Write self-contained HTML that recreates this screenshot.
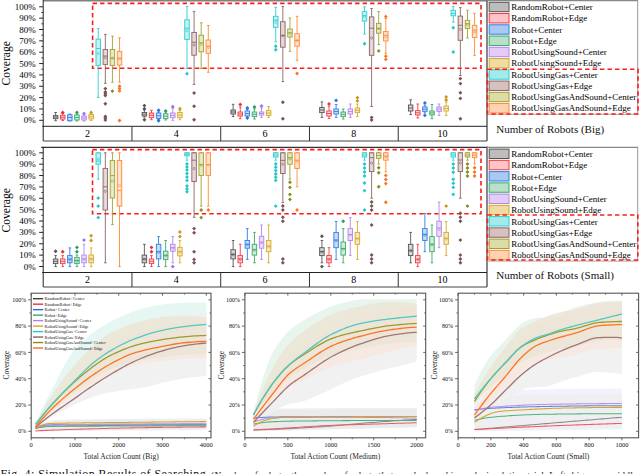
<!DOCTYPE html>
<html><head><meta charset="utf-8"><style>
html,body{margin:0;padding:0;background:#fff;width:640px;height:474px;overflow:hidden}
svg{display:block}
text{font-family:"Liberation Serif",serif}
</style></head><body>
<svg width="640" height="474" viewBox="0 0 640 474">
<rect width="640" height="474" fill="#fff"/>
<g font-family="Liberation Serif, serif">
<line x1="43.2" y1="0.75" x2="488" y2="0.75" stroke="#808080" stroke-width="1.7"/>
<rect x="92.6" y="3.4" width="388.4" height="64.9" fill="none" stroke="#ff1a1a" stroke-width="1.6" stroke-dasharray="4.4 3.1"/>
<g stroke="#555555" stroke-width="0.9" fill="none">
<path d="M55.63 112.5V115.6M55.63 118.7V120.7M54.33 112.5H56.93M54.33 120.7H56.93"/>
<rect x="53.38" y="115.6" width="4.5" height="3.1" fill="#bdbdbd" fill-opacity="0.7"/>
<path d="M53.38 117H57.88"/>
</g>
<g stroke="#f23c46" stroke-width="0.9" fill="none">
<path d="M62.73 113.5V115.2M62.73 119.1V120.5M61.43 113.5H64.03M61.43 120.5H64.03"/>
<rect x="60.48" y="115.2" width="4.5" height="3.9" fill="#ffc4c6" fill-opacity="0.7"/>
<path d="M60.48 117.2H64.98"/>
</g>
<path d="M62.73 110.55L64.68 112.5L62.73 114.45L60.78 112.5Z" fill="#e8303a"/>
<g stroke="#2f7fe6" stroke-width="0.9" fill="none">
<path d="M69.83 114V114.8M69.83 120.7V121M68.53 114H71.13M68.53 121H71.13"/>
<rect x="67.58" y="114.8" width="4.5" height="5.9" fill="#a9c9f2" fill-opacity="0.7"/>
<path d="M69.83 115.8V119.7" stroke="#fff" stroke-opacity="0.55" stroke-width="0.7" stroke-dasharray="1.2 0.8"/>
<path d="M67.58 117.5H72.08"/>
</g>
<g stroke="#3aaa6c" stroke-width="0.9" fill="none">
<path d="M76.93 114V115M76.93 120V121M75.63 114H78.23M75.63 121H78.23"/>
<rect x="74.68" y="115" width="4.5" height="5" fill="#b9e1c9" fill-opacity="0.7"/>
<path d="M76.93 116V119" stroke="#fff" stroke-opacity="0.55" stroke-width="0.7" stroke-dasharray="1.2 0.8"/>
<path d="M74.68 117.5H79.18"/>
</g>
<path d="M76.93 110.55L78.88 112.5L76.93 114.45L74.98 112.5Z" fill="#2e9a5e"/>
<g stroke="#b485ea" stroke-width="0.9" fill="none">
<path d="M84.03 115V116M84.03 120V121M82.73 115H85.33M82.73 121H85.33"/>
<rect x="81.78" y="116" width="4.5" height="4" fill="#e3cdf8" fill-opacity="0.7"/>
<path d="M81.78 118H86.28"/>
</g>
<path d="M84.03 111.65L85.98 113.6L84.03 115.55L82.08 113.6Z" fill="#a070e0"/>
<g stroke="#d7a928" stroke-width="0.9" fill="none">
<path d="M91.13 114V114.5M91.13 119V120.5M89.83 114H92.43M89.83 120.5H92.43"/>
<rect x="88.88" y="114.5" width="4.5" height="4.5" fill="#f0dba2" fill-opacity="0.7"/>
<path d="M91.13 115.5V118" stroke="#fff" stroke-opacity="0.55" stroke-width="0.7" stroke-dasharray="1.2 0.8"/>
<path d="M88.88 116.8H93.38"/>
</g>
<path d="M91.13 110.55L93.08 112.5L91.13 114.45L89.18 112.5Z" fill="#c89818"/>
<g stroke="#2ccfd3" stroke-width="0.9" fill="none">
<path d="M98.23 28.5V39.1M98.23 65.4V97.5M96.93 28.5H99.53M96.93 97.5H99.53"/>
<rect x="95.98" y="39.1" width="4.5" height="26.3" fill="#a4eaea" fill-opacity="0.7"/>
<path d="M98.23 40.1V64.4" stroke="#fff" stroke-opacity="0.55" stroke-width="0.7" stroke-dasharray="1.2 0.8"/>
<path d="M95.98 48.5H100.48"/>
<circle cx="98.23" cy="53.56" r="1.1" stroke-width="0.6"/>
</g>
<g stroke="#8c6464" stroke-width="0.9" fill="none">
<path d="M105.33 34.4V49.5M105.33 64.4V83.3M104.03 34.4H106.63M104.03 83.3H106.63"/>
<rect x="103.08" y="49.5" width="4.5" height="14.9" fill="#d6c0c0" fill-opacity="0.7"/>
<path d="M105.33 50.5V63.4" stroke="#fff" stroke-opacity="0.55" stroke-width="0.7" stroke-dasharray="1.2 0.8"/>
<path d="M103.08 56H107.58"/>
<circle cx="105.33" cy="57.7" r="1.1" stroke-width="0.6"/>
</g>
<path d="M105.33 86.65L107.28 88.6L105.33 90.55L103.38 88.6Z" fill="#7a5050"/>
<path d="M105.33 90.05L107.28 92L105.33 93.95L103.38 92Z" fill="#7a5050"/>
<path d="M105.33 91.75L107.28 93.7L105.33 95.65L103.38 93.7Z" fill="#7a5050"/>
<path d="M105.33 93.55L107.28 95.5L105.33 97.45L103.38 95.5Z" fill="#7a5050"/>
<path d="M105.33 101.75L107.28 103.7L105.33 105.65L103.38 103.7Z" fill="#7a5050"/>
<path d="M105.33 114.45L107.28 116.4L105.33 118.35L103.38 116.4Z" fill="#7a5050"/>
<path d="M105.33 116.05L107.28 118L105.33 119.95L103.38 118Z" fill="#7a5050"/>
<path d="M105.33 118.05L107.28 120L105.33 121.95L103.38 120Z" fill="#7a5050"/>
<g stroke="#a0a034" stroke-width="0.9" fill="none">
<path d="M112.43 36.2V49.5M112.43 65.4V82.2M111.13 36.2H113.73M111.13 82.2H113.73"/>
<rect x="110.18" y="49.5" width="4.5" height="15.9" fill="#dcdca6" fill-opacity="0.7"/>
<path d="M112.43 50.5V64.4" stroke="#fff" stroke-opacity="0.55" stroke-width="0.7" stroke-dasharray="1.2 0.8"/>
<path d="M110.18 58.2H114.68"/>
<circle cx="112.43" cy="58.25" r="1.1" stroke-width="0.6"/>
</g>
<path d="M112.43 89.15L114.38 91.1L112.43 93.05L110.48 91.1Z" fill="#8a8a20"/>
<g stroke="#ff8a32" stroke-width="0.9" fill="none">
<path d="M119.53 37.8V51.4M119.53 65.1V82.2M118.23 37.8H120.83M118.23 82.2H120.83"/>
<rect x="117.28" y="51.4" width="4.5" height="13.7" fill="#ffd2b4" fill-opacity="0.7"/>
<path d="M119.53 52.4V64.1" stroke="#fff" stroke-opacity="0.55" stroke-width="0.7" stroke-dasharray="1.2 0.8"/>
<path d="M117.28 58.4H121.78"/>
<circle cx="119.53" cy="58.94" r="1.1" stroke-width="0.6"/>
</g>
<path d="M119.53 84.35L121.48 86.3L119.53 88.25L117.58 86.3Z" fill="#f57820"/>
<path d="M119.53 86.55L121.48 88.5L119.53 90.45L117.58 88.5Z" fill="#f57820"/>
<path d="M119.53 88.95L121.48 90.9L119.53 92.85L117.58 90.9Z" fill="#f57820"/>
<path d="M119.53 118.55L121.48 120.5L119.53 122.45L117.58 120.5Z" fill="#f57820"/>
<g stroke="#555555" stroke-width="0.9" fill="none">
<path d="M144.39 110V112.5M144.39 116V117M143.09 110H145.69M143.09 117H145.69"/>
<rect x="142.14" y="112.5" width="4.5" height="3.5" fill="#bdbdbd" fill-opacity="0.7"/>
<path d="M142.14 114.2H146.64"/>
</g>
<path d="M144.39 103.65L146.34 105.6L144.39 107.55L142.44 105.6Z" fill="#555555"/>
<path d="M144.39 106.8L146.34 108.75L144.39 110.7L142.44 108.75Z" fill="#555555"/>
<path d="M144.39 117.75L146.34 119.7L144.39 121.65L142.44 119.7Z" fill="#555555"/>
<g stroke="#f23c46" stroke-width="0.9" fill="none">
<path d="M151.49 110.3V113M151.49 117.7V119.7M150.19 110.3H152.79M150.19 119.7H152.79"/>
<rect x="149.24" y="113" width="4.5" height="4.7" fill="#ffc4c6" fill-opacity="0.7"/>
<path d="M151.49 114V116.7" stroke="#fff" stroke-opacity="0.55" stroke-width="0.7" stroke-dasharray="1.2 0.8"/>
<path d="M149.24 115.3H153.74"/>
</g>
<g stroke="#2f7fe6" stroke-width="0.9" fill="none">
<path d="M158.59 112V113M158.59 118.4V119.5M157.29 112H159.89M157.29 119.5H159.89"/>
<rect x="156.34" y="113" width="4.5" height="5.4" fill="#a9c9f2" fill-opacity="0.7"/>
<path d="M158.59 114V117.4" stroke="#fff" stroke-opacity="0.55" stroke-width="0.7" stroke-dasharray="1.2 0.8"/>
<path d="M156.34 115.7H160.84"/>
</g>
<path d="M158.59 108.35L160.54 110.3L158.59 112.25L156.64 110.3Z" fill="#2a72d8"/>
<path d="M158.59 118.85L160.54 120.8L158.59 122.75L156.64 120.8Z" fill="#2a72d8"/>
<g stroke="#3aaa6c" stroke-width="0.9" fill="none">
<path d="M165.69 112V113.75M165.69 118.75V120M164.39 112H166.99M164.39 120H166.99"/>
<rect x="163.44" y="113.75" width="4.5" height="5" fill="#b9e1c9" fill-opacity="0.7"/>
<path d="M165.69 114.75V117.75" stroke="#fff" stroke-opacity="0.55" stroke-width="0.7" stroke-dasharray="1.2 0.8"/>
<path d="M163.44 116.2H167.94"/>
</g>
<path d="M165.69 109.05L167.64 111L165.69 112.95L163.74 111Z" fill="#2e9a5e"/>
<g stroke="#b485ea" stroke-width="0.9" fill="none">
<path d="M172.79 108.3V113M172.79 117.7V120.3M171.49 108.3H174.09M171.49 120.3H174.09"/>
<rect x="170.54" y="113" width="4.5" height="4.7" fill="#e3cdf8" fill-opacity="0.7"/>
<path d="M172.79 114V116.7" stroke="#fff" stroke-opacity="0.55" stroke-width="0.7" stroke-dasharray="1.2 0.8"/>
<path d="M170.54 115.3H175.04"/>
</g>
<path d="M172.79 104.75L174.74 106.7L172.79 108.65L170.84 106.7Z" fill="#a070e0"/>
<g stroke="#d7a928" stroke-width="0.9" fill="none">
<path d="M179.89 110.5V112.5M179.89 117.7V119.7M178.59 110.5H181.19M178.59 119.7H181.19"/>
<rect x="177.64" y="112.5" width="4.5" height="5.2" fill="#f0dba2" fill-opacity="0.7"/>
<path d="M179.89 113.5V116.7" stroke="#fff" stroke-opacity="0.55" stroke-width="0.7" stroke-dasharray="1.2 0.8"/>
<path d="M177.64 115.1H182.14"/>
</g>
<path d="M179.89 106.8L181.84 108.75L179.89 110.7L177.94 108.75Z" fill="#c89818"/>
<g stroke="#2ccfd3" stroke-width="0.9" fill="none">
<path d="M186.99 6.6V19.8M186.99 39.5V68.5M185.69 6.6H188.29M185.69 68.5H188.29"/>
<rect x="184.74" y="19.8" width="4.5" height="19.7" fill="#a4eaea" fill-opacity="0.7"/>
<path d="M186.99 20.8V38.5" stroke="#fff" stroke-opacity="0.55" stroke-width="0.7" stroke-dasharray="1.2 0.8"/>
<path d="M184.74 28.2H189.24"/>
<circle cx="186.99" cy="30.63" r="1.1" stroke-width="0.6"/>
</g>
<path d="M186.99 71.85L188.94 73.8L186.99 75.75L185.04 73.8Z" fill="#22c8cc"/>
<g stroke="#8c6464" stroke-width="0.9" fill="none">
<path d="M194.09 11.4V32.4M194.09 55.2V84.4M192.79 11.4H195.39M192.79 84.4H195.39"/>
<rect x="191.84" y="32.4" width="4.5" height="22.8" fill="#d6c0c0" fill-opacity="0.7"/>
<path d="M194.09 33.4V54.2" stroke="#fff" stroke-opacity="0.55" stroke-width="0.7" stroke-dasharray="1.2 0.8"/>
<path d="M191.84 42.3H196.34"/>
<circle cx="194.09" cy="44.94" r="1.1" stroke-width="0.6"/>
</g>
<path d="M194.09 91.05L196.04 93L194.09 94.95L192.14 93Z" fill="#7a5050"/>
<path d="M194.09 104.35L196.04 106.3L194.09 108.25L192.14 106.3Z" fill="#7a5050"/>
<path d="M194.09 117.75L196.04 119.7L194.09 121.65L192.14 119.7Z" fill="#7a5050"/>
<g stroke="#a0a034" stroke-width="0.9" fill="none">
<path d="M201.19 22.8V35.2M201.19 51.8V68.5M199.89 22.8H202.49M199.89 68.5H202.49"/>
<rect x="198.94" y="35.2" width="4.5" height="16.6" fill="#dcdca6" fill-opacity="0.7"/>
<path d="M201.19 36.2V50.8" stroke="#fff" stroke-opacity="0.55" stroke-width="0.7" stroke-dasharray="1.2 0.8"/>
<path d="M198.94 42.8H203.44"/>
<circle cx="201.19" cy="44.33" r="1.1" stroke-width="0.6"/>
</g>
<g stroke="#ff8a32" stroke-width="0.9" fill="none">
<path d="M208.29 25.5V40M208.29 53.3V72.3M206.99 25.5H209.59M206.99 72.3H209.59"/>
<rect x="206.04" y="40" width="4.5" height="13.3" fill="#ffd2b4" fill-opacity="0.7"/>
<path d="M208.29 41V52.3" stroke="#fff" stroke-opacity="0.55" stroke-width="0.7" stroke-dasharray="1.2 0.8"/>
<path d="M206.04 46.1H210.54"/>
<circle cx="208.29" cy="47.31" r="1.1" stroke-width="0.6"/>
</g>
<g stroke="#555555" stroke-width="0.9" fill="none">
<path d="M233.15 104.3V110M233.15 114V116.6M231.85 104.3H234.45M231.85 116.6H234.45"/>
<rect x="230.9" y="110" width="4.5" height="4" fill="#bdbdbd" fill-opacity="0.7"/>
<path d="M230.9 112H235.4"/>
</g>
<g stroke="#f23c46" stroke-width="0.9" fill="none">
<path d="M240.25 107V112M240.25 116V118.7M238.95 107H241.55M238.95 118.7H241.55"/>
<rect x="238" y="112" width="4.5" height="4" fill="#ffc4c6" fill-opacity="0.7"/>
<path d="M238 114H242.5"/>
</g>
<path d="M240.25 102.55L242.2 104.5L240.25 106.45L238.3 104.5Z" fill="#e8303a"/>
<g stroke="#2f7fe6" stroke-width="0.9" fill="none">
<path d="M247.35 109.5V111M247.35 116V117M246.05 109.5H248.65M246.05 117H248.65"/>
<rect x="245.1" y="111" width="4.5" height="5" fill="#a9c9f2" fill-opacity="0.7"/>
<path d="M247.35 112V115" stroke="#fff" stroke-opacity="0.55" stroke-width="0.7" stroke-dasharray="1.2 0.8"/>
<path d="M245.1 113.5H249.6"/>
</g>
<path d="M247.35 106.05L249.3 108L247.35 109.95L245.4 108Z" fill="#2a72d8"/>
<path d="M247.35 116.05L249.3 118L247.35 119.95L245.4 118Z" fill="#2a72d8"/>
<g stroke="#3aaa6c" stroke-width="0.9" fill="none">
<path d="M254.45 109V112M254.45 116.6V119M253.15 109H255.75M253.15 119H255.75"/>
<rect x="252.2" y="112" width="4.5" height="4.6" fill="#b9e1c9" fill-opacity="0.7"/>
<path d="M254.45 113V115.6" stroke="#fff" stroke-opacity="0.55" stroke-width="0.7" stroke-dasharray="1.2 0.8"/>
<path d="M252.2 114.3H256.7"/>
</g>
<path d="M254.45 105.05L256.4 107L254.45 108.95L252.5 107Z" fill="#2e9a5e"/>
<g stroke="#b485ea" stroke-width="0.9" fill="none">
<path d="M261.55 108V112M261.55 115V117.4M260.25 108H262.85M260.25 117.4H262.85"/>
<rect x="259.3" y="112" width="4.5" height="3" fill="#e3cdf8" fill-opacity="0.7"/>
<path d="M259.3 113.5H263.8"/>
</g>
<path d="M261.55 104.05L263.5 106L261.55 107.95L259.6 106Z" fill="#a070e0"/>
<g stroke="#d7a928" stroke-width="0.9" fill="none">
<path d="M268.65 106.5V110.6M268.65 115.4V117.4M267.35 106.5H269.95M267.35 117.4H269.95"/>
<rect x="266.4" y="110.6" width="4.5" height="4.8" fill="#f0dba2" fill-opacity="0.7"/>
<path d="M268.65 111.6V114.4" stroke="#fff" stroke-opacity="0.55" stroke-width="0.7" stroke-dasharray="1.2 0.8"/>
<path d="M266.4 113H270.9"/>
</g>
<g stroke="#2ccfd3" stroke-width="0.9" fill="none">
<path d="M275.75 7.4V16.3M275.75 27.4V41.8M274.45 7.4H277.05M274.45 41.8H277.05"/>
<rect x="273.5" y="16.3" width="4.5" height="11.1" fill="#a4eaea" fill-opacity="0.7"/>
<path d="M275.75 17.3V26.4" stroke="#fff" stroke-opacity="0.55" stroke-width="0.7" stroke-dasharray="1.2 0.8"/>
<path d="M273.5 20.1H278"/>
<circle cx="275.75" cy="22.41" r="1.1" stroke-width="0.6"/>
</g>
<path d="M275.75 44.25L277.7 46.2L275.75 48.15L273.8 46.2Z" fill="#22c8cc"/>
<path d="M275.75 47.85L277.7 49.8L275.75 51.75L273.8 49.8Z" fill="#22c8cc"/>
<g stroke="#8c6464" stroke-width="0.9" fill="none">
<path d="M282.85 6.6V21.7M282.85 47.2V81.6M281.55 6.6H284.15M281.55 81.6H284.15"/>
<rect x="280.6" y="21.7" width="4.5" height="25.5" fill="#d6c0c0" fill-opacity="0.7"/>
<path d="M282.85 22.7V46.2" stroke="#fff" stroke-opacity="0.55" stroke-width="0.7" stroke-dasharray="1.2 0.8"/>
<path d="M280.6 35.6H285.1"/>
<circle cx="282.85" cy="35.73" r="1.1" stroke-width="0.6"/>
</g>
<path d="M282.85 100.35L284.8 102.3L282.85 104.25L280.9 102.3Z" fill="#7a5050"/>
<path d="M282.85 116.75L284.8 118.7L282.85 120.65L280.9 118.7Z" fill="#7a5050"/>
<g stroke="#a0a034" stroke-width="0.9" fill="none">
<path d="M289.95 18V29M289.95 37V51.3M288.65 18H291.25M288.65 51.3H291.25"/>
<rect x="287.7" y="29" width="4.5" height="8" fill="#dcdca6" fill-opacity="0.7"/>
<path d="M289.95 30V36" stroke="#fff" stroke-opacity="0.55" stroke-width="0.7" stroke-dasharray="1.2 0.8"/>
<path d="M287.7 32.8H292.2"/>
<circle cx="289.95" cy="33.4" r="1.1" stroke-width="0.6"/>
</g>
<g stroke="#ff8a32" stroke-width="0.9" fill="none">
<path d="M297.05 16.3V33.7M297.05 46.2V60.4M295.75 16.3H298.35M295.75 60.4H298.35"/>
<rect x="294.8" y="33.7" width="4.5" height="12.5" fill="#ffd2b4" fill-opacity="0.7"/>
<path d="M297.05 34.7V45.2" stroke="#fff" stroke-opacity="0.55" stroke-width="0.7" stroke-dasharray="1.2 0.8"/>
<path d="M294.8 40.4H299.3"/>
<circle cx="297.05" cy="40.58" r="1.1" stroke-width="0.6"/>
</g>
<path d="M297.05 71.55L299 73.5L297.05 75.45L295.1 73.5Z" fill="#f57820"/>
<g stroke="#555555" stroke-width="0.9" fill="none">
<path d="M321.91 101.9V107.5M321.91 112.6V117.4M320.61 101.9H323.21M320.61 117.4H323.21"/>
<rect x="319.66" y="107.5" width="4.5" height="5.1" fill="#bdbdbd" fill-opacity="0.7"/>
<path d="M321.91 108.5V111.6" stroke="#fff" stroke-opacity="0.55" stroke-width="0.7" stroke-dasharray="1.2 0.8"/>
<path d="M319.66 110H324.16"/>
</g>
<g stroke="#f23c46" stroke-width="0.9" fill="none">
<path d="M329.01 106V111M329.01 116V118.5M327.71 106H330.31M327.71 118.5H330.31"/>
<rect x="326.76" y="111" width="4.5" height="5" fill="#ffc4c6" fill-opacity="0.7"/>
<path d="M329.01 112V115" stroke="#fff" stroke-opacity="0.55" stroke-width="0.7" stroke-dasharray="1.2 0.8"/>
<path d="M326.76 113.5H331.26"/>
</g>
<path d="M329.01 101.95L330.96 103.9L329.01 105.85L327.06 103.9Z" fill="#e8303a"/>
<g stroke="#2f7fe6" stroke-width="0.9" fill="none">
<path d="M336.11 104.5V109M336.11 114V117.4M334.81 104.5H337.41M334.81 117.4H337.41"/>
<rect x="333.86" y="109" width="4.5" height="5" fill="#a9c9f2" fill-opacity="0.7"/>
<path d="M336.11 110V113" stroke="#fff" stroke-opacity="0.55" stroke-width="0.7" stroke-dasharray="1.2 0.8"/>
<path d="M333.86 111.5H338.36"/>
</g>
<path d="M336.11 98.45L338.06 100.4L336.11 102.35L334.16 100.4Z" fill="#2a72d8"/>
<g stroke="#3aaa6c" stroke-width="0.9" fill="none">
<path d="M343.21 109V112M343.21 116.6V119M341.91 109H344.51M341.91 119H344.51"/>
<rect x="340.96" y="112" width="4.5" height="4.6" fill="#b9e1c9" fill-opacity="0.7"/>
<path d="M343.21 113V115.6" stroke="#fff" stroke-opacity="0.55" stroke-width="0.7" stroke-dasharray="1.2 0.8"/>
<path d="M340.96 114.3H345.46"/>
</g>
<g stroke="#b485ea" stroke-width="0.9" fill="none">
<path d="M350.31 104V109M350.31 114V117.4M349.01 104H351.61M349.01 117.4H351.61"/>
<rect x="348.06" y="109" width="4.5" height="5" fill="#e3cdf8" fill-opacity="0.7"/>
<path d="M350.31 110V113" stroke="#fff" stroke-opacity="0.55" stroke-width="0.7" stroke-dasharray="1.2 0.8"/>
<path d="M348.06 111.5H352.56"/>
</g>
<g stroke="#d7a928" stroke-width="0.9" fill="none">
<path d="M357.41 104V108M357.41 112.6V116.6M356.11 104H358.71M356.11 116.6H358.71"/>
<rect x="355.16" y="108" width="4.5" height="4.6" fill="#f0dba2" fill-opacity="0.7"/>
<path d="M357.41 109V111.6" stroke="#fff" stroke-opacity="0.55" stroke-width="0.7" stroke-dasharray="1.2 0.8"/>
<path d="M355.16 110.3H359.66"/>
</g>
<path d="M357.41 95.85L359.36 97.8L357.41 99.75L355.46 97.8Z" fill="#c89818"/>
<path d="M357.41 98.95L359.36 100.9L357.41 102.85L355.46 100.9Z" fill="#c89818"/>
<g stroke="#2ccfd3" stroke-width="0.9" fill="none">
<path d="M364.51 6.8V11.6M364.51 21.1V34.2M363.21 6.8H365.81M363.21 34.2H365.81"/>
<rect x="362.26" y="11.6" width="4.5" height="9.5" fill="#a4eaea" fill-opacity="0.7"/>
<path d="M364.51 12.6V20.1" stroke="#fff" stroke-opacity="0.55" stroke-width="0.7" stroke-dasharray="1.2 0.8"/>
<path d="M362.26 15.7H366.76"/>
<circle cx="364.51" cy="16.83" r="1.1" stroke-width="0.6"/>
</g>
<path d="M364.51 41.75L366.46 43.7L364.51 45.65L362.56 43.7Z" fill="#22c8cc"/>
<g stroke="#8c6464" stroke-width="0.9" fill="none">
<path d="M371.61 8.5V16.9M371.61 55.3V106.5M370.31 8.5H372.91M370.31 106.5H372.91"/>
<rect x="369.36" y="16.9" width="4.5" height="38.4" fill="#d6c0c0" fill-opacity="0.7"/>
<path d="M371.61 17.9V54.3" stroke="#fff" stroke-opacity="0.55" stroke-width="0.7" stroke-dasharray="1.2 0.8"/>
<path d="M369.36 28.2H373.86"/>
<circle cx="371.61" cy="38.02" r="1.1" stroke-width="0.6"/>
</g>
<path d="M371.61 115.45L373.56 117.4L371.61 119.35L369.66 117.4Z" fill="#7a5050"/>
<path d="M371.61 118.05L373.56 120L371.61 121.95L369.66 120Z" fill="#7a5050"/>
<g stroke="#a0a034" stroke-width="0.9" fill="none">
<path d="M378.71 11.6V23.3M378.71 33.2V44.5M377.41 11.6H380.01M377.41 44.5H380.01"/>
<rect x="376.46" y="23.3" width="4.5" height="9.9" fill="#dcdca6" fill-opacity="0.7"/>
<path d="M378.71 24.3V32.2" stroke="#fff" stroke-opacity="0.55" stroke-width="0.7" stroke-dasharray="1.2 0.8"/>
<path d="M376.46 28.5H380.96"/>
<circle cx="378.71" cy="28.75" r="1.1" stroke-width="0.6"/>
</g>
<path d="M378.71 48.95L380.66 50.9L378.71 52.85L376.76 50.9Z" fill="#8a8a20"/>
<g stroke="#ff8a32" stroke-width="0.9" fill="none">
<path d="M385.81 18.5V31.5M385.81 41V53.3M384.51 18.5H387.11M384.51 53.3H387.11"/>
<rect x="383.56" y="31.5" width="4.5" height="9.5" fill="#ffd2b4" fill-opacity="0.7"/>
<path d="M385.81 32.5V40" stroke="#fff" stroke-opacity="0.55" stroke-width="0.7" stroke-dasharray="1.2 0.8"/>
<path d="M383.56 35.3H388.06"/>
<circle cx="385.81" cy="36.73" r="1.1" stroke-width="0.6"/>
</g>
<path d="M385.81 14.65L387.76 16.6L385.81 18.55L383.86 16.6Z" fill="#f57820"/>
<path d="M385.81 54.35L387.76 56.3L385.81 58.25L383.86 56.3Z" fill="#f57820"/>
<path d="M385.81 57.45L387.76 59.4L385.81 61.35L383.86 59.4Z" fill="#f57820"/>
<g stroke="#555555" stroke-width="0.9" fill="none">
<path d="M410.67 99.8V105M410.67 111V114.6M409.37 99.8H411.97M409.37 114.6H411.97"/>
<rect x="408.42" y="105" width="4.5" height="6" fill="#bdbdbd" fill-opacity="0.7"/>
<path d="M410.67 106V110" stroke="#fff" stroke-opacity="0.55" stroke-width="0.7" stroke-dasharray="1.2 0.8"/>
<path d="M408.42 108H412.92"/>
</g>
<g stroke="#f23c46" stroke-width="0.9" fill="none">
<path d="M417.77 104V110.6M417.77 115V118M416.47 104H419.07M416.47 118H419.07"/>
<rect x="415.52" y="110.6" width="4.5" height="4.4" fill="#ffc4c6" fill-opacity="0.7"/>
<path d="M417.77 111.6V114" stroke="#fff" stroke-opacity="0.55" stroke-width="0.7" stroke-dasharray="1.2 0.8"/>
<path d="M415.52 112.8H420.02"/>
</g>
<g stroke="#2f7fe6" stroke-width="0.9" fill="none">
<path d="M424.87 105V107M424.87 111.4V113M423.57 105H426.17M423.57 113H426.17"/>
<rect x="422.62" y="107" width="4.5" height="4.4" fill="#a9c9f2" fill-opacity="0.7"/>
<path d="M424.87 108V110.4" stroke="#fff" stroke-opacity="0.55" stroke-width="0.7" stroke-dasharray="1.2 0.8"/>
<path d="M422.62 109.2H427.12"/>
</g>
<path d="M424.87 100.95L426.82 102.9L424.87 104.85L422.92 102.9Z" fill="#2a72d8"/>
<path d="M424.87 113.45L426.82 115.4L424.87 117.35L422.92 115.4Z" fill="#2a72d8"/>
<g stroke="#3aaa6c" stroke-width="0.9" fill="none">
<path d="M431.97 104.5V111M431.97 115V118.7M430.67 104.5H433.27M430.67 118.7H433.27"/>
<rect x="429.72" y="111" width="4.5" height="4" fill="#b9e1c9" fill-opacity="0.7"/>
<path d="M429.72 113H434.22"/>
</g>
<g stroke="#b485ea" stroke-width="0.9" fill="none">
<path d="M439.07 104V107M439.07 111.4V115.4M437.77 104H440.37M437.77 115.4H440.37"/>
<rect x="436.82" y="107" width="4.5" height="4.4" fill="#e3cdf8" fill-opacity="0.7"/>
<path d="M439.07 108V110.4" stroke="#fff" stroke-opacity="0.55" stroke-width="0.7" stroke-dasharray="1.2 0.8"/>
<path d="M436.82 109.2H441.32"/>
</g>
<g stroke="#d7a928" stroke-width="0.9" fill="none">
<path d="M446.17 102V106M446.17 111V115.4M444.87 102H447.47M444.87 115.4H447.47"/>
<rect x="443.92" y="106" width="4.5" height="5" fill="#f0dba2" fill-opacity="0.7"/>
<path d="M446.17 107V110" stroke="#fff" stroke-opacity="0.55" stroke-width="0.7" stroke-dasharray="1.2 0.8"/>
<path d="M443.92 108.5H448.42"/>
</g>
<path d="M446.17 95.05L448.12 97L446.17 98.95L444.22 97Z" fill="#c89818"/>
<path d="M446.17 98.05L448.12 100L446.17 101.95L444.22 100Z" fill="#c89818"/>
<g stroke="#2ccfd3" stroke-width="0.9" fill="none">
<path d="M453.27 6.6V10.3M453.27 15.8V22.2M451.97 6.6H454.57M451.97 22.2H454.57"/>
<rect x="451.02" y="10.3" width="4.5" height="5.5" fill="#a4eaea" fill-opacity="0.7"/>
<path d="M453.27 11.3V14.8" stroke="#fff" stroke-opacity="0.55" stroke-width="0.7" stroke-dasharray="1.2 0.8"/>
<path d="M451.02 13.4H455.52"/>
</g>
<path d="M453.27 25.75L455.22 27.7L453.27 29.65L451.32 27.7Z" fill="#22c8cc"/>
<path d="M453.27 50.05L455.22 52L453.27 53.95L451.32 52Z" fill="#22c8cc"/>
<g stroke="#8c6464" stroke-width="0.9" fill="none">
<path d="M460.37 7.6V16.1M460.37 40.3V75.5M459.07 7.6H461.67M459.07 75.5H461.67"/>
<rect x="458.12" y="16.1" width="4.5" height="24.2" fill="#d6c0c0" fill-opacity="0.7"/>
<path d="M460.37 17.1V39.3" stroke="#fff" stroke-opacity="0.55" stroke-width="0.7" stroke-dasharray="1.2 0.8"/>
<path d="M458.12 25.3H462.62"/>
<circle cx="460.37" cy="29.41" r="1.1" stroke-width="0.6"/>
</g>
<path d="M460.37 76.65L462.32 78.6L460.37 80.55L458.42 78.6Z" fill="#7a5050"/>
<path d="M460.37 81.65L462.32 83.6L460.37 85.55L458.42 83.6Z" fill="#7a5050"/>
<path d="M460.37 90.85L462.32 92.8L460.37 94.75L458.42 92.8Z" fill="#7a5050"/>
<path d="M460.37 96.45L462.32 98.4L460.37 100.35L458.42 98.4Z" fill="#7a5050"/>
<path d="M460.37 116.75L462.32 118.7L460.37 120.65L458.42 118.7Z" fill="#7a5050"/>
<g stroke="#a0a034" stroke-width="0.9" fill="none">
<path d="M467.47 10.3V20.3M467.47 28.5V38M466.17 10.3H468.77M466.17 38H468.77"/>
<rect x="465.22" y="20.3" width="4.5" height="8.2" fill="#dcdca6" fill-opacity="0.7"/>
<path d="M467.47 21.3V27.5" stroke="#fff" stroke-opacity="0.55" stroke-width="0.7" stroke-dasharray="1.2 0.8"/>
<path d="M465.22 23.7H469.72"/>
<circle cx="467.47" cy="24.81" r="1.1" stroke-width="0.6"/>
</g>
<g stroke="#ff8a32" stroke-width="0.9" fill="none">
<path d="M474.57 13.4V25.3M474.57 37.5V55.4M473.27 13.4H475.87M473.27 55.4H475.87"/>
<rect x="472.32" y="25.3" width="4.5" height="12.2" fill="#ffd2b4" fill-opacity="0.7"/>
<path d="M474.57 26.3V36.5" stroke="#fff" stroke-opacity="0.55" stroke-width="0.7" stroke-dasharray="1.2 0.8"/>
<path d="M472.32 30H476.82"/>
<circle cx="474.57" cy="32.01" r="1.1" stroke-width="0.6"/>
</g>
<line x1="43.2" y1="0" x2="43.2" y2="141" stroke="#222" stroke-width="1"/>
<line x1="487" y1="0" x2="487" y2="141" stroke="#555" stroke-width="1.4"/>
<line x1="42.2" y1="126.3" x2="487" y2="126.3" stroke="#222" stroke-width="1"/>
<line x1="43.2" y1="141" x2="487" y2="141" stroke="#444" stroke-width="1.2"/>
<line x1="131.96" y1="126.3" x2="131.96" y2="141" stroke="#333" stroke-width="1"/>
<line x1="220.72" y1="126.3" x2="220.72" y2="141" stroke="#333" stroke-width="1"/>
<line x1="309.48" y1="126.3" x2="309.48" y2="141" stroke="#333" stroke-width="1"/>
<line x1="398.24" y1="126.3" x2="398.24" y2="141" stroke="#333" stroke-width="1"/>
<text x="87.58" y="136.85" font-size="10" text-anchor="middle" fill="#000">2</text>
<text x="176.34" y="136.85" font-size="10" text-anchor="middle" fill="#000">4</text>
<text x="265.1" y="136.85" font-size="10" text-anchor="middle" fill="#000">6</text>
<text x="353.86" y="136.85" font-size="10" text-anchor="middle" fill="#000">8</text>
<text x="442.62" y="136.85" font-size="10" text-anchor="middle" fill="#000">10</text>
<line x1="39.2" y1="120.3" x2="43.2" y2="120.3" stroke="#222" stroke-width="1"/>
<text x="35.7" y="123.4" font-size="9" text-anchor="end" fill="#000">0%</text>
<line x1="41.2" y1="114.62" x2="43.2" y2="114.62" stroke="#222" stroke-width="0.8"/>
<line x1="39.2" y1="108.95" x2="43.2" y2="108.95" stroke="#222" stroke-width="1"/>
<text x="35.7" y="112.05" font-size="9" text-anchor="end" fill="#000">10%</text>
<line x1="41.2" y1="103.28" x2="43.2" y2="103.28" stroke="#222" stroke-width="0.8"/>
<line x1="39.2" y1="97.6" x2="43.2" y2="97.6" stroke="#222" stroke-width="1"/>
<text x="35.7" y="100.7" font-size="9" text-anchor="end" fill="#000">20%</text>
<line x1="41.2" y1="91.92" x2="43.2" y2="91.92" stroke="#222" stroke-width="0.8"/>
<line x1="39.2" y1="86.25" x2="43.2" y2="86.25" stroke="#222" stroke-width="1"/>
<text x="35.7" y="89.35" font-size="9" text-anchor="end" fill="#000">30%</text>
<line x1="41.2" y1="80.58" x2="43.2" y2="80.58" stroke="#222" stroke-width="0.8"/>
<line x1="39.2" y1="74.9" x2="43.2" y2="74.9" stroke="#222" stroke-width="1"/>
<text x="35.7" y="78" font-size="9" text-anchor="end" fill="#000">40%</text>
<line x1="41.2" y1="69.23" x2="43.2" y2="69.23" stroke="#222" stroke-width="0.8"/>
<line x1="39.2" y1="63.55" x2="43.2" y2="63.55" stroke="#222" stroke-width="1"/>
<text x="35.7" y="66.65" font-size="9" text-anchor="end" fill="#000">50%</text>
<line x1="41.2" y1="57.88" x2="43.2" y2="57.88" stroke="#222" stroke-width="0.8"/>
<line x1="39.2" y1="52.2" x2="43.2" y2="52.2" stroke="#222" stroke-width="1"/>
<text x="35.7" y="55.3" font-size="9" text-anchor="end" fill="#000">60%</text>
<line x1="41.2" y1="46.53" x2="43.2" y2="46.53" stroke="#222" stroke-width="0.8"/>
<line x1="39.2" y1="40.85" x2="43.2" y2="40.85" stroke="#222" stroke-width="1"/>
<text x="35.7" y="43.95" font-size="9" text-anchor="end" fill="#000">70%</text>
<line x1="41.2" y1="35.17" x2="43.2" y2="35.17" stroke="#222" stroke-width="0.8"/>
<line x1="39.2" y1="29.5" x2="43.2" y2="29.5" stroke="#222" stroke-width="1"/>
<text x="35.7" y="32.6" font-size="9" text-anchor="end" fill="#000">80%</text>
<line x1="41.2" y1="23.82" x2="43.2" y2="23.82" stroke="#222" stroke-width="0.8"/>
<line x1="39.2" y1="18.15" x2="43.2" y2="18.15" stroke="#222" stroke-width="1"/>
<text x="35.7" y="21.25" font-size="9" text-anchor="end" fill="#000">90%</text>
<line x1="41.2" y1="12.48" x2="43.2" y2="12.48" stroke="#222" stroke-width="0.8"/>
<line x1="39.2" y1="6.8" x2="43.2" y2="6.8" stroke="#222" stroke-width="1"/>
<text x="35.7" y="9.9" font-size="9" text-anchor="end" fill="#000">100%</text>
<text transform="translate(10.3 63.25) rotate(-90)" font-size="11.6" text-anchor="middle" fill="#000">Coverage</text>
<line x1="487" y1="0.6" x2="638" y2="0.6" stroke="#888" stroke-width="1.2"/>
<line x1="637.7" y1="0" x2="637.7" y2="113.8" stroke="#999" stroke-width="1"/>
<line x1="487" y1="114.3" x2="638" y2="114.3" stroke="#aaa" stroke-width="1"/>
<rect x="489.2" y="2.3" width="19.8" height="9.4" fill="#bdbdbd" stroke="#555555" stroke-width="1"/>
<text x="511.2" y="10.2" font-size="9" fill="#000">RandomRobot+Center</text>
<rect x="489.2" y="13.55" width="19.8" height="9.4" fill="#ffc4c6" stroke="#f23c46" stroke-width="1"/>
<text x="511.2" y="21.45" font-size="9" fill="#000">RandomRobot+Edge</text>
<rect x="489.2" y="24.8" width="19.8" height="9.4" fill="#a9c9f2" stroke="#2f7fe6" stroke-width="1"/>
<text x="511.2" y="32.7" font-size="9" fill="#000">Robot+Center</text>
<rect x="489.2" y="36.05" width="19.8" height="9.4" fill="#b9e1c9" stroke="#3aaa6c" stroke-width="1"/>
<text x="511.2" y="43.95" font-size="9" fill="#000">Robot+Edge</text>
<rect x="489.2" y="47.3" width="19.8" height="9.4" fill="#e3cdf8" stroke="#b485ea" stroke-width="1"/>
<text x="511.2" y="55.2" font-size="9" fill="#000">RobotUsingSound+Center</text>
<rect x="489.2" y="58.55" width="19.8" height="9.4" fill="#f0dba2" stroke="#d7a928" stroke-width="1"/>
<text x="511.2" y="66.45" font-size="9" fill="#000">RobotUsingSound+Edge</text>
<rect x="489.2" y="69.8" width="19.8" height="9.4" fill="#a4eaea" stroke="#2ccfd3" stroke-width="1"/>
<text x="511.2" y="77.7" font-size="9" fill="#000">RobotUsingGas+Center</text>
<rect x="489.2" y="81.05" width="19.8" height="9.4" fill="#d6c0c0" stroke="#8c6464" stroke-width="1"/>
<text x="511.2" y="88.95" font-size="9" fill="#000">RobotUsingGas+Edge</text>
<rect x="489.2" y="92.3" width="19.8" height="9.4" fill="#dcdca6" stroke="#a0a034" stroke-width="1"/>
<text x="511.2" y="100.2" font-size="9" fill="#000">RobotUsingGasAndSound+Center</text>
<rect x="489.2" y="103.55" width="19.8" height="9.4" fill="#ffd2b4" stroke="#ff8a32" stroke-width="1"/>
<text x="511.2" y="111.45" font-size="9" fill="#000">RobotUsingGasAndSound+Edge</text>
<rect x="487.5" y="69.3" width="150.5" height="44.7" fill="none" stroke="#ff1a1a" stroke-width="1.6" stroke-dasharray="4.4 3.1"/>
<text x="496.3" y="133" font-size="11" fill="#111">Number of Robots (Big)</text>
<line x1="41.2" y1="147.4" x2="488" y2="147.4" stroke="#333" stroke-width="1.1"/>
<rect x="92.5" y="149.6" width="388.5" height="64.2" fill="none" stroke="#ff1a1a" stroke-width="1.6" stroke-dasharray="4.4 3.1"/>
<g stroke="#555555" stroke-width="0.9" fill="none">
<path d="M55.63 255.6V259M55.63 263.6V266.6M54.33 255.6H56.93M54.33 266.6H56.93"/>
<rect x="53.38" y="259" width="4.5" height="4.6" fill="#bdbdbd" fill-opacity="0.7"/>
<path d="M55.63 260V262.6" stroke="#fff" stroke-opacity="0.55" stroke-width="0.7" stroke-dasharray="1.2 0.8"/>
<path d="M53.38 261.3H57.88"/>
</g>
<path d="M55.63 249.25L57.58 251.2L55.63 253.15L53.68 251.2Z" fill="#555555"/>
<g stroke="#f23c46" stroke-width="0.9" fill="none">
<path d="M62.73 255.6V259M62.73 263.6V266.6M61.43 255.6H64.03M61.43 266.6H64.03"/>
<rect x="60.48" y="259" width="4.5" height="4.6" fill="#ffc4c6" fill-opacity="0.7"/>
<path d="M62.73 260V262.6" stroke="#fff" stroke-opacity="0.55" stroke-width="0.7" stroke-dasharray="1.2 0.8"/>
<path d="M60.48 261.3H64.98"/>
</g>
<path d="M62.73 249.75L64.68 251.7L62.73 253.65L60.78 251.7Z" fill="#e8303a"/>
<g stroke="#2f7fe6" stroke-width="0.9" fill="none">
<path d="M69.83 247.9V255.6M69.83 262.8V266.6M68.53 247.9H71.13M68.53 266.6H71.13"/>
<rect x="67.58" y="255.6" width="4.5" height="7.2" fill="#a9c9f2" fill-opacity="0.7"/>
<path d="M69.83 256.6V261.8" stroke="#fff" stroke-opacity="0.55" stroke-width="0.7" stroke-dasharray="1.2 0.8"/>
<path d="M67.58 259.2H72.08"/>
<circle cx="69.83" cy="259.56" r="1.1" stroke-width="0.6"/>
</g>
<g stroke="#3aaa6c" stroke-width="0.9" fill="none">
<path d="M76.93 255V257.4M76.93 263.6V266.6M75.63 255H78.23M75.63 266.6H78.23"/>
<rect x="74.68" y="257.4" width="4.5" height="6.2" fill="#b9e1c9" fill-opacity="0.7"/>
<path d="M76.93 258.4V262.6" stroke="#fff" stroke-opacity="0.55" stroke-width="0.7" stroke-dasharray="1.2 0.8"/>
<path d="M74.68 260.5H79.18"/>
<circle cx="76.93" cy="260.81" r="1.1" stroke-width="0.6"/>
</g>
<path d="M76.93 245.45L78.88 247.4L76.93 249.35L74.98 247.4Z" fill="#2e9a5e"/>
<path d="M76.93 249.75L78.88 251.7L76.93 253.65L74.98 251.7Z" fill="#2e9a5e"/>
<g stroke="#b485ea" stroke-width="0.9" fill="none">
<path d="M84.03 244.3V255.1M84.03 262.8V266.6M82.73 244.3H85.33M82.73 266.6H85.33"/>
<rect x="81.78" y="255.1" width="4.5" height="7.7" fill="#e3cdf8" fill-opacity="0.7"/>
<path d="M84.03 256.1V261.8" stroke="#fff" stroke-opacity="0.55" stroke-width="0.7" stroke-dasharray="1.2 0.8"/>
<path d="M81.78 259H86.28"/>
<circle cx="84.03" cy="259.33" r="1.1" stroke-width="0.6"/>
</g>
<path d="M84.03 238.15L85.98 240.1L84.03 242.05L82.08 240.1Z" fill="#a070e0"/>
<g stroke="#d7a928" stroke-width="0.9" fill="none">
<path d="M91.13 247.9V255M91.13 262.8V266.6M89.83 247.9H92.43M89.83 266.6H92.43"/>
<rect x="88.88" y="255" width="4.5" height="7.8" fill="#f0dba2" fill-opacity="0.7"/>
<path d="M91.13 256V261.8" stroke="#fff" stroke-opacity="0.55" stroke-width="0.7" stroke-dasharray="1.2 0.8"/>
<path d="M88.88 258.9H93.38"/>
<circle cx="91.13" cy="259.29" r="1.1" stroke-width="0.6"/>
</g>
<path d="M91.13 233.85L93.08 235.8L91.13 237.75L89.18 235.8Z" fill="#c89818"/>
<path d="M91.13 238.55L93.08 240.5L91.13 242.45L89.18 240.5Z" fill="#c89818"/>
<g stroke="#2ccfd3" stroke-width="0.9" fill="none">
<path d="M98.23 152.8V152.8M98.23 164.2V179.2M96.93 152.8H99.53M96.93 179.2H99.53"/>
<rect x="95.98" y="152.8" width="4.5" height="11.4" fill="#a4eaea" fill-opacity="0.7"/>
<path d="M98.23 153.8V163.2" stroke="#fff" stroke-opacity="0.55" stroke-width="0.7" stroke-dasharray="1.2 0.8"/>
<path d="M95.98 161.2H100.48"/>
<circle cx="98.23" cy="159.07" r="1.1" stroke-width="0.6"/>
</g>
<path d="M98.23 196.15L100.18 198.1L98.23 200.05L96.28 198.1Z" fill="#22c8cc"/>
<path d="M98.23 204.15L100.18 206.1L98.23 208.05L96.28 206.1Z" fill="#22c8cc"/>
<path d="M98.23 215.65L100.18 217.6L98.23 219.55L96.28 217.6Z" fill="#22c8cc"/>
<g stroke="#8c6464" stroke-width="0.9" fill="none">
<path d="M105.33 152.8V168.4M105.33 210V262.8M104.03 152.8H106.63M104.03 262.8H106.63"/>
<rect x="103.08" y="168.4" width="4.5" height="41.6" fill="#d6c0c0" fill-opacity="0.7"/>
<path d="M105.33 169.4V209" stroke="#fff" stroke-opacity="0.55" stroke-width="0.7" stroke-dasharray="1.2 0.8"/>
<path d="M103.08 186.8H107.58"/>
<circle cx="105.33" cy="191.28" r="1.1" stroke-width="0.6"/>
</g>
<g stroke="#a0a034" stroke-width="0.9" fill="none">
<path d="M112.43 152.8V160.4M112.43 198V224.6M111.13 152.8H113.73M111.13 224.6H113.73"/>
<rect x="110.18" y="160.4" width="4.5" height="37.6" fill="#dcdca6" fill-opacity="0.7"/>
<path d="M112.43 161.4V197" stroke="#fff" stroke-opacity="0.55" stroke-width="0.7" stroke-dasharray="1.2 0.8"/>
<path d="M110.18 175.6H114.68"/>
<circle cx="112.43" cy="181.08" r="1.1" stroke-width="0.6"/>
</g>
<g stroke="#ff8a32" stroke-width="0.9" fill="none">
<path d="M119.53 152.8V160.4M119.53 206.1V266.6M118.23 152.8H120.83M118.23 266.6H120.83"/>
<rect x="117.28" y="160.4" width="4.5" height="45.7" fill="#ffd2b4" fill-opacity="0.7"/>
<path d="M119.53 161.4V205.1" stroke="#fff" stroke-opacity="0.55" stroke-width="0.7" stroke-dasharray="1.2 0.8"/>
<path d="M117.28 190.6H121.78"/>
<circle cx="119.53" cy="185.53" r="1.1" stroke-width="0.6"/>
</g>
<g stroke="#555555" stroke-width="0.9" fill="none">
<path d="M144.39 244.3V255.1M144.39 262.8V266.6M143.09 244.3H145.69M143.09 266.6H145.69"/>
<rect x="142.14" y="255.1" width="4.5" height="7.7" fill="#bdbdbd" fill-opacity="0.7"/>
<path d="M144.39 256.1V261.8" stroke="#fff" stroke-opacity="0.55" stroke-width="0.7" stroke-dasharray="1.2 0.8"/>
<path d="M142.14 259H146.64"/>
<circle cx="144.39" cy="259.33" r="1.1" stroke-width="0.6"/>
</g>
<g stroke="#f23c46" stroke-width="0.9" fill="none">
<path d="M151.49 255.6V259M151.49 263.6V266.6M150.19 255.6H152.79M150.19 266.6H152.79"/>
<rect x="149.24" y="259" width="4.5" height="4.6" fill="#ffc4c6" fill-opacity="0.7"/>
<path d="M151.49 260V262.6" stroke="#fff" stroke-opacity="0.55" stroke-width="0.7" stroke-dasharray="1.2 0.8"/>
<path d="M149.24 261.3H153.74"/>
</g>
<path d="M151.49 245.45L153.44 247.4L151.49 249.35L149.54 247.4Z" fill="#e8303a"/>
<path d="M151.49 249.75L153.44 251.7L151.49 253.65L149.54 251.7Z" fill="#e8303a"/>
<g stroke="#2f7fe6" stroke-width="0.9" fill="none">
<path d="M158.59 236.6V244.3M158.59 258.9V266.6M157.29 236.6H159.89M157.29 266.6H159.89"/>
<rect x="156.34" y="244.3" width="4.5" height="14.6" fill="#a9c9f2" fill-opacity="0.7"/>
<path d="M158.59 245.3V257.9" stroke="#fff" stroke-opacity="0.55" stroke-width="0.7" stroke-dasharray="1.2 0.8"/>
<path d="M156.34 251.7H160.84"/>
<circle cx="158.59" cy="252.33" r="1.1" stroke-width="0.6"/>
</g>
<g stroke="#3aaa6c" stroke-width="0.9" fill="none">
<path d="M165.69 240.5V251.2M165.69 259.4V266.6M164.39 240.5H166.99M164.39 266.6H166.99"/>
<rect x="163.44" y="251.2" width="4.5" height="8.2" fill="#b9e1c9" fill-opacity="0.7"/>
<path d="M165.69 252.2V258.4" stroke="#fff" stroke-opacity="0.55" stroke-width="0.7" stroke-dasharray="1.2 0.8"/>
<path d="M163.44 255.3H167.94"/>
<circle cx="165.69" cy="255.71" r="1.1" stroke-width="0.6"/>
</g>
<g stroke="#b485ea" stroke-width="0.9" fill="none">
<path d="M172.79 236.6V244.3M172.79 251.2V262.8M171.49 236.6H174.09M171.49 262.8H174.09"/>
<rect x="170.54" y="244.3" width="4.5" height="6.9" fill="#e3cdf8" fill-opacity="0.7"/>
<path d="M172.79 245.3V250.2" stroke="#fff" stroke-opacity="0.55" stroke-width="0.7" stroke-dasharray="1.2 0.8"/>
<path d="M170.54 247.7H175.04"/>
<circle cx="172.79" cy="248.09" r="1.1" stroke-width="0.6"/>
</g>
<path d="M172.79 264.65L174.74 266.6L172.79 268.55L170.84 266.6Z" fill="#a070e0"/>
<g stroke="#d7a928" stroke-width="0.9" fill="none">
<path d="M179.89 240.5V247.4M179.89 255.9V262.8M178.59 240.5H181.19M178.59 262.8H181.19"/>
<rect x="177.64" y="247.4" width="4.5" height="8.5" fill="#f0dba2" fill-opacity="0.7"/>
<path d="M179.89 248.4V254.9" stroke="#fff" stroke-opacity="0.55" stroke-width="0.7" stroke-dasharray="1.2 0.8"/>
<path d="M177.64 251.6H182.14"/>
<circle cx="179.89" cy="252.08" r="1.1" stroke-width="0.6"/>
</g>
<path d="M179.89 230.05L181.84 232L179.89 233.95L177.94 232Z" fill="#c89818"/>
<path d="M179.89 234.65L181.84 236.6L179.89 238.55L177.94 236.6Z" fill="#c89818"/>
<g stroke="#2ccfd3" stroke-width="0.9" fill="none">
<path d="M186.99 152.8V152.8M186.99 155.8V160.2M185.69 152.8H188.29M185.69 160.2H188.29"/>
<rect x="184.74" y="152.8" width="4.5" height="3" fill="#a4eaea" fill-opacity="0.7"/>
<path d="M184.74 154.3H189.24"/>
</g>
<path d="M186.99 162.05L188.94 164L186.99 165.95L185.04 164Z" fill="#22c8cc"/>
<path d="M186.99 165.05L188.94 167L186.99 168.95L185.04 167Z" fill="#22c8cc"/>
<path d="M186.99 168.05L188.94 170L186.99 171.95L185.04 170Z" fill="#22c8cc"/>
<path d="M186.99 171.55L188.94 173.5L186.99 175.45L185.04 173.5Z" fill="#22c8cc"/>
<path d="M186.99 175.05L188.94 177L186.99 178.95L185.04 177Z" fill="#22c8cc"/>
<path d="M186.99 178.45L188.94 180.4L186.99 182.35L185.04 180.4Z" fill="#22c8cc"/>
<path d="M186.99 184.05L188.94 186L186.99 187.95L185.04 186Z" fill="#22c8cc"/>
<path d="M186.99 187.05L188.94 189L186.99 190.95L185.04 189Z" fill="#22c8cc"/>
<path d="M186.99 189.85L188.94 191.8L186.99 193.75L185.04 191.8Z" fill="#22c8cc"/>
<g stroke="#8c6464" stroke-width="0.9" fill="none">
<path d="M194.09 152.8V152.8M194.09 181.5V217.3M192.79 152.8H195.39M192.79 217.3H195.39"/>
<rect x="191.84" y="152.8" width="4.5" height="28.7" fill="#d6c0c0" fill-opacity="0.7"/>
<path d="M194.09 153.8V180.5" stroke="#fff" stroke-opacity="0.55" stroke-width="0.7" stroke-dasharray="1.2 0.8"/>
<path d="M191.84 160.2H196.34"/>
<circle cx="194.09" cy="168.59" r="1.1" stroke-width="0.6"/>
</g>
<path d="M194.09 226.65L196.04 228.6L194.09 230.55L192.14 228.6Z" fill="#7a5050"/>
<path d="M194.09 230.85L196.04 232.8L194.09 234.75L192.14 232.8Z" fill="#7a5050"/>
<path d="M194.09 249.75L196.04 251.7L194.09 253.65L192.14 251.7Z" fill="#7a5050"/>
<path d="M194.09 257.45L196.04 259.4L194.09 261.35L192.14 259.4Z" fill="#7a5050"/>
<path d="M194.09 260.85L196.04 262.8L194.09 264.75L192.14 262.8Z" fill="#7a5050"/>
<g stroke="#a0a034" stroke-width="0.9" fill="none">
<path d="M201.19 152.8V152.8M201.19 175.4V206.1M199.89 152.8H202.49M199.89 206.1H202.49"/>
<rect x="198.94" y="152.8" width="4.5" height="22.6" fill="#dcdca6" fill-opacity="0.7"/>
<path d="M201.19 153.8V174.4" stroke="#fff" stroke-opacity="0.55" stroke-width="0.7" stroke-dasharray="1.2 0.8"/>
<path d="M198.94 164.6H203.44"/>
<circle cx="201.19" cy="165.23" r="1.1" stroke-width="0.6"/>
</g>
<path d="M201.19 208.05L203.14 210L201.19 211.95L199.24 210Z" fill="#8a8a20"/>
<path d="M201.19 215.65L203.14 217.6L201.19 219.55L199.24 217.6Z" fill="#8a8a20"/>
<g stroke="#ff8a32" stroke-width="0.9" fill="none">
<path d="M208.29 152.8V152.8M208.29 175.4V206.1M206.99 152.8H209.59M206.99 206.1H209.59"/>
<rect x="206.04" y="152.8" width="4.5" height="22.6" fill="#ffd2b4" fill-opacity="0.7"/>
<path d="M208.29 153.8V174.4" stroke="#fff" stroke-opacity="0.55" stroke-width="0.7" stroke-dasharray="1.2 0.8"/>
<path d="M206.04 164.6H210.54"/>
<circle cx="208.29" cy="165.23" r="1.1" stroke-width="0.6"/>
</g>
<path d="M208.29 208.05L210.24 210L208.29 211.95L206.34 210Z" fill="#f57820"/>
<g stroke="#555555" stroke-width="0.9" fill="none">
<path d="M233.15 240.5V249.7M233.15 258.9V266.6M231.85 240.5H234.45M231.85 266.6H234.45"/>
<rect x="230.9" y="249.7" width="4.5" height="9.2" fill="#bdbdbd" fill-opacity="0.7"/>
<path d="M233.15 250.7V257.9" stroke="#fff" stroke-opacity="0.55" stroke-width="0.7" stroke-dasharray="1.2 0.8"/>
<path d="M230.9 254.3H235.4"/>
<circle cx="233.15" cy="254.76" r="1.1" stroke-width="0.6"/>
</g>
<g stroke="#f23c46" stroke-width="0.9" fill="none">
<path d="M240.25 244.3V255.4M240.25 262.8V266.6M238.95 244.3H241.55M238.95 266.6H241.55"/>
<rect x="238" y="255.4" width="4.5" height="7.4" fill="#ffc4c6" fill-opacity="0.7"/>
<path d="M240.25 256.4V261.8" stroke="#fff" stroke-opacity="0.55" stroke-width="0.7" stroke-dasharray="1.2 0.8"/>
<path d="M238 259.1H242.5"/>
<circle cx="240.25" cy="259.47" r="1.1" stroke-width="0.6"/>
</g>
<g stroke="#2f7fe6" stroke-width="0.9" fill="none">
<path d="M247.35 228.6V240.5M247.35 248.2V259.4M246.05 228.6H248.65M246.05 259.4H248.65"/>
<rect x="245.1" y="240.5" width="4.5" height="7.7" fill="#a9c9f2" fill-opacity="0.7"/>
<path d="M247.35 241.5V247.2" stroke="#fff" stroke-opacity="0.55" stroke-width="0.7" stroke-dasharray="1.2 0.8"/>
<path d="M245.1 244.3H249.6"/>
<circle cx="247.35" cy="244.73" r="1.1" stroke-width="0.6"/>
</g>
<g stroke="#3aaa6c" stroke-width="0.9" fill="none">
<path d="M254.45 232.4V244.3M254.45 255.1V262.8M253.15 232.4H255.75M253.15 262.8H255.75"/>
<rect x="252.2" y="244.3" width="4.5" height="10.8" fill="#b9e1c9" fill-opacity="0.7"/>
<path d="M254.45 245.3V254.1" stroke="#fff" stroke-opacity="0.55" stroke-width="0.7" stroke-dasharray="1.2 0.8"/>
<path d="M252.2 249.7H256.7"/>
<circle cx="254.45" cy="250.24" r="1.1" stroke-width="0.6"/>
</g>
<g stroke="#b485ea" stroke-width="0.9" fill="none">
<path d="M261.55 225V236.3M261.55 248.2V259.4M260.25 225H262.85M260.25 259.4H262.85"/>
<rect x="259.3" y="236.3" width="4.5" height="11.9" fill="#e3cdf8" fill-opacity="0.7"/>
<path d="M261.55 237.3V247.2" stroke="#fff" stroke-opacity="0.55" stroke-width="0.7" stroke-dasharray="1.2 0.8"/>
<path d="M259.3 242.2H263.8"/>
<circle cx="261.55" cy="242.84" r="1.1" stroke-width="0.6"/>
</g>
<g stroke="#d7a928" stroke-width="0.9" fill="none">
<path d="M268.65 225V240.5M268.65 251.7V262.8M267.35 225H269.95M267.35 262.8H269.95"/>
<rect x="266.4" y="240.5" width="4.5" height="11.2" fill="#f0dba2" fill-opacity="0.7"/>
<path d="M268.65 241.5V250.7" stroke="#fff" stroke-opacity="0.55" stroke-width="0.7" stroke-dasharray="1.2 0.8"/>
<path d="M266.4 246.1H270.9"/>
<circle cx="268.65" cy="246.66" r="1.1" stroke-width="0.6"/>
</g>
<g stroke="#2ccfd3" stroke-width="0.9" fill="none">
<path d="M275.75 152.8V152.8M275.75 157V160.2M274.45 152.8H277.05M274.45 160.2H277.05"/>
<rect x="273.5" y="152.8" width="4.5" height="4.2" fill="#a4eaea" fill-opacity="0.7"/>
<path d="M275.75 153.8V156" stroke="#fff" stroke-opacity="0.55" stroke-width="0.7" stroke-dasharray="1.2 0.8"/>
<path d="M273.5 155H278"/>
</g>
<path d="M275.75 162.05L277.7 164L275.75 165.95L273.8 164Z" fill="#22c8cc"/>
<path d="M275.75 165.35L277.7 167.3L275.75 169.25L273.8 167.3Z" fill="#22c8cc"/>
<path d="M275.75 168.65L277.7 170.6L275.75 172.55L273.8 170.6Z" fill="#22c8cc"/>
<path d="M275.75 172.05L277.7 174L275.75 175.95L273.8 174Z" fill="#22c8cc"/>
<path d="M275.75 175.25L277.7 177.2L275.75 179.15L273.8 177.2Z" fill="#22c8cc"/>
<path d="M275.75 178.45L277.7 180.4L275.75 182.35L273.8 180.4Z" fill="#22c8cc"/>
<path d="M275.75 204.15L277.7 206.1L275.75 208.05L273.8 206.1Z" fill="#22c8cc"/>
<g stroke="#8c6464" stroke-width="0.9" fill="none">
<path d="M282.85 152.8V152.8M282.85 173.5V202.6M281.55 152.8H284.15M281.55 202.6H284.15"/>
<rect x="280.6" y="152.8" width="4.5" height="20.7" fill="#d6c0c0" fill-opacity="0.7"/>
<path d="M282.85 153.8V172.5" stroke="#fff" stroke-opacity="0.55" stroke-width="0.7" stroke-dasharray="1.2 0.8"/>
<path d="M280.6 160.4H285.1"/>
<circle cx="282.85" cy="164.19" r="1.1" stroke-width="0.6"/>
</g>
<path d="M282.85 204.05L284.8 206L282.85 207.95L280.9 206Z" fill="#7a5050"/>
<path d="M282.85 208.05L284.8 210L282.85 211.95L280.9 210Z" fill="#7a5050"/>
<path d="M282.85 215.35L284.8 217.3L282.85 219.25L280.9 217.3Z" fill="#7a5050"/>
<path d="M282.85 219.25L284.8 221.2L282.85 223.15L280.9 221.2Z" fill="#7a5050"/>
<path d="M282.85 257.05L284.8 259L282.85 260.95L280.9 259Z" fill="#7a5050"/>
<path d="M282.85 260.85L284.8 262.8L282.85 264.75L280.9 262.8Z" fill="#7a5050"/>
<g stroke="#a0a034" stroke-width="0.9" fill="none">
<path d="M289.95 152.8V152.8M289.95 164.2V179.2M288.65 152.8H291.25M288.65 179.2H291.25"/>
<rect x="287.7" y="152.8" width="4.5" height="11.4" fill="#dcdca6" fill-opacity="0.7"/>
<path d="M289.95 153.8V163.2" stroke="#fff" stroke-opacity="0.55" stroke-width="0.7" stroke-dasharray="1.2 0.8"/>
<path d="M287.7 157.7H292.2"/>
<circle cx="289.95" cy="159.07" r="1.1" stroke-width="0.6"/>
</g>
<path d="M289.95 180.35L291.9 182.3L289.95 184.25L288 182.3Z" fill="#8a8a20"/>
<path d="M289.95 185.45L291.9 187.4L289.95 189.35L288 187.4Z" fill="#8a8a20"/>
<path d="M289.95 192.45L291.9 194.4L289.95 196.35L288 194.4Z" fill="#8a8a20"/>
<path d="M289.95 197.45L291.9 199.4L289.95 201.35L288 199.4Z" fill="#8a8a20"/>
<g stroke="#ff8a32" stroke-width="0.9" fill="none">
<path d="M297.05 152.8V152.8M297.05 168.4V186.8M295.75 152.8H298.35M295.75 186.8H298.35"/>
<rect x="294.8" y="152.8" width="4.5" height="15.6" fill="#ffd2b4" fill-opacity="0.7"/>
<path d="M297.05 153.8V167.4" stroke="#fff" stroke-opacity="0.55" stroke-width="0.7" stroke-dasharray="1.2 0.8"/>
<path d="M294.8 160.2H299.3"/>
<circle cx="297.05" cy="161.38" r="1.1" stroke-width="0.6"/>
</g>
<path d="M297.05 208.05L299 210L297.05 211.95L295.1 210Z" fill="#f57820"/>
<g stroke="#555555" stroke-width="0.9" fill="none">
<path d="M321.91 240.5V247.7M321.91 255.6V262.8M320.61 240.5H323.21M320.61 262.8H323.21"/>
<rect x="319.66" y="247.7" width="4.5" height="7.9" fill="#bdbdbd" fill-opacity="0.7"/>
<path d="M321.91 248.7V254.6" stroke="#fff" stroke-opacity="0.55" stroke-width="0.7" stroke-dasharray="1.2 0.8"/>
<path d="M319.66 251.6H324.16"/>
<circle cx="321.91" cy="252.04" r="1.1" stroke-width="0.6"/>
</g>
<path d="M321.91 234.35L323.86 236.3L321.91 238.25L319.96 236.3Z" fill="#555555"/>
<path d="M321.91 264.65L323.86 266.6L321.91 268.55L319.96 266.6Z" fill="#555555"/>
<g stroke="#f23c46" stroke-width="0.9" fill="none">
<path d="M329.01 247.7V255.4M329.01 262.8V266.6M327.71 247.7H330.31M327.71 266.6H330.31"/>
<rect x="326.76" y="255.4" width="4.5" height="7.4" fill="#ffc4c6" fill-opacity="0.7"/>
<path d="M329.01 256.4V261.8" stroke="#fff" stroke-opacity="0.55" stroke-width="0.7" stroke-dasharray="1.2 0.8"/>
<path d="M326.76 259.1H331.26"/>
<circle cx="329.01" cy="259.47" r="1.1" stroke-width="0.6"/>
</g>
<g stroke="#2f7fe6" stroke-width="0.9" fill="none">
<path d="M336.11 221.5V232.4M336.11 247.7V259.4M334.81 221.5H337.41M334.81 259.4H337.41"/>
<rect x="333.86" y="232.4" width="4.5" height="15.3" fill="#a9c9f2" fill-opacity="0.7"/>
<path d="M336.11 233.4V246.7" stroke="#fff" stroke-opacity="0.55" stroke-width="0.7" stroke-dasharray="1.2 0.8"/>
<path d="M333.86 240.1H338.36"/>
<circle cx="336.11" cy="240.81" r="1.1" stroke-width="0.6"/>
</g>
<g stroke="#3aaa6c" stroke-width="0.9" fill="none">
<path d="M343.21 228.6V242M343.21 255.1V262.8M341.91 228.6H344.51M341.91 262.8H344.51"/>
<rect x="340.96" y="242" width="4.5" height="13.1" fill="#b9e1c9" fill-opacity="0.7"/>
<path d="M343.21 243V254.1" stroke="#fff" stroke-opacity="0.55" stroke-width="0.7" stroke-dasharray="1.2 0.8"/>
<path d="M340.96 248.5H345.46"/>
<circle cx="343.21" cy="249.21" r="1.1" stroke-width="0.6"/>
</g>
<path d="M343.21 219.25L345.16 221.2L343.21 223.15L341.26 221.2Z" fill="#2e9a5e"/>
<g stroke="#b485ea" stroke-width="0.9" fill="none">
<path d="M350.31 217.6V228.6M350.31 240.5V255.4M349.01 217.6H351.61M349.01 255.4H351.61"/>
<rect x="348.06" y="228.6" width="4.5" height="11.9" fill="#e3cdf8" fill-opacity="0.7"/>
<path d="M350.31 229.6V239.5" stroke="#fff" stroke-opacity="0.55" stroke-width="0.7" stroke-dasharray="1.2 0.8"/>
<path d="M348.06 234.5H352.56"/>
<circle cx="350.31" cy="235.15" r="1.1" stroke-width="0.6"/>
</g>
<g stroke="#d7a928" stroke-width="0.9" fill="none">
<path d="M357.41 221.5V232.4M357.41 244.3V259.4M356.11 221.5H358.71M356.11 259.4H358.71"/>
<rect x="355.16" y="232.4" width="4.5" height="11.9" fill="#f0dba2" fill-opacity="0.7"/>
<path d="M357.41 233.4V243.3" stroke="#fff" stroke-opacity="0.55" stroke-width="0.7" stroke-dasharray="1.2 0.8"/>
<path d="M355.16 238.3H359.66"/>
<circle cx="357.41" cy="238.95" r="1.1" stroke-width="0.6"/>
</g>
<g stroke="#2ccfd3" stroke-width="0.9" fill="none">
<path d="M364.51 152.8V152.8M364.51 157V160.2M363.21 152.8H365.81M363.21 160.2H365.81"/>
<rect x="362.26" y="152.8" width="4.5" height="4.2" fill="#a4eaea" fill-opacity="0.7"/>
<path d="M364.51 153.8V156" stroke="#fff" stroke-opacity="0.55" stroke-width="0.7" stroke-dasharray="1.2 0.8"/>
<path d="M362.26 155H366.76"/>
</g>
<path d="M364.51 162.05L366.46 164L364.51 165.95L362.56 164Z" fill="#22c8cc"/>
<path d="M364.51 166.05L366.46 168L364.51 169.95L362.56 168Z" fill="#22c8cc"/>
<path d="M364.51 170.05L366.46 172L364.51 173.95L362.56 172Z" fill="#22c8cc"/>
<path d="M364.51 174.05L366.46 176L364.51 177.95L362.56 176Z" fill="#22c8cc"/>
<path d="M364.51 181.05L366.46 183L364.51 184.95L362.56 183Z" fill="#22c8cc"/>
<path d="M364.51 188.65L366.46 190.6L364.51 192.55L362.56 190.6Z" fill="#22c8cc"/>
<path d="M364.51 208.05L366.46 210L364.51 211.95L362.56 210Z" fill="#22c8cc"/>
<g stroke="#8c6464" stroke-width="0.9" fill="none">
<path d="M371.61 152.8V152.8M371.61 171.6V198.2M370.31 152.8H372.91M370.31 198.2H372.91"/>
<rect x="369.36" y="152.8" width="4.5" height="18.8" fill="#d6c0c0" fill-opacity="0.7"/>
<path d="M371.61 153.8V170.6" stroke="#fff" stroke-opacity="0.55" stroke-width="0.7" stroke-dasharray="1.2 0.8"/>
<path d="M369.36 157.7H373.86"/>
<circle cx="371.61" cy="163.14" r="1.1" stroke-width="0.6"/>
</g>
<path d="M371.61 200.05L373.56 202L371.61 203.95L369.66 202Z" fill="#7a5050"/>
<path d="M371.61 204.05L373.56 206L371.61 207.95L369.66 206Z" fill="#7a5050"/>
<path d="M371.61 208.05L373.56 210L371.61 211.95L369.66 210Z" fill="#7a5050"/>
<path d="M371.61 223.05L373.56 225L371.61 226.95L369.66 225Z" fill="#7a5050"/>
<path d="M371.61 253.05L373.56 255L371.61 256.95L369.66 255Z" fill="#7a5050"/>
<path d="M371.61 257.05L373.56 259L371.61 260.95L369.66 259Z" fill="#7a5050"/>
<path d="M371.61 260.85L373.56 262.8L371.61 264.75L369.66 262.8Z" fill="#7a5050"/>
<g stroke="#a0a034" stroke-width="0.9" fill="none">
<path d="M378.71 152.8V152.8M378.71 158.3V164.2M377.41 152.8H380.01M377.41 164.2H380.01"/>
<rect x="376.46" y="152.8" width="4.5" height="5.5" fill="#dcdca6" fill-opacity="0.7"/>
<path d="M378.71 153.8V157.3" stroke="#fff" stroke-opacity="0.55" stroke-width="0.7" stroke-dasharray="1.2 0.8"/>
<path d="M376.46 155.5H380.96"/>
</g>
<path d="M378.71 165.85L380.66 167.8L378.71 169.75L376.76 167.8Z" fill="#8a8a20"/>
<path d="M378.71 170.85L380.66 172.8L378.71 174.75L376.76 172.8Z" fill="#8a8a20"/>
<path d="M378.71 184.85L380.66 186.8L378.71 188.75L376.76 186.8Z" fill="#8a8a20"/>
<g stroke="#ff8a32" stroke-width="0.9" fill="none">
<path d="M385.81 152.8V152.8M385.81 160.2V171.8M384.51 152.8H387.11M384.51 171.8H387.11"/>
<rect x="383.56" y="152.8" width="4.5" height="7.4" fill="#ffd2b4" fill-opacity="0.7"/>
<path d="M385.81 153.8V159.2" stroke="#fff" stroke-opacity="0.55" stroke-width="0.7" stroke-dasharray="1.2 0.8"/>
<path d="M383.56 156H388.06"/>
<circle cx="385.81" cy="156.87" r="1.1" stroke-width="0.6"/>
</g>
<path d="M385.81 173.45L387.76 175.4L385.81 177.35L383.86 175.4Z" fill="#f57820"/>
<path d="M385.81 177.55L387.76 179.5L385.81 181.45L383.86 179.5Z" fill="#f57820"/>
<path d="M385.81 181.65L387.76 183.6L385.81 185.55L383.86 183.6Z" fill="#f57820"/>
<path d="M385.81 200.25L387.76 202.2L385.81 204.15L383.86 202.2Z" fill="#f57820"/>
<g stroke="#555555" stroke-width="0.9" fill="none">
<path d="M410.67 232.4V244.3M410.67 255.6V262.8M409.37 232.4H411.97M409.37 262.8H411.97"/>
<rect x="408.42" y="244.3" width="4.5" height="11.3" fill="#bdbdbd" fill-opacity="0.7"/>
<path d="M410.67 245.3V254.6" stroke="#fff" stroke-opacity="0.55" stroke-width="0.7" stroke-dasharray="1.2 0.8"/>
<path d="M408.42 250.8H412.92"/>
<circle cx="410.67" cy="250.51" r="1.1" stroke-width="0.6"/>
</g>
<g stroke="#f23c46" stroke-width="0.9" fill="none">
<path d="M417.77 244.3V255.6M417.77 262.8V266.6M416.47 244.3H419.07M416.47 266.6H419.07"/>
<rect x="415.52" y="255.6" width="4.5" height="7.2" fill="#ffc4c6" fill-opacity="0.7"/>
<path d="M417.77 256.6V261.8" stroke="#fff" stroke-opacity="0.55" stroke-width="0.7" stroke-dasharray="1.2 0.8"/>
<path d="M415.52 259.2H420.02"/>
<circle cx="417.77" cy="259.56" r="1.1" stroke-width="0.6"/>
</g>
<g stroke="#2f7fe6" stroke-width="0.9" fill="none">
<path d="M424.87 213.5V228.6M424.87 240.5V251.7M423.57 213.5H426.17M423.57 251.7H426.17"/>
<rect x="422.62" y="228.6" width="4.5" height="11.9" fill="#a9c9f2" fill-opacity="0.7"/>
<path d="M424.87 229.6V239.5" stroke="#fff" stroke-opacity="0.55" stroke-width="0.7" stroke-dasharray="1.2 0.8"/>
<path d="M422.62 234.3H427.12"/>
<circle cx="424.87" cy="235.15" r="1.1" stroke-width="0.6"/>
</g>
<g stroke="#3aaa6c" stroke-width="0.9" fill="none">
<path d="M431.97 225V236.6M431.97 251.7V262.8M430.67 225H433.27M430.67 262.8H433.27"/>
<rect x="429.72" y="236.6" width="4.5" height="15.1" fill="#b9e1c9" fill-opacity="0.7"/>
<path d="M431.97 237.6V250.7" stroke="#fff" stroke-opacity="0.55" stroke-width="0.7" stroke-dasharray="1.2 0.8"/>
<path d="M429.72 244.1H434.22"/>
<circle cx="431.97" cy="244.9" r="1.1" stroke-width="0.6"/>
</g>
<g stroke="#b485ea" stroke-width="0.9" fill="none">
<path d="M439.07 202.2V221.2M439.07 236.3V247.7M437.77 202.2H440.37M437.77 247.7H440.37"/>
<rect x="436.82" y="221.2" width="4.5" height="15.1" fill="#e3cdf8" fill-opacity="0.7"/>
<path d="M439.07 222.2V235.3" stroke="#fff" stroke-opacity="0.55" stroke-width="0.7" stroke-dasharray="1.2 0.8"/>
<path d="M436.82 228H441.32"/>
<circle cx="439.07" cy="229.5" r="1.1" stroke-width="0.6"/>
</g>
<g stroke="#d7a928" stroke-width="0.9" fill="none">
<path d="M446.17 221.5V232.4M446.17 244.3V255.6M444.87 221.5H447.47M444.87 255.6H447.47"/>
<rect x="443.92" y="232.4" width="4.5" height="11.9" fill="#f0dba2" fill-opacity="0.7"/>
<path d="M446.17 233.4V243.3" stroke="#fff" stroke-opacity="0.55" stroke-width="0.7" stroke-dasharray="1.2 0.8"/>
<path d="M443.92 238.3H448.42"/>
<circle cx="446.17" cy="238.95" r="1.1" stroke-width="0.6"/>
</g>
<path d="M446.17 204.15L448.12 206.1L446.17 208.05L444.22 206.1Z" fill="#c89818"/>
<g stroke="#2ccfd3" stroke-width="0.9" fill="none">
<path d="M453.27 152.8V152.8M453.27 157V160.2M451.97 152.8H454.57M451.97 160.2H454.57"/>
<rect x="451.02" y="152.8" width="4.5" height="4.2" fill="#a4eaea" fill-opacity="0.7"/>
<path d="M453.27 153.8V156" stroke="#fff" stroke-opacity="0.55" stroke-width="0.7" stroke-dasharray="1.2 0.8"/>
<path d="M451.02 155H455.52"/>
</g>
<path d="M453.27 162.05L455.22 164L453.27 165.95L451.32 164Z" fill="#22c8cc"/>
<path d="M453.27 166.05L455.22 168L453.27 169.95L451.32 168Z" fill="#22c8cc"/>
<path d="M453.27 170.25L455.22 172.2L453.27 174.15L451.32 172.2Z" fill="#22c8cc"/>
<path d="M453.27 177.25L455.22 179.2L453.27 181.15L451.32 179.2Z" fill="#22c8cc"/>
<path d="M453.27 181.35L455.22 183.3L453.27 185.25L451.32 183.3Z" fill="#22c8cc"/>
<path d="M453.27 185.45L455.22 187.4L453.27 189.35L451.32 187.4Z" fill="#22c8cc"/>
<path d="M453.27 192.45L455.22 194.4L453.27 196.35L451.32 194.4Z" fill="#22c8cc"/>
<g stroke="#8c6464" stroke-width="0.9" fill="none">
<path d="M460.37 152.8V152.8M460.37 171.6V198.2M459.07 152.8H461.67M459.07 198.2H461.67"/>
<rect x="458.12" y="152.8" width="4.5" height="18.8" fill="#d6c0c0" fill-opacity="0.7"/>
<path d="M460.37 153.8V170.6" stroke="#fff" stroke-opacity="0.55" stroke-width="0.7" stroke-dasharray="1.2 0.8"/>
<path d="M458.12 160H462.62"/>
<circle cx="460.37" cy="163.14" r="1.1" stroke-width="0.6"/>
</g>
<path d="M460.37 211.25L462.32 213.2L460.37 215.15L458.42 213.2Z" fill="#7a5050"/>
<path d="M460.37 215.25L462.32 217.2L460.37 219.15L458.42 217.2Z" fill="#7a5050"/>
<path d="M460.37 219.25L462.32 221.2L460.37 223.15L458.42 221.2Z" fill="#7a5050"/>
<path d="M460.37 238.15L462.32 240.1L460.37 242.05L458.42 240.1Z" fill="#7a5050"/>
<path d="M460.37 253.15L462.32 255.1L460.37 257.05L458.42 255.1Z" fill="#7a5050"/>
<path d="M460.37 257.05L462.32 259L460.37 260.95L458.42 259Z" fill="#7a5050"/>
<path d="M460.37 260.85L462.32 262.8L460.37 264.75L458.42 262.8Z" fill="#7a5050"/>
<g stroke="#a0a034" stroke-width="0.9" fill="none">
<path d="M467.47 152.8V152.8M467.47 157V160.2M466.17 152.8H468.77M466.17 160.2H468.77"/>
<rect x="465.22" y="152.8" width="4.5" height="4.2" fill="#dcdca6" fill-opacity="0.7"/>
<path d="M467.47 153.8V156" stroke="#fff" stroke-opacity="0.55" stroke-width="0.7" stroke-dasharray="1.2 0.8"/>
<path d="M465.22 155H469.72"/>
</g>
<path d="M467.47 162.05L469.42 164L467.47 165.95L465.52 164Z" fill="#8a8a20"/>
<path d="M467.47 166.05L469.42 168L467.47 169.95L465.52 168Z" fill="#8a8a20"/>
<path d="M467.47 170.05L469.42 172L467.47 173.95L465.52 172Z" fill="#8a8a20"/>
<path d="M467.47 174.05L469.42 176L467.47 177.95L465.52 176Z" fill="#8a8a20"/>
<path d="M467.47 204.15L469.42 206.1L467.47 208.05L465.52 206.1Z" fill="#8a8a20"/>
<g stroke="#ff8a32" stroke-width="0.9" fill="none">
<path d="M474.57 152.8V152.8M474.57 157.7V164M473.27 152.8H475.87M473.27 164H475.87"/>
<rect x="472.32" y="152.8" width="4.5" height="4.9" fill="#ffd2b4" fill-opacity="0.7"/>
<path d="M474.57 153.8V156.7" stroke="#fff" stroke-opacity="0.55" stroke-width="0.7" stroke-dasharray="1.2 0.8"/>
<path d="M472.32 155.2H476.82"/>
</g>
<path d="M474.57 165.85L476.52 167.8L474.57 169.75L472.62 167.8Z" fill="#f57820"/>
<path d="M474.57 170.05L476.52 172L474.57 173.95L472.62 172Z" fill="#f57820"/>
<path d="M474.57 174.05L476.52 176L474.57 177.95L472.62 176Z" fill="#f57820"/>
<line x1="43.2" y1="146.8" x2="43.2" y2="287" stroke="#222" stroke-width="1"/>
<line x1="487" y1="146.8" x2="487" y2="287" stroke="#555" stroke-width="1.4"/>
<line x1="42.2" y1="272.5" x2="487" y2="272.5" stroke="#222" stroke-width="1"/>
<line x1="43.2" y1="287" x2="487" y2="287" stroke="#444" stroke-width="1.2"/>
<line x1="131.96" y1="272.5" x2="131.96" y2="287" stroke="#333" stroke-width="1"/>
<line x1="220.72" y1="272.5" x2="220.72" y2="287" stroke="#333" stroke-width="1"/>
<line x1="309.48" y1="272.5" x2="309.48" y2="287" stroke="#333" stroke-width="1"/>
<line x1="398.24" y1="272.5" x2="398.24" y2="287" stroke="#333" stroke-width="1"/>
<text x="87.58" y="282.95" font-size="10" text-anchor="middle" fill="#000">2</text>
<text x="176.34" y="282.95" font-size="10" text-anchor="middle" fill="#000">4</text>
<text x="265.1" y="282.95" font-size="10" text-anchor="middle" fill="#000">6</text>
<text x="353.86" y="282.95" font-size="10" text-anchor="middle" fill="#000">8</text>
<text x="442.62" y="282.95" font-size="10" text-anchor="middle" fill="#000">10</text>
<line x1="39.2" y1="266.5" x2="43.2" y2="266.5" stroke="#222" stroke-width="1"/>
<text x="35.7" y="269.6" font-size="9" text-anchor="end" fill="#000">0%</text>
<line x1="41.2" y1="260.81" x2="43.2" y2="260.81" stroke="#222" stroke-width="0.8"/>
<line x1="39.2" y1="255.13" x2="43.2" y2="255.13" stroke="#222" stroke-width="1"/>
<text x="35.7" y="258.23" font-size="9" text-anchor="end" fill="#000">10%</text>
<line x1="41.2" y1="249.44" x2="43.2" y2="249.44" stroke="#222" stroke-width="0.8"/>
<line x1="39.2" y1="243.76" x2="43.2" y2="243.76" stroke="#222" stroke-width="1"/>
<text x="35.7" y="246.86" font-size="9" text-anchor="end" fill="#000">20%</text>
<line x1="41.2" y1="238.07" x2="43.2" y2="238.07" stroke="#222" stroke-width="0.8"/>
<line x1="39.2" y1="232.39" x2="43.2" y2="232.39" stroke="#222" stroke-width="1"/>
<text x="35.7" y="235.49" font-size="9" text-anchor="end" fill="#000">30%</text>
<line x1="41.2" y1="226.7" x2="43.2" y2="226.7" stroke="#222" stroke-width="0.8"/>
<line x1="39.2" y1="221.02" x2="43.2" y2="221.02" stroke="#222" stroke-width="1"/>
<text x="35.7" y="224.12" font-size="9" text-anchor="end" fill="#000">40%</text>
<line x1="41.2" y1="215.34" x2="43.2" y2="215.34" stroke="#222" stroke-width="0.8"/>
<line x1="39.2" y1="209.65" x2="43.2" y2="209.65" stroke="#222" stroke-width="1"/>
<text x="35.7" y="212.75" font-size="9" text-anchor="end" fill="#000">50%</text>
<line x1="41.2" y1="203.97" x2="43.2" y2="203.97" stroke="#222" stroke-width="0.8"/>
<line x1="39.2" y1="198.28" x2="43.2" y2="198.28" stroke="#222" stroke-width="1"/>
<text x="35.7" y="201.38" font-size="9" text-anchor="end" fill="#000">60%</text>
<line x1="41.2" y1="192.59" x2="43.2" y2="192.59" stroke="#222" stroke-width="0.8"/>
<line x1="39.2" y1="186.91" x2="43.2" y2="186.91" stroke="#222" stroke-width="1"/>
<text x="35.7" y="190.01" font-size="9" text-anchor="end" fill="#000">70%</text>
<line x1="41.2" y1="181.23" x2="43.2" y2="181.23" stroke="#222" stroke-width="0.8"/>
<line x1="39.2" y1="175.54" x2="43.2" y2="175.54" stroke="#222" stroke-width="1"/>
<text x="35.7" y="178.64" font-size="9" text-anchor="end" fill="#000">80%</text>
<line x1="41.2" y1="169.86" x2="43.2" y2="169.86" stroke="#222" stroke-width="0.8"/>
<line x1="39.2" y1="164.17" x2="43.2" y2="164.17" stroke="#222" stroke-width="1"/>
<text x="35.7" y="167.27" font-size="9" text-anchor="end" fill="#000">90%</text>
<line x1="41.2" y1="158.49" x2="43.2" y2="158.49" stroke="#222" stroke-width="0.8"/>
<line x1="39.2" y1="152.8" x2="43.2" y2="152.8" stroke="#222" stroke-width="1"/>
<text x="35.7" y="155.9" font-size="9" text-anchor="end" fill="#000">100%</text>
<text transform="translate(10.3 210.25) rotate(-90)" font-size="11.6" text-anchor="middle" fill="#000">Coverage</text>
<line x1="487" y1="147.4" x2="638" y2="147.4" stroke="#888" stroke-width="1.2"/>
<line x1="637.7" y1="146.8" x2="637.7" y2="260.6" stroke="#999" stroke-width="1"/>
<line x1="487" y1="261.1" x2="638" y2="261.1" stroke="#aaa" stroke-width="1"/>
<rect x="489.2" y="149.1" width="19.8" height="9.4" fill="#bdbdbd" stroke="#555555" stroke-width="1"/>
<text x="511.2" y="157" font-size="9" fill="#000">RandomRobot+Center</text>
<rect x="489.2" y="160.35" width="19.8" height="9.4" fill="#ffc4c6" stroke="#f23c46" stroke-width="1"/>
<text x="511.2" y="168.25" font-size="9" fill="#000">RandomRobot+Edge</text>
<rect x="489.2" y="171.6" width="19.8" height="9.4" fill="#a9c9f2" stroke="#2f7fe6" stroke-width="1"/>
<text x="511.2" y="179.5" font-size="9" fill="#000">Robot+Center</text>
<rect x="489.2" y="182.85" width="19.8" height="9.4" fill="#b9e1c9" stroke="#3aaa6c" stroke-width="1"/>
<text x="511.2" y="190.75" font-size="9" fill="#000">Robot+Edge</text>
<rect x="489.2" y="194.1" width="19.8" height="9.4" fill="#e3cdf8" stroke="#b485ea" stroke-width="1"/>
<text x="511.2" y="202" font-size="9" fill="#000">RobotUsingSound+Center</text>
<rect x="489.2" y="205.35" width="19.8" height="9.4" fill="#f0dba2" stroke="#d7a928" stroke-width="1"/>
<text x="511.2" y="213.25" font-size="9" fill="#000">RobotUsingSound+Edge</text>
<rect x="489.2" y="216.6" width="19.8" height="9.4" fill="#a4eaea" stroke="#2ccfd3" stroke-width="1"/>
<text x="511.2" y="224.5" font-size="9" fill="#000">RobotUsingGas+Center</text>
<rect x="489.2" y="227.85" width="19.8" height="9.4" fill="#d6c0c0" stroke="#8c6464" stroke-width="1"/>
<text x="511.2" y="235.75" font-size="9" fill="#000">RobotUsingGas+Edge</text>
<rect x="489.2" y="239.1" width="19.8" height="9.4" fill="#dcdca6" stroke="#a0a034" stroke-width="1"/>
<text x="511.2" y="247" font-size="9" fill="#000">RobotUsingGasAndSound+Center</text>
<rect x="489.2" y="250.35" width="19.8" height="9.4" fill="#ffd2b4" stroke="#ff8a32" stroke-width="1"/>
<text x="511.2" y="258.25" font-size="9" fill="#000">RobotUsingGasAndSound+Edge</text>
<rect x="487.5" y="215" width="150.3" height="45" fill="none" stroke="#ff1a1a" stroke-width="1.6" stroke-dasharray="4.4 3.1"/>
<text x="496.3" y="279.1" font-size="11" fill="#111">Number of Robots (Small)</text>
</g>
<path d="M35.58 424.73 L38.42 423.95 L41.27 423.11 L44.11 422.27 L46.96 421.47 L49.8 420.76 L52.65 420.2 L55.5 419.84 L58.34 419.71 L61.19 419.65 L64.03 419.59 L66.88 419.53 L69.72 419.47 L72.57 419.42 L75.41 419.37 L78.26 419.32 L81.1 419.27 L83.95 419.22 L86.79 419.18 L89.64 419.13 L92.49 419.09 L95.33 419.05 L98.18 419.01 L101.02 418.97 L103.87 418.94 L106.71 418.9 L109.56 418.87 L112.4 418.84 L115.25 418.81 L118.09 418.78 L120.94 418.75 L123.78 418.73 L126.63 418.7 L129.47 418.68 L132.32 418.66 L135.17 418.64 L138.01 418.62 L140.86 418.6 L143.7 418.58 L146.55 418.56 L149.39 418.55 L152.24 418.53 L155.08 418.52 L157.93 418.51 L160.77 418.49 L163.62 418.48 L166.46 418.47 L169.31 418.46 L172.16 418.46 L175 418.45 L177.85 418.44 L180.69 418.44 L183.54 418.43 L186.38 418.43 L189.23 418.42 L192.07 418.42 L194.92 418.42 L197.76 418.42 L200.61 418.41 L203.45 418.41 L206.3 418.41 L206.3 429.99 L203.45 430.01 L200.61 430.03 L197.76 430.05 L194.92 430.07 L192.07 430.09 L189.23 430.12 L186.38 430.14 L183.54 430.16 L180.69 430.18 L177.85 430.2 L175 430.23 L172.16 430.25 L169.31 430.27 L166.46 430.29 L163.62 430.31 L160.77 430.34 L157.93 430.36 L155.08 430.38 L152.24 430.4 L149.39 430.42 L146.55 430.45 L143.7 430.47 L140.86 430.49 L138.01 430.51 L135.17 430.53 L132.32 430.55 L129.47 430.58 L126.63 430.6 L123.78 430.62 L120.94 430.64 L118.09 430.66 L115.25 430.69 L112.4 430.71 L109.56 430.73 L106.71 430.75 L103.87 430.77 L101.02 430.8 L98.18 430.82 L95.33 430.84 L92.49 430.86 L89.64 430.88 L86.79 430.91 L83.95 430.93 L81.1 430.95 L78.26 430.97 L75.41 430.99 L72.57 431.02 L69.72 431.04 L66.88 431.06 L64.03 431.08 L61.19 431.1 L58.34 431.12 L55.5 431.15 L52.65 431.17 L49.8 431.19 L46.96 431.21 L44.11 431.23 L41.27 431.26 L38.42 431.28 L35.58 431.3Z" fill="#f2f0fa" fill-opacity="1" stroke="none"/>
<path d="M35.58 425.38 L38.42 424.67 L41.27 423.9 L44.11 423.12 L46.96 422.39 L49.8 421.74 L52.65 421.22 L55.5 420.88 L58.34 420.76 L61.19 420.7 L64.03 420.64 L66.88 420.58 L69.72 420.53 L72.57 420.47 L75.41 420.42 L78.26 420.37 L81.1 420.32 L83.95 420.28 L86.79 420.23 L89.64 420.19 L92.49 420.15 L95.33 420.11 L98.18 420.07 L101.02 420.03 L103.87 419.99 L106.71 419.96 L109.56 419.93 L112.4 419.89 L115.25 419.86 L118.09 419.84 L120.94 419.81 L123.78 419.78 L126.63 419.76 L129.47 419.73 L132.32 419.71 L135.17 419.69 L138.01 419.67 L140.86 419.65 L143.7 419.63 L146.55 419.62 L149.39 419.6 L152.24 419.58 L155.08 419.57 L157.93 419.56 L160.77 419.55 L163.62 419.54 L166.46 419.53 L169.31 419.52 L172.16 419.51 L175 419.5 L177.85 419.49 L180.69 419.49 L183.54 419.48 L186.38 419.48 L189.23 419.47 L192.07 419.47 L194.92 419.47 L197.76 419.47 L200.61 419.47 L203.45 419.47 L206.3 419.47 L206.3 429.33 L203.45 429.35 L200.61 429.37 L197.76 429.39 L194.92 429.42 L192.07 429.44 L189.23 429.46 L186.38 429.48 L183.54 429.5 L180.69 429.52 L177.85 429.55 L175 429.57 L172.16 429.59 L169.31 429.61 L166.46 429.63 L163.62 429.66 L160.77 429.68 L157.93 429.7 L155.08 429.72 L152.24 429.74 L149.39 429.77 L146.55 429.79 L143.7 429.81 L140.86 429.83 L138.01 429.85 L135.17 429.88 L132.32 429.9 L129.47 429.92 L126.63 429.94 L123.78 429.96 L120.94 429.99 L118.09 430.01 L115.25 430.03 L112.4 430.05 L109.56 430.07 L106.71 430.09 L103.87 430.12 L101.02 430.14 L98.18 430.16 L95.33 430.18 L92.49 430.2 L89.64 430.23 L86.79 430.25 L83.95 430.27 L81.1 430.29 L78.26 430.31 L75.41 430.34 L72.57 430.36 L69.72 430.38 L66.88 430.4 L64.03 430.42 L61.19 430.45 L58.34 430.47 L55.5 430.49 L52.65 430.51 L49.8 430.53 L46.96 430.55 L44.11 430.58 L41.27 430.6 L38.42 430.62 L35.58 430.64Z" fill="#ebebeb" fill-opacity="1" stroke="none"/>
<path d="M35.58 423.15 L38.42 416.91 L41.27 410.81 L44.11 404.85 L46.96 399.06 L49.8 393.45 L52.65 388.04 L55.5 382.67 L58.34 377.14 L61.19 371.6 L64.03 366.18 L66.88 361.03 L69.72 356.27 L72.57 352.06 L75.41 348.52 L78.26 345.58 L81.1 342.79 L83.95 340.11 L86.79 337.56 L89.64 335.19 L92.49 333 L95.33 331 L98.18 329.09 L101.02 327.28 L103.87 325.55 L106.71 323.92 L109.56 322.36 L112.4 320.87 L115.25 319.41 L118.09 318 L120.94 316.65 L123.78 315.35 L126.63 314.13 L129.47 312.98 L132.32 311.92 L135.17 310.95 L138.01 310.05 L140.86 309.19 L143.7 308.39 L146.55 307.63 L149.39 306.93 L152.24 306.28 L155.08 305.7 L157.93 305.19 L160.77 304.74 L163.62 304.35 L166.46 304 L169.31 303.68 L172.16 303.4 L175 303.16 L177.85 302.96 L180.69 302.79 L183.54 302.66 L186.38 302.57 L189.23 302.51 L192.07 302.46 L194.92 302.45 L197.76 302.46 L200.61 302.5 L203.45 302.58 L206.3 302.69 L206.3 345.43 L203.45 345.62 L200.61 345.84 L197.76 346.07 L194.92 346.32 L192.07 346.58 L189.23 346.86 L186.38 347.15 L183.54 347.45 L180.69 347.77 L177.85 348.11 L175 348.49 L172.16 348.88 L169.31 349.3 L166.46 349.74 L163.62 350.21 L160.77 350.7 L157.93 351.23 L155.08 351.82 L152.24 352.46 L149.39 353.16 L146.55 353.9 L143.7 354.68 L140.86 355.5 L138.01 356.35 L135.17 357.24 L132.32 358.17 L129.47 359.18 L126.63 360.26 L123.78 361.4 L120.94 362.6 L118.09 363.86 L115.25 365.18 L112.4 366.54 L109.56 367.96 L106.71 369.46 L103.87 371.09 L101.02 372.82 L98.18 374.66 L95.33 376.58 L92.49 378.6 L89.64 380.77 L86.79 383.1 L83.95 385.54 L81.1 388.07 L78.26 390.64 L75.41 393.23 L72.57 395.74 L69.72 398.1 L66.88 400.35 L64.03 402.52 L61.19 404.65 L58.34 406.75 L55.5 408.87 L52.65 411.02 L49.8 413.24 L46.96 415.56 L44.11 417.97 L41.27 420.47 L38.42 423.08 L35.58 425.78Z" fill="#e3f5f1" fill-opacity="0.9" stroke="none"/>
<path d="M35.58 426.04 L38.42 423.05 L41.27 420.1 L44.11 417.18 L46.96 414.3 L49.8 411.46 L52.65 408.68 L55.5 405.96 L58.34 403.28 L61.19 400.63 L64.03 397.99 L66.88 395.34 L69.72 392.67 L72.57 389.97 L75.41 387.22 L78.26 384.41 L81.1 381.52 L83.95 378.57 L86.79 375.6 L89.64 372.62 L92.49 369.67 L95.33 366.76 L98.18 363.88 L101.02 361.05 L103.87 358.3 L106.71 355.66 L109.56 353.15 L112.4 350.77 L115.25 348.51 L118.09 346.38 L120.94 344.38 L123.78 342.43 L126.63 340.53 L129.47 338.71 L132.32 336.97 L135.17 335.32 L138.01 333.74 L140.86 332.2 L143.7 330.72 L146.55 329.29 L149.39 327.91 L152.24 326.6 L155.08 325.36 L157.93 324.18 L160.77 323.09 L163.62 322.04 L166.46 321.04 L169.31 320.08 L172.16 319.16 L175 318.3 L177.85 317.5 L180.69 316.77 L183.54 316.11 L186.38 315.53 L189.23 315 L192.07 314.5 L194.92 314.06 L197.76 313.66 L200.61 313.32 L203.45 313.03 L206.3 312.82 L206.3 375.94 L203.45 376.14 L200.61 376.38 L197.76 376.66 L194.92 376.97 L192.07 377.3 L189.23 377.65 L186.38 378.02 L183.54 378.42 L180.69 378.87 L177.85 379.38 L175 379.93 L172.16 380.52 L169.31 381.14 L166.46 381.8 L163.62 382.48 L160.77 383.17 L157.93 383.91 L155.08 384.7 L152.24 385.53 L149.39 386.28 L146.55 386.93 L143.7 387.5 L140.86 387.99 L138.01 388.41 L135.17 388.77 L132.32 389.11 L129.47 389.47 L126.63 389.84 L123.78 390.23 L120.94 390.63 L118.09 391.05 L115.25 391.49 L112.4 391.95 L109.56 392.43 L106.71 392.97 L103.87 393.6 L101.02 394.33 L98.18 395.16 L95.33 396.08 L92.49 397.11 L89.64 398.21 L86.79 399.35 L83.95 400.53 L81.1 401.78 L78.26 403.1 L75.41 404.52 L72.57 405.99 L69.72 407.45 L66.88 408.89 L64.03 410.34 L61.19 411.81 L58.34 413.33 L55.5 414.91 L52.65 416.58 L49.8 418.35 L46.96 420.22 L44.11 422.19 L41.27 424.26 L38.42 426.42 L35.58 428.67Z" fill="#efeff1" fill-opacity="0.9" stroke="none"/>
<path d="M35.58 425.65 L38.42 421.49 L41.27 417.43 L44.11 413.49 L46.96 409.67 L49.8 406 L52.65 402.48 L55.5 399.07 L58.34 395.77 L61.19 392.57 L64.03 389.44 L66.88 386.39 L69.72 383.4 L72.57 380.45 L75.41 377.55 L78.26 374.69 L81.1 371.85 L83.95 369.04 L86.79 366.28 L89.64 363.58 L92.49 360.95 L95.33 358.39 L98.18 355.89 L101.02 353.46 L103.87 351.15 L106.71 348.97 L109.56 346.95 L112.4 345.06 L115.25 343.27 L118.09 341.58 L120.94 340 L123.78 338.49 L126.63 337.06 L129.47 335.73 L132.32 334.52 L135.17 333.43 L138.01 332.45 L140.86 331.54 L143.7 330.69 L146.55 329.9 L149.39 329.15 L152.24 328.43 L155.08 327.75 L157.93 327.09 L160.77 326.44 L163.62 325.79 L166.46 325.14 L169.31 324.5 L172.16 323.89 L175 323.32 L177.85 322.79 L180.69 322.32 L183.54 321.92 L186.38 321.61 L189.23 321.33 L192.07 321.07 L194.92 320.84 L197.76 320.64 L200.61 320.48 L203.45 320.37 L206.3 320.31 L206.3 357.79 L203.45 357.77 L200.61 357.79 L197.76 357.85 L194.92 357.93 L192.07 358.03 L189.23 358.14 L186.38 358.25 L183.54 358.39 L180.69 358.6 L177.85 358.87 L175 359.19 L172.16 359.54 L169.31 359.92 L166.46 360.31 L163.62 360.7 L160.77 361.08 L157.93 361.45 L155.08 361.83 L152.24 362.22 L149.39 362.62 L146.55 363.06 L143.7 363.53 L140.86 364.04 L138.01 364.61 L135.17 365.24 L132.32 365.97 L129.47 366.82 L126.63 367.78 L123.78 368.83 L120.94 369.95 L118.09 371.14 L115.25 372.38 L112.4 373.64 L109.56 374.93 L106.71 376.28 L103.87 377.72 L101.02 379.23 L98.18 380.79 L95.33 382.39 L92.49 384.02 L89.64 385.68 L86.79 387.4 L83.95 389.18 L81.1 391 L78.26 392.87 L75.41 394.79 L72.57 396.75 L69.72 398.75 L66.88 400.77 L64.03 402.83 L61.19 404.95 L58.34 407.14 L55.5 409.4 L52.65 411.75 L49.8 414.2 L46.96 416.79 L44.11 419.5 L41.27 422.33 L38.42 425.26 L35.58 428.28Z" fill="#f6e8de" fill-opacity="0.85" stroke="none"/>
<path d="M35.58 423.15 L38.42 418.01 L41.27 412.99 L44.11 408.09 L46.96 403.33 L49.8 398.72 L52.65 394.28 L55.5 389.96 L58.34 385.79 L61.19 381.76 L64.03 377.89 L66.88 374.19 L69.72 370.68 L72.57 367.34 L75.41 364.08 L78.26 360.89 L81.1 357.77 L83.95 354.75 L86.79 351.84 L89.64 349.05 L92.49 346.4 L95.33 343.87 L98.18 341.44 L101.02 339.16 L103.87 337.05 L106.71 335.16 L109.56 333.54 L112.4 332.11 L115.25 330.73 L118.09 329.4 L120.94 328.14 L123.78 326.94 L126.63 325.81 L129.47 324.75 L132.32 323.79 L135.17 322.91 L138.01 322.1 L140.86 321.35 L143.7 320.65 L146.55 320 L149.39 319.4 L152.24 318.85 L155.08 318.35 L157.93 317.89 L160.77 317.49 L163.62 317.12 L166.46 316.78 L169.31 316.48 L172.16 316.23 L175 316.02 L177.85 315.87 L180.69 315.79 L183.54 315.76 L186.38 315.81 L189.23 315.92 L192.07 316.06 L194.92 316.26 L197.76 316.52 L200.61 316.84 L203.45 317.23 L206.3 317.68 L206.3 353.85 L203.45 353.93 L200.61 354.04 L197.76 354.16 L194.92 354.3 L192.07 354.46 L189.23 354.61 L186.38 354.78 L183.54 354.95 L180.69 355.16 L177.85 355.4 L175 355.66 L172.16 355.94 L169.31 356.24 L166.46 356.56 L163.62 356.88 L160.77 357.21 L157.93 357.55 L155.08 357.92 L152.24 358.31 L149.39 358.73 L146.55 359.17 L143.7 359.65 L140.86 360.17 L138.01 360.72 L135.17 361.32 L132.32 361.97 L129.47 362.71 L126.63 363.53 L123.78 364.41 L120.94 365.37 L118.09 366.38 L115.25 367.46 L112.4 368.59 L109.56 369.77 L106.71 371.08 L103.87 372.55 L101.02 374.14 L98.18 375.82 L95.33 377.57 L92.49 379.35 L89.64 381.2 L86.79 383.14 L83.95 385.15 L81.1 387.23 L78.26 389.38 L75.41 391.59 L72.57 393.83 L69.72 396.06 L66.88 398.32 L64.03 400.6 L61.19 402.9 L58.34 405.22 L55.5 407.58 L52.65 409.96 L49.8 412.38 L46.96 414.88 L44.11 417.47 L41.27 420.15 L38.42 422.92 L35.58 425.78Z" fill="#ebe5d6" fill-opacity="0.85" stroke="none"/>
<path d="M35.58 428.14 L38.42 427.63 L41.27 427.13 L44.11 426.71 L46.96 426.41 L49.8 426.26 L52.65 426.17 L55.5 426.09 L58.34 426.02 L61.19 425.97 L64.03 425.92 L66.88 425.88 L69.72 425.84 L72.57 425.81 L75.41 425.77 L78.26 425.74 L81.1 425.7 L83.95 425.67 L86.79 425.65 L89.64 425.62 L92.49 425.6 L95.33 425.57 L98.18 425.55 L101.02 425.53 L103.87 425.5 L106.71 425.48 L109.56 425.46 L112.4 425.44 L115.25 425.41 L118.09 425.39 L120.94 425.36 L123.78 425.34 L126.63 425.31 L129.47 425.28 L132.32 425.25 L135.17 425.23 L138.01 425.2 L140.86 425.17 L143.7 425.15 L146.55 425.12 L149.39 425.09 L152.24 425.07 L155.08 425.05 L157.93 425.02 L160.77 425 L163.62 424.98 L166.46 424.96 L169.31 424.94 L172.16 424.92 L175 424.9 L177.85 424.88 L180.69 424.86 L183.54 424.85 L186.38 424.83 L189.23 424.81 L192.07 424.8 L194.92 424.78 L197.76 424.77 L200.61 424.75 L203.45 424.74 L206.3 424.73" fill="none" stroke="#8a8a8a" stroke-width="1.05" stroke-linejoin="round"/>
<path d="M35.58 430.91 L38.42 430.77 L41.27 430.63 L44.11 430.5 L46.96 430.37 L49.8 430.25 L52.65 430.13 L55.5 430.02 L58.34 429.91 L61.19 429.8 L64.03 429.7 L66.88 429.6 L69.72 429.5 L72.57 429.4 L75.41 429.31 L78.26 429.23 L81.1 429.14 L83.95 429.05 L86.79 428.97 L89.64 428.89 L92.49 428.8 L95.33 428.72 L98.18 428.65 L101.02 428.57 L103.87 428.5 L106.71 428.42 L109.56 428.35 L112.4 428.29 L115.25 428.22 L118.09 428.16 L120.94 428.1 L123.78 428.04 L126.63 427.98 L129.47 427.92 L132.32 427.87 L135.17 427.81 L138.01 427.76 L140.86 427.71 L143.7 427.66 L146.55 427.61 L149.39 427.56 L152.24 427.51 L155.08 427.47 L157.93 427.42 L160.77 427.38 L163.62 427.34 L166.46 427.3 L169.31 427.26 L172.16 427.22 L175 427.18 L177.85 427.14 L180.69 427.11 L183.54 427.07 L186.38 427.04 L189.23 427.01 L192.07 426.97 L194.92 426.94 L197.76 426.91 L200.61 426.88 L203.45 426.86 L206.3 426.83" fill="none" stroke="#f05a64" stroke-width="1.05" stroke-linejoin="round"/>
<path d="M35.58 428.14 L38.42 427.53 L41.27 427.02 L44.11 426.71 L46.96 426.57 L49.8 426.46 L52.65 426.38 L55.5 426.33 L58.34 426.3 L61.19 426.27 L64.03 426.25 L66.88 426.23 L69.72 426.21 L72.57 426.2 L75.41 426.18 L78.26 426.17 L81.1 426.16 L83.95 426.15 L86.79 426.14 L89.64 426.13 L92.49 426.12 L95.33 426.12 L98.18 426.11 L101.02 426.1 L103.87 426.09 L106.71 426.08 L109.56 426.07 L112.4 426.06 L115.25 426.05 L118.09 426.04 L120.94 426.03 L123.78 426.02 L126.63 426.01 L129.47 425.99 L132.32 425.98 L135.17 425.97 L138.01 425.95 L140.86 425.94 L143.7 425.93 L146.55 425.92 L149.39 425.9 L152.24 425.89 L155.08 425.88 L157.93 425.87 L160.77 425.85 L163.62 425.84 L166.46 425.83 L169.31 425.81 L172.16 425.8 L175 425.79 L177.85 425.78 L180.69 425.76 L183.54 425.75 L186.38 425.74 L189.23 425.72 L192.07 425.71 L194.92 425.7 L197.76 425.68 L200.61 425.67 L203.45 425.66 L206.3 425.65" fill="none" stroke="#4cb47e" stroke-width="1.05" stroke-linejoin="round"/>
<path d="M35.58 428.14 L38.42 426.98 L41.27 426.01 L44.11 425.41 L46.96 425.13 L49.8 424.9 L52.65 424.73 L55.5 424.63 L58.34 424.58 L61.19 424.56 L64.03 424.53 L66.88 424.51 L69.72 424.49 L72.57 424.48 L75.41 424.46 L78.26 424.44 L81.1 424.43 L83.95 424.42 L86.79 424.41 L89.64 424.4 L92.49 424.39 L95.33 424.38 L98.18 424.38 L101.02 424.37 L103.87 424.36 L106.71 424.36 L109.56 424.35 L112.4 424.34 L115.25 424.34 L118.09 424.33 L120.94 424.33 L123.78 424.32 L126.63 424.31 L129.47 424.31 L132.32 424.3 L135.17 424.29 L138.01 424.29 L140.86 424.28 L143.7 424.28 L146.55 424.27 L149.39 424.26 L152.24 424.26 L155.08 424.25 L157.93 424.25 L160.77 424.24 L163.62 424.24 L166.46 424.23 L169.31 424.23 L172.16 424.22 L175 424.22 L177.85 424.22 L180.69 424.21 L183.54 424.21 L186.38 424.21 L189.23 424.21 L192.07 424.2 L194.92 424.2 L197.76 424.2 L200.61 424.2 L203.45 424.2 L206.3 424.2" fill="none" stroke="#5a88e0" stroke-width="1.05" stroke-linejoin="round"/>
<path d="M35.58 428.14 L38.42 427.12 L41.27 426.24 L44.11 425.67 L46.96 425.36 L49.8 425.1 L52.65 424.9 L55.5 424.77 L58.34 424.71 L61.19 424.68 L64.03 424.64 L66.88 424.61 L69.72 424.58 L72.57 424.56 L75.41 424.54 L78.26 424.52 L81.1 424.5 L83.95 424.49 L86.79 424.48 L89.64 424.46 L92.49 424.45 L95.33 424.44 L98.18 424.43 L101.02 424.42 L103.87 424.41 L106.71 424.4 L109.56 424.38 L112.4 424.37 L115.25 424.35 L118.09 424.33 L120.94 424.32 L123.78 424.3 L126.63 424.28 L129.47 424.26 L132.32 424.24 L135.17 424.22 L138.01 424.2 L140.86 424.17 L143.7 424.15 L146.55 424.13 L149.39 424.11 L152.24 424.09 L155.08 424.07 L157.93 424.05 L160.77 424.03 L163.62 424.01 L166.46 423.99 L169.31 423.96 L172.16 423.94 L175 423.92 L177.85 423.9 L180.69 423.88 L183.54 423.85 L186.38 423.83 L189.23 423.81 L192.07 423.79 L194.92 423.76 L197.76 423.74 L200.61 423.72 L203.45 423.7 L206.3 423.67" fill="none" stroke="#bb8ee8" stroke-width="1.05" stroke-linejoin="round"/>
<path d="M35.58 428.14 L38.42 426.51 L41.27 425.26 L44.11 424.48 L46.96 423.88 L49.8 423.55 L52.65 423.44 L55.5 423.35 L58.34 423.27 L61.19 423.21 L64.03 423.17 L66.88 423.13 L69.72 423.09 L72.57 423.05 L75.41 423.01 L78.26 422.97 L81.1 422.92 L83.95 422.89 L86.79 422.85 L89.64 422.81 L92.49 422.78 L95.33 422.75 L98.18 422.71 L101.02 422.68 L103.87 422.65 L106.71 422.62 L109.56 422.59 L112.4 422.56 L115.25 422.53 L118.09 422.5 L120.94 422.46 L123.78 422.43 L126.63 422.4 L129.47 422.37 L132.32 422.34 L135.17 422.31 L138.01 422.27 L140.86 422.24 L143.7 422.21 L146.55 422.18 L149.39 422.15 L152.24 422.12 L155.08 422.09 L157.93 422.06 L160.77 422.03 L163.62 422 L166.46 421.97 L169.31 421.94 L172.16 421.91 L175 421.88 L177.85 421.85 L180.69 421.82 L183.54 421.79 L186.38 421.76 L189.23 421.74 L192.07 421.71 L194.92 421.68 L197.76 421.65 L200.61 421.62 L203.45 421.6 L206.3 421.57" fill="none" stroke="#d8a428" stroke-width="1.05" stroke-linejoin="round"/>
<path d="M35.58 427.36 L38.42 424.95 L41.27 422.59 L44.11 420.28 L46.96 418.02 L49.8 415.82 L52.65 413.69 L55.5 411.63 L58.34 409.62 L61.19 407.66 L64.03 405.72 L66.88 403.78 L69.72 401.83 L72.57 399.86 L75.41 397.86 L78.26 395.85 L81.1 393.83 L83.95 391.82 L86.79 389.83 L89.64 387.86 L92.49 385.93 L95.33 384.04 L98.18 382.16 L101.02 380.31 L103.87 378.49 L106.71 376.71 L109.56 374.99 L112.4 373.3 L115.25 371.63 L118.09 369.96 L120.94 368.33 L123.78 366.74 L126.63 365.19 L129.47 363.71 L132.32 362.31 L135.17 360.99 L138.01 359.73 L140.86 358.51 L143.7 357.33 L146.55 356.19 L149.39 355.1 L152.24 354.06 L155.08 353.08 L157.93 352.16 L160.77 351.31 L163.62 350.5 L166.46 349.71 L169.31 348.95 L172.16 348.23 L175 347.55 L177.85 346.92 L180.69 346.34 L183.54 345.82 L186.38 345.36 L189.23 344.93 L192.07 344.53 L194.92 344.16 L197.76 343.82 L200.61 343.52 L203.45 343.27 L206.3 343.06" fill="none" stroke="#a07676" stroke-width="1.3" stroke-linejoin="round"/>
<path d="M35.58 426.96 L38.42 423.54 L41.27 420.2 L44.11 416.97 L46.96 413.86 L49.8 410.89 L52.65 408.05 L55.5 405.31 L58.34 402.68 L61.19 400.12 L64.03 397.63 L66.88 395.2 L69.72 392.82 L72.57 390.48 L75.41 388.16 L78.26 385.89 L81.1 383.67 L83.95 381.49 L86.79 379.37 L89.64 377.3 L92.49 375.3 L95.33 373.35 L98.18 371.43 L101.02 369.56 L103.87 367.76 L106.71 366.05 L109.56 364.45 L112.4 362.92 L115.25 361.42 L118.09 359.95 L120.94 358.53 L123.78 357.18 L126.63 355.9 L129.47 354.71 L132.32 353.64 L135.17 352.69 L138.01 351.84 L140.86 351.06 L143.7 350.34 L146.55 349.66 L149.39 349.02 L152.24 348.42 L155.08 347.84 L157.93 347.27 L160.77 346.72 L163.62 346.16 L166.46 345.6 L169.31 345.04 L172.16 344.5 L175 343.99 L177.85 343.52 L180.69 343.11 L183.54 342.77 L186.38 342.5 L189.23 342.26 L192.07 342.04 L194.92 341.83 L197.76 341.65 L200.61 341.51 L203.45 341.41 L206.3 341.35" fill="none" stroke="#ff7424" stroke-width="1.3" stroke-linejoin="round"/>
<path d="M35.58 424.46 L38.42 420.82 L41.27 417.25 L44.11 413.77 L46.96 410.38 L49.8 407.09 L52.65 403.9 L55.5 400.78 L58.34 397.72 L61.19 394.73 L64.03 391.82 L66.88 388.99 L69.72 386.25 L72.57 383.6 L75.41 381.02 L78.26 378.51 L81.1 376.06 L83.95 373.69 L86.79 371.39 L89.64 369.17 L92.49 367.04 L95.33 364.99 L98.18 362.97 L101.02 361.02 L103.87 359.17 L106.71 357.45 L109.56 355.89 L112.4 354.47 L115.25 353.1 L118.09 351.79 L120.94 350.55 L123.78 349.37 L126.63 348.27 L129.47 347.25 L132.32 346.31 L135.17 345.46 L138.01 344.67 L140.86 343.94 L143.7 343.24 L146.55 342.59 L149.39 341.98 L152.24 341.41 L155.08 340.87 L157.93 340.36 L160.77 339.89 L163.62 339.43 L166.46 338.98 L169.31 338.56 L172.16 338.15 L175 337.77 L177.85 337.42 L180.69 337.1 L183.54 336.82 L186.38 336.58 L189.23 336.36 L192.07 336.16 L194.92 335.97 L197.76 335.79 L200.61 335.65 L203.45 335.53 L206.3 335.44" fill="none" stroke="#9c9c2a" stroke-width="1.3" stroke-linejoin="round"/>
<path d="M35.58 424.46 L38.42 420.73 L41.27 417.08 L44.11 413.53 L46.96 410.07 L49.8 406.72 L52.65 403.49 L55.5 400.37 L58.34 397.34 L61.19 394.38 L64.03 391.47 L66.88 388.61 L69.72 385.76 L72.57 382.91 L75.41 380.03 L78.26 377.12 L81.1 374.24 L83.95 371.4 L86.79 368.65 L89.64 366.03 L92.49 363.57 L95.33 361.27 L98.18 359.07 L101.02 356.96 L103.87 354.96 L106.71 353.08 L109.56 351.32 L112.4 349.66 L115.25 348.05 L118.09 346.51 L120.94 345.02 L123.78 343.6 L126.63 342.24 L129.47 340.96 L132.32 339.75 L135.17 338.63 L138.01 337.56 L140.86 336.52 L143.7 335.53 L146.55 334.59 L149.39 333.69 L152.24 332.85 L155.08 332.06 L157.93 331.33 L160.77 330.67 L163.62 330.06 L166.46 329.48 L169.31 328.93 L172.16 328.42 L175 327.93 L177.85 327.48 L180.69 327.05 L183.54 326.66 L186.38 326.3 L189.23 325.97 L192.07 325.64 L194.92 325.34 L197.76 325.07 L200.61 324.81 L203.45 324.59 L206.3 324.39" fill="none" stroke="#50c8c0" stroke-width="1.3" stroke-linejoin="round"/>
<rect x="31.2" y="293.2" width="179.8" height="144.6" fill="none" stroke="#555" stroke-width="1.1"/>
<line x1="28.2" y1="431.3" x2="31.2" y2="431.3" stroke="#555" stroke-width="0.9"/>
<text x="26.2" y="433.4" font-size="6" text-anchor="end" fill="#111">0%</text>
<line x1="211" y1="431.3" x2="208.5" y2="431.3" stroke="#555" stroke-width="0.9"/>
<line x1="29.4" y1="418.15" x2="31.2" y2="418.15" stroke="#555" stroke-width="0.8"/>
<line x1="211" y1="418.15" x2="209.5" y2="418.15" stroke="#555" stroke-width="0.8"/>
<line x1="28.2" y1="405" x2="31.2" y2="405" stroke="#555" stroke-width="0.9"/>
<text x="26.2" y="407.1" font-size="6" text-anchor="end" fill="#111">20%</text>
<line x1="211" y1="405" x2="208.5" y2="405" stroke="#555" stroke-width="0.9"/>
<line x1="29.4" y1="391.85" x2="31.2" y2="391.85" stroke="#555" stroke-width="0.8"/>
<line x1="211" y1="391.85" x2="209.5" y2="391.85" stroke="#555" stroke-width="0.8"/>
<line x1="28.2" y1="378.7" x2="31.2" y2="378.7" stroke="#555" stroke-width="0.9"/>
<text x="26.2" y="380.8" font-size="6" text-anchor="end" fill="#111">40%</text>
<line x1="211" y1="378.7" x2="208.5" y2="378.7" stroke="#555" stroke-width="0.9"/>
<line x1="29.4" y1="365.55" x2="31.2" y2="365.55" stroke="#555" stroke-width="0.8"/>
<line x1="211" y1="365.55" x2="209.5" y2="365.55" stroke="#555" stroke-width="0.8"/>
<line x1="28.2" y1="352.4" x2="31.2" y2="352.4" stroke="#555" stroke-width="0.9"/>
<text x="26.2" y="354.5" font-size="6" text-anchor="end" fill="#111">60%</text>
<line x1="211" y1="352.4" x2="208.5" y2="352.4" stroke="#555" stroke-width="0.9"/>
<line x1="29.4" y1="339.25" x2="31.2" y2="339.25" stroke="#555" stroke-width="0.8"/>
<line x1="211" y1="339.25" x2="209.5" y2="339.25" stroke="#555" stroke-width="0.8"/>
<line x1="28.2" y1="326.1" x2="31.2" y2="326.1" stroke="#555" stroke-width="0.9"/>
<text x="26.2" y="328.2" font-size="6" text-anchor="end" fill="#111">80%</text>
<line x1="211" y1="326.1" x2="208.5" y2="326.1" stroke="#555" stroke-width="0.9"/>
<line x1="29.4" y1="312.95" x2="31.2" y2="312.95" stroke="#555" stroke-width="0.8"/>
<line x1="211" y1="312.95" x2="209.5" y2="312.95" stroke="#555" stroke-width="0.8"/>
<line x1="28.2" y1="299.8" x2="31.2" y2="299.8" stroke="#555" stroke-width="0.9"/>
<text x="26.2" y="301.9" font-size="6" text-anchor="end" fill="#111">100%</text>
<line x1="211" y1="299.8" x2="208.5" y2="299.8" stroke="#555" stroke-width="0.9"/>
<line x1="31.2" y1="437.8" x2="31.2" y2="440.3" stroke="#555" stroke-width="0.9"/>
<line x1="31.2" y1="293.2" x2="31.2" y2="295.7" stroke="#555" stroke-width="0.9"/>
<text x="31.2" y="447.4" font-size="6.5" text-anchor="middle" fill="#111">0</text>
<line x1="74.98" y1="437.8" x2="74.98" y2="440.3" stroke="#555" stroke-width="0.9"/>
<line x1="74.98" y1="293.2" x2="74.98" y2="295.7" stroke="#555" stroke-width="0.9"/>
<text x="74.98" y="447.4" font-size="6.5" text-anchor="middle" fill="#111">1000</text>
<line x1="118.75" y1="437.8" x2="118.75" y2="440.3" stroke="#555" stroke-width="0.9"/>
<line x1="118.75" y1="293.2" x2="118.75" y2="295.7" stroke="#555" stroke-width="0.9"/>
<text x="118.75" y="447.4" font-size="6.5" text-anchor="middle" fill="#111">2000</text>
<line x1="162.53" y1="437.8" x2="162.53" y2="440.3" stroke="#555" stroke-width="0.9"/>
<line x1="162.53" y1="293.2" x2="162.53" y2="295.7" stroke="#555" stroke-width="0.9"/>
<text x="162.53" y="447.4" font-size="6.5" text-anchor="middle" fill="#111">3000</text>
<line x1="206.3" y1="437.8" x2="206.3" y2="440.3" stroke="#555" stroke-width="0.9"/>
<line x1="206.3" y1="293.2" x2="206.3" y2="295.7" stroke="#555" stroke-width="0.9"/>
<text x="206.3" y="447.4" font-size="6.5" text-anchor="middle" fill="#111">4000</text>
<line x1="53.09" y1="437.8" x2="53.09" y2="439.3" stroke="#555" stroke-width="0.8"/>
<line x1="53.09" y1="293.2" x2="53.09" y2="294.7" stroke="#555" stroke-width="0.8"/>
<line x1="96.86" y1="437.8" x2="96.86" y2="439.3" stroke="#555" stroke-width="0.8"/>
<line x1="96.86" y1="293.2" x2="96.86" y2="294.7" stroke="#555" stroke-width="0.8"/>
<line x1="140.64" y1="437.8" x2="140.64" y2="439.3" stroke="#555" stroke-width="0.8"/>
<line x1="140.64" y1="293.2" x2="140.64" y2="294.7" stroke="#555" stroke-width="0.8"/>
<line x1="184.41" y1="437.8" x2="184.41" y2="439.3" stroke="#555" stroke-width="0.8"/>
<line x1="184.41" y1="293.2" x2="184.41" y2="294.7" stroke="#555" stroke-width="0.8"/>
<text x="121.1" y="458.8" font-size="7.5" text-anchor="middle" fill="#222">Total Action Count (Big)</text>
<text transform="translate(9.2 365.2) rotate(-90)" font-size="7.5" text-anchor="middle" fill="#111">Coverage</text>
<line x1="33" y1="298.7" x2="43.2" y2="298.7" stroke="#404040" stroke-width="1.4"/>
<text x="44.6" y="300.2" font-size="4.4" fill="#111">RandomRobot+Center</text>
<line x1="33" y1="304.18" x2="43.2" y2="304.18" stroke="#f03040" stroke-width="1.4"/>
<text x="44.6" y="305.68" font-size="4.4" fill="#111">RandomRobot+Edge</text>
<line x1="33" y1="309.66" x2="43.2" y2="309.66" stroke="#2a6ee0" stroke-width="1.4"/>
<text x="44.6" y="311.16" font-size="4.4" fill="#111">Robot+Center</text>
<line x1="33" y1="315.14" x2="43.2" y2="315.14" stroke="#3aa86a" stroke-width="1.4"/>
<text x="44.6" y="316.64" font-size="4.4" fill="#111">Robot+Edge</text>
<line x1="33" y1="320.62" x2="43.2" y2="320.62" stroke="#b080e8" stroke-width="1.4"/>
<text x="44.6" y="322.12" font-size="4.4" fill="#111">RobotUsingSound+Center</text>
<line x1="33" y1="326.1" x2="43.2" y2="326.1" stroke="#d8a428" stroke-width="1.4"/>
<text x="44.6" y="327.6" font-size="4.4" fill="#111">RobotUsingSound+Edge</text>
<line x1="33" y1="331.58" x2="43.2" y2="331.58" stroke="#22c8c8" stroke-width="1.4"/>
<text x="44.6" y="333.08" font-size="4.4" fill="#111">RobotUsingGas+Center</text>
<line x1="33" y1="337.06" x2="43.2" y2="337.06" stroke="#8a6060" stroke-width="1.4"/>
<text x="44.6" y="338.56" font-size="4.4" fill="#111">RobotUsingGas+Edge</text>
<line x1="33" y1="342.54" x2="43.2" y2="342.54" stroke="#8c8c1c" stroke-width="1.4"/>
<text x="44.6" y="344.04" font-size="4.4" fill="#111">RobotUsingGasAndSound+Center</text>
<line x1="33" y1="348.02" x2="43.2" y2="348.02" stroke="#ff6a1a" stroke-width="1.4"/>
<text x="44.6" y="349.52" font-size="4.4" fill="#111">RobotUsingGasAndSound+Edge</text>
<path d="M253.49 414.21 L256.21 413.5 L258.93 412.75 L261.65 411.98 L264.37 411.22 L267.09 410.51 L269.81 409.88 L272.53 409.35 L275.25 408.95 L277.97 408.72 L280.69 408.66 L283.41 408.62 L286.13 408.59 L288.85 408.55 L291.57 408.52 L294.29 408.49 L297.01 408.45 L299.73 408.42 L302.45 408.39 L305.17 408.37 L307.89 408.34 L310.61 408.31 L313.33 408.29 L316.05 408.26 L318.77 408.24 L321.49 408.22 L324.21 408.19 L326.93 408.17 L329.65 408.15 L332.37 408.13 L335.1 408.12 L337.82 408.1 L340.54 408.08 L343.26 408.07 L345.98 408.05 L348.7 408.04 L351.42 408.03 L354.14 408.01 L356.86 408 L359.58 407.99 L362.3 407.98 L365.02 407.97 L367.74 407.96 L370.46 407.95 L373.18 407.95 L375.9 407.94 L378.62 407.93 L381.34 407.93 L384.06 407.92 L386.78 407.92 L389.5 407.91 L392.22 407.91 L394.94 407.9 L397.66 407.9 L400.38 407.9 L403.1 407.9 L405.82 407.9 L408.54 407.89 L411.26 407.89 L413.98 407.89 L416.7 407.89 L416.7 427.36 L413.98 427.42 L411.26 427.49 L408.54 427.55 L405.82 427.62 L403.1 427.68 L400.38 427.75 L397.66 427.82 L394.94 427.88 L392.22 427.95 L389.5 428.01 L386.78 428.08 L384.06 428.14 L381.34 428.21 L378.62 428.28 L375.9 428.34 L373.18 428.41 L370.46 428.47 L367.74 428.54 L365.02 428.6 L362.3 428.67 L359.58 428.74 L356.86 428.8 L354.14 428.87 L351.42 428.93 L348.7 429 L345.98 429.06 L343.26 429.13 L340.54 429.2 L337.82 429.26 L335.1 429.33 L332.37 429.39 L329.65 429.46 L326.93 429.52 L324.21 429.59 L321.49 429.66 L318.77 429.72 L316.05 429.79 L313.33 429.85 L310.61 429.92 L307.89 429.99 L305.17 430.05 L302.45 430.12 L299.73 430.18 L297.01 430.25 L294.29 430.31 L291.57 430.38 L288.85 430.45 L286.13 430.51 L283.41 430.58 L280.69 430.64 L277.97 430.71 L275.25 430.77 L272.53 430.84 L269.81 430.91 L267.09 430.97 L264.37 431.04 L261.65 431.1 L258.93 431.17 L256.21 431.23 L253.49 431.3Z" fill="#f0eefa" fill-opacity="1" stroke="none"/>
<path d="M253.49 415.52 L256.21 414.82 L258.93 414.07 L261.65 413.3 L264.37 412.55 L267.09 411.84 L269.81 411.21 L272.53 410.68 L275.25 410.28 L277.97 410.04 L280.69 409.97 L283.41 409.92 L286.13 409.87 L288.85 409.83 L291.57 409.78 L294.29 409.74 L297.01 409.7 L299.73 409.66 L302.45 409.62 L305.17 409.58 L307.89 409.54 L310.61 409.51 L313.33 409.47 L316.05 409.44 L318.77 409.41 L321.49 409.38 L324.21 409.35 L326.93 409.32 L329.65 409.3 L332.37 409.27 L335.1 409.25 L337.82 409.22 L340.54 409.2 L343.26 409.18 L345.98 409.16 L348.7 409.14 L351.42 409.13 L354.14 409.11 L356.86 409.09 L359.58 409.08 L362.3 409.06 L365.02 409.05 L367.74 409.04 L370.46 409.03 L373.18 409.02 L375.9 409.01 L378.62 409 L381.34 408.99 L384.06 408.98 L386.78 408.98 L389.5 408.97 L392.22 408.97 L394.94 408.96 L397.66 408.96 L400.38 408.95 L403.1 408.95 L405.82 408.95 L408.54 408.95 L411.26 408.95 L413.98 408.95 L416.7 408.94 L416.7 426.96 L413.98 427.03 L411.26 427.09 L408.54 427.16 L405.82 427.22 L403.1 427.29 L400.38 427.36 L397.66 427.42 L394.94 427.49 L392.22 427.55 L389.5 427.62 L386.78 427.68 L384.06 427.75 L381.34 427.82 L378.62 427.88 L375.9 427.95 L373.18 428.01 L370.46 428.08 L367.74 428.14 L365.02 428.21 L362.3 428.28 L359.58 428.34 L356.86 428.41 L354.14 428.47 L351.42 428.54 L348.7 428.6 L345.98 428.67 L343.26 428.74 L340.54 428.8 L337.82 428.87 L335.1 428.93 L332.37 429 L329.65 429.06 L326.93 429.13 L324.21 429.2 L321.49 429.26 L318.77 429.33 L316.05 429.39 L313.33 429.46 L310.61 429.52 L307.89 429.59 L305.17 429.66 L302.45 429.72 L299.73 429.79 L297.01 429.85 L294.29 429.92 L291.57 429.99 L288.85 430.05 L286.13 430.12 L283.41 430.18 L280.69 430.25 L277.97 430.31 L275.25 430.38 L272.53 430.45 L269.81 430.51 L267.09 430.58 L264.37 430.64 L261.65 430.71 L258.93 430.77 L256.21 430.84 L253.49 430.91Z" fill="#ebebeb" fill-opacity="1" stroke="none"/>
<path d="M253.49 412.23 L256.21 401.64 L258.93 391.58 L261.65 382.16 L264.37 373.5 L267.09 365.68 L269.81 358.83 L272.53 353.04 L275.25 348.37 L277.97 344.26 L280.69 340.44 L283.41 336.96 L286.13 333.82 L288.85 331.05 L291.57 328.63 L294.29 326.46 L297.01 324.5 L299.73 322.71 L302.45 321.04 L305.17 319.44 L307.89 317.87 L310.61 316.33 L313.33 314.83 L316.05 313.37 L318.77 311.97 L321.49 310.63 L324.21 309.36 L326.93 308.18 L329.65 307.08 L332.37 306.09 L335.1 305.18 L337.82 304.32 L340.54 303.51 L343.26 302.75 L345.98 302.04 L348.7 301.4 L351.42 300.83 L354.14 300.34 L356.86 299.93 L359.58 299.61 L362.3 299.37 L365.02 299.18 L367.74 299.14 L370.46 299.14 L373.18 299.14 L375.9 299.14 L378.62 299.14 L381.34 299.14 L384.06 299.14 L386.78 299.14 L389.5 299.14 L392.22 299.14 L394.94 299.14 L397.66 299.14 L400.38 299.14 L403.1 299.14 L405.82 299.14 L408.54 299.14 L411.26 299.14 L413.98 299.14 L416.7 299.14 L416.7 337.28 L413.98 337.48 L411.26 337.69 L408.54 337.91 L405.82 338.14 L403.1 338.37 L400.38 338.61 L397.66 338.86 L394.94 339.11 L392.22 339.36 L389.5 339.62 L386.78 339.87 L384.06 340.13 L381.34 340.39 L378.62 340.66 L375.9 340.95 L373.18 341.25 L370.46 341.58 L367.74 341.93 L365.02 342.3 L362.3 342.71 L359.58 343.16 L356.86 343.69 L354.14 344.3 L351.42 344.99 L348.7 345.75 L345.98 346.58 L343.26 347.46 L340.54 348.4 L337.82 349.38 L335.1 350.41 L332.37 351.47 L329.65 352.67 L326.93 354 L324.21 355.45 L321.49 357 L318.77 358.62 L316.05 360.31 L313.33 362.04 L310.61 363.79 L307.89 365.54 L305.17 367.29 L302.45 369.01 L299.73 370.74 L297.01 372.52 L294.29 374.39 L291.57 376.37 L288.85 378.51 L286.13 380.78 L283.41 383.07 L280.69 385.39 L277.97 387.78 L275.25 390.27 L272.53 392.87 L269.81 395.64 L267.09 398.57 L264.37 401.68 L261.65 404.98 L258.93 408.49 L256.21 412.22 L253.49 416.18Z" fill="#e4f3ea" fill-opacity="0.85" stroke="none"/>
<path d="M253.49 421.04 L256.21 416.77 L258.93 412.49 L261.65 408.2 L264.37 403.94 L267.09 399.73 L269.81 395.57 L272.53 391.49 L275.25 387.5 L277.97 383.55 L280.69 379.69 L283.41 376.03 L286.13 372.69 L288.85 369.78 L291.57 367.2 L294.29 364.82 L297.01 362.57 L299.73 360.39 L302.45 358.22 L305.17 356.01 L307.89 353.75 L310.61 351.47 L313.33 349.2 L316.05 346.93 L318.77 344.7 L321.49 342.52 L324.21 340.4 L326.93 338.36 L329.65 336.42 L332.37 334.59 L335.1 332.87 L337.82 331.22 L340.54 329.62 L343.26 328.08 L345.98 326.6 L348.7 325.17 L351.42 323.8 L354.14 322.49 L356.86 321.25 L359.58 320.06 L362.3 318.93 L365.02 317.82 L367.74 316.74 L370.46 315.69 L373.18 314.67 L375.9 313.71 L378.62 312.79 L381.34 311.94 L384.06 311.15 L386.78 310.43 L389.5 309.79 L392.22 309.24 L394.94 308.72 L397.66 308.23 L400.38 307.77 L403.1 307.35 L405.82 306.97 L408.54 306.64 L411.26 306.36 L413.98 306.14 L416.7 305.98 L416.7 361.61 L413.98 362.31 L411.26 363.02 L408.54 363.73 L405.82 364.42 L403.1 365.11 L400.38 365.78 L397.66 366.44 L394.94 367.08 L392.22 367.7 L389.5 368.31 L386.78 368.96 L384.06 369.65 L381.34 370.37 L378.62 371.13 L375.9 371.92 L373.18 372.72 L370.46 373.55 L367.74 374.39 L365.02 375.24 L362.3 376.1 L359.58 376.96 L356.86 377.87 L354.14 378.82 L351.42 379.83 L348.7 380.89 L345.98 382.01 L343.26 383.18 L340.54 384.41 L337.82 385.71 L335.1 387.06 L332.37 388.47 L329.65 389.86 L326.93 391.21 L324.21 392.52 L321.49 393.79 L318.77 395.02 L316.05 396.22 L313.33 397.39 L310.61 398.52 L307.89 399.62 L305.17 400.7 L302.45 401.61 L299.73 402.25 L297.01 402.72 L294.29 403.12 L291.57 403.55 L288.85 404.14 L286.13 405.01 L283.41 406.17 L280.69 407.58 L277.97 409.17 L275.25 410.75 L272.53 412.27 L269.81 413.81 L267.09 415.38 L264.37 416.98 L261.65 418.61 L258.93 420.26 L256.21 421.95 L253.49 423.67Z" fill="#f0f0f0" fill-opacity="0.9" stroke="none"/>
<path d="M253.49 418.15 L256.21 412.96 L258.93 407.76 L261.65 402.59 L264.37 397.47 L267.09 392.44 L269.81 387.5 L272.53 382.7 L275.25 378.04 L277.97 373.44 L280.69 368.98 L283.41 364.83 L286.13 361.19 L288.85 358.19 L291.57 355.7 L294.29 353.48 L297.01 351.44 L299.73 349.52 L302.45 347.62 L305.17 345.67 L307.89 343.68 L310.61 341.68 L313.33 339.68 L316.05 337.71 L318.77 335.77 L321.49 333.91 L324.21 332.12 L326.93 330.44 L329.65 328.89 L332.37 327.47 L335.1 326.2 L337.82 325.01 L340.54 323.89 L343.26 322.82 L345.98 321.81 L348.7 320.86 L351.42 319.95 L354.14 319.08 L356.86 318.25 L359.58 317.44 L362.3 316.67 L365.02 315.9 L367.74 315.15 L370.46 314.43 L373.18 313.73 L375.9 313.05 L378.62 312.42 L381.34 311.82 L384.06 311.26 L386.78 310.76 L389.5 310.3 L392.22 309.9 L394.94 309.53 L397.66 309.17 L400.38 308.83 L403.1 308.52 L405.82 308.23 L408.54 307.98 L411.26 307.75 L413.98 307.57 L416.7 307.43 L416.7 345.17 L413.98 345.79 L411.26 346.43 L408.54 347.07 L405.82 347.72 L403.1 348.37 L400.38 349.02 L397.66 349.66 L394.94 350.3 L392.22 350.92 L389.5 351.54 L386.78 352.19 L384.06 352.86 L381.34 353.56 L378.62 354.27 L375.9 355 L373.18 355.73 L370.46 356.47 L367.74 357.2 L365.02 357.94 L362.3 358.66 L359.58 359.37 L356.86 360.07 L354.14 360.76 L351.42 361.44 L348.7 362.12 L345.98 362.81 L343.26 363.52 L340.54 364.25 L337.82 365 L335.1 365.79 L332.37 366.63 L329.65 367.58 L326.93 368.65 L324.21 369.82 L321.49 371.06 L318.77 372.36 L316.05 373.7 L313.33 375.07 L310.61 376.44 L307.89 377.8 L305.17 379.12 L302.45 380.39 L299.73 381.6 L297.01 382.82 L294.29 384.14 L291.57 385.63 L288.85 387.4 L286.13 389.58 L283.41 392.1 L280.69 394.82 L277.97 397.59 L275.25 400.26 L272.53 402.79 L269.81 405.31 L267.09 407.82 L264.37 410.36 L261.65 412.91 L258.93 415.49 L256.21 418.11 L253.49 420.78Z" fill="#f6e8de" fill-opacity="0.85" stroke="none"/>
<path d="M253.49 413.55 L256.21 406.08 L258.93 398.89 L261.65 392.02 L264.37 385.48 L267.09 379.32 L269.81 373.54 L272.53 368.19 L275.25 363.27 L277.97 358.77 L280.69 354.67 L283.41 350.82 L286.13 347.25 L288.85 343.98 L291.57 341.05 L294.29 338.4 L297.01 336.01 L299.73 333.85 L302.45 331.89 L305.17 330.08 L307.89 328.33 L310.61 326.56 L313.33 324.78 L316.05 323.03 L318.77 321.32 L321.49 319.67 L324.21 318.1 L326.93 316.64 L329.65 315.31 L332.37 314.12 L335.1 313.08 L337.82 312.13 L340.54 311.24 L343.26 310.42 L345.98 309.65 L348.7 308.93 L351.42 308.25 L354.14 307.6 L356.86 306.99 L359.58 306.39 L362.3 305.81 L365.02 305.24 L367.74 304.7 L370.46 304.19 L373.18 303.71 L375.9 303.27 L378.62 302.89 L381.34 302.56 L384.06 302.29 L386.78 302.1 L389.5 301.98 L392.22 301.94 L394.94 301.95 L397.66 302.02 L400.38 302.13 L403.1 302.3 L405.82 302.52 L408.54 302.82 L411.26 303.18 L413.98 303.62 L416.7 304.14 L416.7 341.88 L413.98 341.98 L411.26 342.11 L408.54 342.26 L405.82 342.44 L403.1 342.64 L400.38 342.85 L397.66 343.08 L394.94 343.32 L392.22 343.57 L389.5 343.83 L386.78 344.13 L384.06 344.48 L381.34 344.86 L378.62 345.28 L375.9 345.72 L373.18 346.18 L370.46 346.66 L367.74 347.15 L365.02 347.64 L362.3 348.14 L359.58 348.62 L356.86 349.11 L354.14 349.59 L351.42 350.09 L348.7 350.6 L345.98 351.15 L343.26 351.73 L340.54 352.35 L337.82 353.02 L335.1 353.76 L332.37 354.57 L329.65 355.53 L326.93 356.63 L324.21 357.86 L321.49 359.19 L318.77 360.61 L316.05 362.09 L313.33 363.62 L310.61 365.17 L307.89 366.74 L305.17 368.28 L302.45 369.81 L299.73 371.33 L297.01 372.92 L294.29 374.6 L291.57 376.43 L288.85 378.45 L286.13 380.7 L283.41 383.03 L280.69 385.45 L277.97 387.92 L275.25 390.45 L272.53 393.05 L269.81 395.79 L267.09 398.7 L264.37 401.78 L261.65 405.05 L258.93 408.53 L256.21 412.24 L253.49 416.18Z" fill="#ebe5d6" fill-opacity="0.85" stroke="none"/>
<path d="M253.49 429.99 L256.21 429.91 L258.93 429.82 L261.65 429.73 L264.37 429.64 L267.09 429.54 L269.81 429.44 L272.53 429.33 L275.25 429.22 L277.97 429.11 L280.69 428.99 L283.41 428.87 L286.13 428.75 L288.85 428.62 L291.57 428.49 L294.29 428.35 L297.01 428.21 L299.73 428.06 L302.45 427.9 L305.17 427.74 L307.89 427.58 L310.61 427.41 L313.33 427.23 L316.05 427.06 L318.77 426.88 L321.49 426.69 L324.21 426.5 L326.93 426.31 L329.65 426.12 L332.37 425.93 L335.1 425.72 L337.82 425.5 L340.54 425.27 L343.26 425.04 L345.98 424.79 L348.7 424.55 L351.42 424.3 L354.14 424.05 L356.86 423.8 L359.58 423.55 L362.3 423.31 L365.02 423.07 L367.74 422.84 L370.46 422.61 L373.18 422.4 L375.9 422.2 L378.62 421.99 L381.34 421.8 L384.06 421.6 L386.78 421.4 L389.5 421.21 L392.22 421.02 L394.94 420.84 L397.66 420.66 L400.38 420.48 L403.1 420.3 L405.82 420.13 L408.54 419.96 L411.26 419.79 L413.98 419.62 L416.7 419.47" fill="none" stroke="#8a8a8a" stroke-width="1.05" stroke-linejoin="round"/>
<path d="M253.49 429.99 L256.21 429.83 L258.93 429.68 L261.65 429.53 L264.37 429.37 L267.09 429.22 L269.81 429.06 L272.53 428.91 L275.25 428.75 L277.97 428.59 L280.69 428.43 L283.41 428.27 L286.13 428.11 L288.85 427.95 L291.57 427.78 L294.29 427.61 L297.01 427.43 L299.73 427.25 L302.45 427.06 L305.17 426.88 L307.89 426.7 L310.61 426.51 L313.33 426.34 L316.05 426.16 L318.77 426 L321.49 425.84 L324.21 425.69 L326.93 425.55 L329.65 425.43 L332.37 425.32 L335.1 425.22 L337.82 425.12 L340.54 425.03 L343.26 424.94 L345.98 424.85 L348.7 424.77 L351.42 424.69 L354.14 424.62 L356.86 424.54 L359.58 424.47 L362.3 424.4 L365.02 424.32 L367.74 424.24 L370.46 424.17 L373.18 424.08 L375.9 424 L378.62 423.92 L381.34 423.84 L384.06 423.75 L386.78 423.67 L389.5 423.59 L392.22 423.5 L394.94 423.42 L397.66 423.34 L400.38 423.25 L403.1 423.17 L405.82 423.09 L408.54 423 L411.26 422.92 L413.98 422.84 L416.7 422.75" fill="none" stroke="#f05a64" stroke-width="1.05" stroke-linejoin="round"/>
<path d="M253.49 424.07 L256.21 423.61 L258.93 423.17 L261.65 422.76 L264.37 422.4 L267.09 422.1 L269.81 421.88 L272.53 421.74 L275.25 421.61 L277.97 421.5 L280.69 421.4 L283.41 421.31 L286.13 421.23 L288.85 421.17 L291.57 421.11 L294.29 421.07 L297.01 421.04 L299.73 421.01 L302.45 420.98 L305.17 420.95 L307.89 420.92 L310.61 420.9 L313.33 420.87 L316.05 420.85 L318.77 420.82 L321.49 420.8 L324.21 420.77 L326.93 420.75 L329.65 420.73 L332.37 420.71 L335.1 420.69 L337.82 420.67 L340.54 420.65 L343.26 420.63 L345.98 420.61 L348.7 420.6 L351.42 420.58 L354.14 420.56 L356.86 420.55 L359.58 420.53 L362.3 420.52 L365.02 420.51 L367.74 420.49 L370.46 420.48 L373.18 420.47 L375.9 420.46 L378.62 420.45 L381.34 420.44 L384.06 420.43 L386.78 420.43 L389.5 420.42 L392.22 420.41 L394.94 420.41 L397.66 420.4 L400.38 420.4 L403.1 420.39 L405.82 420.39 L408.54 420.39 L411.26 420.39 L413.98 420.39 L416.7 420.39" fill="none" stroke="#4cb47e" stroke-width="1.05" stroke-linejoin="round"/>
<path d="M253.49 417.89 L256.21 417.73 L258.93 417.58 L261.65 417.44 L264.37 417.31 L267.09 417.21 L269.81 417.12 L272.53 417.05 L275.25 416.99 L277.97 416.94 L280.69 416.88 L283.41 416.83 L286.13 416.79 L288.85 416.76 L291.57 416.73 L294.29 416.71 L297.01 416.7 L299.73 416.7 L302.45 416.69 L305.17 416.68 L307.89 416.68 L310.61 416.67 L313.33 416.67 L316.05 416.66 L318.77 416.65 L321.49 416.65 L324.21 416.64 L326.93 416.64 L329.65 416.64 L332.37 416.63 L335.1 416.63 L337.82 416.62 L340.54 416.62 L343.26 416.62 L345.98 416.61 L348.7 416.61 L351.42 416.61 L354.14 416.6 L356.86 416.6 L359.58 416.6 L362.3 416.59 L365.02 416.59 L367.74 416.59 L370.46 416.59 L373.18 416.59 L375.9 416.58 L378.62 416.58 L381.34 416.58 L384.06 416.58 L386.78 416.58 L389.5 416.58 L392.22 416.58 L394.94 416.58 L397.66 416.57 L400.38 416.57 L403.1 416.57 L405.82 416.57 L408.54 416.57 L411.26 416.57 L413.98 416.57 L416.7 416.57" fill="none" stroke="#5a88e0" stroke-width="1.05" stroke-linejoin="round"/>
<path d="M253.49 422.1 L256.21 421.18 L258.93 420.29 L261.65 419.48 L264.37 418.78 L267.09 418.25 L269.81 417.93 L272.53 417.82 L275.25 417.72 L277.97 417.63 L280.69 417.56 L283.41 417.5 L286.13 417.45 L288.85 417.41 L291.57 417.38 L294.29 417.36 L297.01 417.36 L299.73 417.36 L302.45 417.36 L305.17 417.36 L307.89 417.35 L310.61 417.35 L313.33 417.34 L316.05 417.34 L318.77 417.34 L321.49 417.33 L324.21 417.33 L326.93 417.32 L329.65 417.32 L332.37 417.31 L335.1 417.31 L337.82 417.31 L340.54 417.31 L343.26 417.31 L345.98 417.31 L348.7 417.31 L351.42 417.31 L354.14 417.32 L356.86 417.32 L359.58 417.33 L362.3 417.34 L365.02 417.35 L367.74 417.37 L370.46 417.39 L373.18 417.4 L375.9 417.43 L378.62 417.45 L381.34 417.48 L384.06 417.51 L386.78 417.54 L389.5 417.58 L392.22 417.62 L394.94 417.66 L397.66 417.71 L400.38 417.76 L403.1 417.81 L405.82 417.87 L408.54 417.94 L411.26 418 L413.98 418.07 L416.7 418.15" fill="none" stroke="#bb8ee8" stroke-width="1.05" stroke-linejoin="round"/>
<path d="M253.49 426.04 L256.21 424.49 L258.93 423.04 L261.65 421.71 L264.37 420.57 L267.09 419.64 L269.81 418.96 L272.53 418.52 L275.25 418.13 L277.97 417.79 L280.69 417.51 L283.41 417.29 L286.13 417.15 L288.85 417.08 L291.57 417.03 L294.29 416.99 L297.01 416.95 L299.73 416.91 L302.45 416.88 L305.17 416.85 L307.89 416.83 L310.61 416.8 L313.33 416.78 L316.05 416.77 L318.77 416.75 L321.49 416.74 L324.21 416.73 L326.93 416.72 L329.65 416.71 L332.37 416.7 L335.1 416.69 L337.82 416.68 L340.54 416.68 L343.26 416.67 L345.98 416.66 L348.7 416.66 L351.42 416.65 L354.14 416.64 L356.86 416.64 L359.58 416.63 L362.3 416.63 L365.02 416.62 L367.74 416.62 L370.46 416.61 L373.18 416.61 L375.9 416.6 L378.62 416.6 L381.34 416.6 L384.06 416.59 L386.78 416.59 L389.5 416.59 L392.22 416.58 L394.94 416.58 L397.66 416.58 L400.38 416.58 L403.1 416.58 L405.82 416.57 L408.54 416.57 L411.26 416.57 L413.98 416.57 L416.7 416.57" fill="none" stroke="#d8a428" stroke-width="1.05" stroke-linejoin="round"/>
<path d="M253.49 422.36 L256.21 419.45 L258.93 416.56 L261.65 413.68 L264.37 410.82 L267.09 407.98 L269.81 405.15 L272.53 402.33 L275.25 399.52 L277.97 396.64 L280.69 393.72 L283.41 390.86 L286.13 388.16 L288.85 385.72 L291.57 383.56 L294.29 381.59 L297.01 379.74 L299.73 377.96 L302.45 376.19 L305.17 374.35 L307.89 372.46 L310.61 370.55 L313.33 368.63 L316.05 366.71 L318.77 364.82 L321.49 362.96 L324.21 361.16 L326.93 359.44 L329.65 357.8 L332.37 356.27 L335.1 354.84 L337.82 353.47 L340.54 352.14 L343.26 350.85 L345.98 349.62 L348.7 348.44 L351.42 347.3 L354.14 346.22 L356.86 345.19 L359.58 344.21 L362.3 343.28 L365.02 342.36 L367.74 341.45 L370.46 340.57 L373.18 339.72 L375.9 338.9 L378.62 338.13 L381.34 337.4 L384.06 336.74 L386.78 336.13 L389.5 335.6 L392.22 335.14 L394.94 334.7 L397.66 334.28 L400.38 333.89 L403.1 333.52 L405.82 333.19 L408.54 332.89 L411.26 332.64 L413.98 332.43 L416.7 332.28" fill="none" stroke="#a07676" stroke-width="1.3" stroke-linejoin="round"/>
<path d="M253.49 419.47 L256.21 415.68 L258.93 411.94 L261.65 408.25 L264.37 404.62 L267.09 401.03 L269.81 397.49 L272.53 394 L275.25 390.54 L277.97 387 L280.69 383.42 L283.41 379.97 L286.13 376.8 L288.85 374.04 L291.57 371.73 L294.29 369.68 L297.01 367.82 L299.73 366.06 L302.45 364.32 L305.17 362.53 L307.89 360.7 L310.61 358.84 L313.33 356.99 L316.05 355.15 L318.77 353.35 L321.49 351.61 L324.21 349.95 L326.93 348.39 L329.65 346.95 L332.37 345.65 L335.1 344.48 L337.82 343.39 L340.54 342.37 L343.26 341.4 L345.98 340.48 L348.7 339.61 L351.42 338.78 L354.14 337.99 L356.86 337.23 L359.58 336.5 L362.3 335.79 L365.02 335.08 L367.74 334.39 L370.46 333.72 L373.18 333.07 L375.9 332.45 L378.62 331.86 L381.34 331.3 L384.06 330.78 L386.78 330.31 L389.5 329.89 L392.22 329.51 L394.94 329.16 L397.66 328.82 L400.38 328.51 L403.1 328.21 L405.82 327.93 L408.54 327.69 L411.26 327.47 L413.98 327.29 L416.7 327.15" fill="none" stroke="#ff7424" stroke-width="1.3" stroke-linejoin="round"/>
<path d="M253.49 414.86 L256.21 409.79 L258.93 404.91 L261.65 400.24 L264.37 395.78 L267.09 391.54 L269.81 387.52 L272.53 383.72 L275.25 380.15 L277.97 376.75 L280.69 373.53 L283.41 370.51 L286.13 367.73 L288.85 365.21 L291.57 362.96 L294.29 360.91 L297.01 359.01 L299.73 357.22 L302.45 355.48 L305.17 353.76 L307.89 352.01 L310.61 350.26 L313.33 348.52 L316.05 346.81 L318.77 345.16 L321.49 343.57 L324.21 342.07 L326.93 340.69 L329.65 339.44 L332.37 338.33 L335.1 337.38 L337.82 336.5 L340.54 335.7 L343.26 334.95 L345.98 334.24 L348.7 333.58 L351.42 332.96 L354.14 332.35 L356.86 331.76 L359.58 331.18 L362.3 330.61 L365.02 330.03 L367.74 329.45 L370.46 328.88 L373.18 328.33 L375.9 327.8 L378.62 327.29 L381.34 326.82 L384.06 326.38 L386.78 325.98 L389.5 325.63 L392.22 325.33 L394.94 325.05 L397.66 324.78 L400.38 324.52 L403.1 324.28 L405.82 324.06 L408.54 323.87 L411.26 323.71 L413.98 323.57 L416.7 323.47" fill="none" stroke="#9c9c2a" stroke-width="1.3" stroke-linejoin="round"/>
<path d="M253.49 414.86 L256.21 409.79 L258.93 404.91 L261.65 400.24 L264.37 395.78 L267.09 391.54 L269.81 387.52 L272.53 383.72 L275.25 380.15 L277.97 376.79 L280.69 373.63 L283.41 370.66 L286.13 367.86 L288.85 365.24 L291.57 362.78 L294.29 360.48 L297.01 358.31 L299.73 356.23 L302.45 354.2 L305.17 352.19 L307.89 350.16 L310.61 348.13 L313.33 346.11 L316.05 344.12 L318.77 342.18 L321.49 340.31 L324.21 338.52 L326.93 336.83 L329.65 335.27 L332.37 333.86 L335.1 332.57 L337.82 331.34 L340.54 330.16 L343.26 329.02 L345.98 327.95 L348.7 326.95 L351.42 326.01 L354.14 325.15 L356.86 324.38 L359.58 323.7 L362.3 323.11 L365.02 322.56 L367.74 322.05 L370.46 321.58 L373.18 321.14 L375.9 320.72 L378.62 320.33 L381.34 319.96 L384.06 319.61 L386.78 319.27 L389.5 318.94 L392.22 318.61 L394.94 318.3 L397.66 317.99 L400.38 317.7 L403.1 317.42 L405.82 317.15 L408.54 316.9 L411.26 316.66 L413.98 316.44 L416.7 316.24" fill="none" stroke="#50c8c0" stroke-width="1.3" stroke-linejoin="round"/>
<rect x="244.9" y="293.2" width="180.8" height="144.6" fill="none" stroke="#555" stroke-width="1.1"/>
<line x1="241.9" y1="431.3" x2="244.9" y2="431.3" stroke="#555" stroke-width="0.9"/>
<text x="239.9" y="433.4" font-size="6" text-anchor="end" fill="#111">0%</text>
<line x1="425.7" y1="431.3" x2="423.2" y2="431.3" stroke="#555" stroke-width="0.9"/>
<line x1="243.1" y1="418.15" x2="244.9" y2="418.15" stroke="#555" stroke-width="0.8"/>
<line x1="425.7" y1="418.15" x2="424.2" y2="418.15" stroke="#555" stroke-width="0.8"/>
<line x1="241.9" y1="405" x2="244.9" y2="405" stroke="#555" stroke-width="0.9"/>
<text x="239.9" y="407.1" font-size="6" text-anchor="end" fill="#111">20%</text>
<line x1="425.7" y1="405" x2="423.2" y2="405" stroke="#555" stroke-width="0.9"/>
<line x1="243.1" y1="391.85" x2="244.9" y2="391.85" stroke="#555" stroke-width="0.8"/>
<line x1="425.7" y1="391.85" x2="424.2" y2="391.85" stroke="#555" stroke-width="0.8"/>
<line x1="241.9" y1="378.7" x2="244.9" y2="378.7" stroke="#555" stroke-width="0.9"/>
<text x="239.9" y="380.8" font-size="6" text-anchor="end" fill="#111">40%</text>
<line x1="425.7" y1="378.7" x2="423.2" y2="378.7" stroke="#555" stroke-width="0.9"/>
<line x1="243.1" y1="365.55" x2="244.9" y2="365.55" stroke="#555" stroke-width="0.8"/>
<line x1="425.7" y1="365.55" x2="424.2" y2="365.55" stroke="#555" stroke-width="0.8"/>
<line x1="241.9" y1="352.4" x2="244.9" y2="352.4" stroke="#555" stroke-width="0.9"/>
<text x="239.9" y="354.5" font-size="6" text-anchor="end" fill="#111">60%</text>
<line x1="425.7" y1="352.4" x2="423.2" y2="352.4" stroke="#555" stroke-width="0.9"/>
<line x1="243.1" y1="339.25" x2="244.9" y2="339.25" stroke="#555" stroke-width="0.8"/>
<line x1="425.7" y1="339.25" x2="424.2" y2="339.25" stroke="#555" stroke-width="0.8"/>
<line x1="241.9" y1="326.1" x2="244.9" y2="326.1" stroke="#555" stroke-width="0.9"/>
<text x="239.9" y="328.2" font-size="6" text-anchor="end" fill="#111">80%</text>
<line x1="425.7" y1="326.1" x2="423.2" y2="326.1" stroke="#555" stroke-width="0.9"/>
<line x1="243.1" y1="312.95" x2="244.9" y2="312.95" stroke="#555" stroke-width="0.8"/>
<line x1="425.7" y1="312.95" x2="424.2" y2="312.95" stroke="#555" stroke-width="0.8"/>
<line x1="241.9" y1="299.8" x2="244.9" y2="299.8" stroke="#555" stroke-width="0.9"/>
<text x="239.9" y="301.9" font-size="6" text-anchor="end" fill="#111">100%</text>
<line x1="425.7" y1="299.8" x2="423.2" y2="299.8" stroke="#555" stroke-width="0.9"/>
<line x1="244.9" y1="437.8" x2="244.9" y2="440.3" stroke="#555" stroke-width="0.9"/>
<line x1="244.9" y1="293.2" x2="244.9" y2="295.7" stroke="#555" stroke-width="0.9"/>
<text x="244.9" y="447.4" font-size="6.5" text-anchor="middle" fill="#111">0</text>
<line x1="287.85" y1="437.8" x2="287.85" y2="440.3" stroke="#555" stroke-width="0.9"/>
<line x1="287.85" y1="293.2" x2="287.85" y2="295.7" stroke="#555" stroke-width="0.9"/>
<text x="287.85" y="447.4" font-size="6.5" text-anchor="middle" fill="#111">500</text>
<line x1="330.8" y1="437.8" x2="330.8" y2="440.3" stroke="#555" stroke-width="0.9"/>
<line x1="330.8" y1="293.2" x2="330.8" y2="295.7" stroke="#555" stroke-width="0.9"/>
<text x="330.8" y="447.4" font-size="6.5" text-anchor="middle" fill="#111">1000</text>
<line x1="373.75" y1="437.8" x2="373.75" y2="440.3" stroke="#555" stroke-width="0.9"/>
<line x1="373.75" y1="293.2" x2="373.75" y2="295.7" stroke="#555" stroke-width="0.9"/>
<text x="373.75" y="447.4" font-size="6.5" text-anchor="middle" fill="#111">1500</text>
<line x1="416.7" y1="437.8" x2="416.7" y2="440.3" stroke="#555" stroke-width="0.9"/>
<line x1="416.7" y1="293.2" x2="416.7" y2="295.7" stroke="#555" stroke-width="0.9"/>
<text x="416.7" y="447.4" font-size="6.5" text-anchor="middle" fill="#111">2000</text>
<line x1="266.38" y1="437.8" x2="266.38" y2="439.3" stroke="#555" stroke-width="0.8"/>
<line x1="266.38" y1="293.2" x2="266.38" y2="294.7" stroke="#555" stroke-width="0.8"/>
<line x1="309.32" y1="437.8" x2="309.32" y2="439.3" stroke="#555" stroke-width="0.8"/>
<line x1="309.32" y1="293.2" x2="309.32" y2="294.7" stroke="#555" stroke-width="0.8"/>
<line x1="352.27" y1="437.8" x2="352.27" y2="439.3" stroke="#555" stroke-width="0.8"/>
<line x1="352.27" y1="293.2" x2="352.27" y2="294.7" stroke="#555" stroke-width="0.8"/>
<line x1="395.23" y1="437.8" x2="395.23" y2="439.3" stroke="#555" stroke-width="0.8"/>
<line x1="395.23" y1="293.2" x2="395.23" y2="294.7" stroke="#555" stroke-width="0.8"/>
<text x="335.3" y="458.8" font-size="7.5" text-anchor="middle" fill="#222">Total Action Count (Medium)</text>
<text transform="translate(223.5 365.2) rotate(-90)" font-size="7.5" text-anchor="middle" fill="#111">Coverage</text>
<path d="M474.48 395.8 L476.94 395.31 L479.39 394.82 L481.85 394.31 L484.31 393.81 L486.76 393.31 L489.22 392.83 L491.68 392.38 L494.14 391.95 L496.59 391.57 L499.05 391.23 L501.51 390.95 L503.96 390.72 L506.42 390.57 L508.88 390.48 L511.34 390.39 L513.79 390.3 L516.25 390.22 L518.71 390.14 L521.16 390.06 L523.62 389.99 L526.08 389.91 L528.53 389.84 L530.99 389.77 L533.45 389.7 L535.9 389.64 L538.36 389.57 L540.82 389.51 L543.28 389.45 L545.73 389.4 L548.19 389.34 L550.65 389.29 L553.1 389.24 L555.56 389.19 L558.02 389.14 L560.48 389.1 L562.93 389.05 L565.39 389.01 L567.85 388.97 L570.3 388.93 L572.76 388.9 L575.22 388.87 L577.67 388.83 L580.13 388.8 L582.59 388.78 L585.04 388.75 L587.5 388.72 L589.96 388.7 L592.42 388.68 L594.87 388.66 L597.33 388.64 L599.79 388.63 L602.24 388.61 L604.7 388.6 L607.16 388.59 L609.62 388.58 L612.07 388.58 L614.53 388.57 L616.99 388.57 L619.44 388.56 L621.9 388.56 L621.9 429.33 L619.44 429.36 L616.99 429.39 L614.53 429.43 L612.07 429.46 L609.62 429.49 L607.16 429.52 L604.7 429.56 L602.24 429.59 L599.79 429.62 L597.33 429.66 L594.87 429.69 L592.42 429.72 L589.96 429.75 L587.5 429.79 L585.04 429.82 L582.59 429.85 L580.13 429.89 L577.67 429.92 L575.22 429.95 L572.76 429.99 L570.3 430.02 L567.85 430.05 L565.39 430.08 L562.93 430.12 L560.48 430.15 L558.02 430.18 L555.56 430.22 L553.1 430.25 L550.65 430.28 L548.19 430.31 L545.73 430.35 L543.28 430.38 L540.82 430.41 L538.36 430.45 L535.9 430.48 L533.45 430.51 L530.99 430.54 L528.53 430.58 L526.08 430.61 L523.62 430.64 L521.16 430.68 L518.71 430.71 L516.25 430.74 L513.79 430.77 L511.34 430.81 L508.88 430.84 L506.42 430.87 L503.96 430.91 L501.51 430.94 L499.05 430.97 L496.59 431 L494.14 431.04 L491.68 431.07 L489.22 431.1 L486.76 431.14 L484.31 431.17 L481.85 431.2 L479.39 431.23 L476.94 431.27 L474.48 431.3Z" fill="#f3f1fb" fill-opacity="1" stroke="none"/>
<path d="M474.48 402.37 L476.94 401.76 L479.39 401.14 L481.85 400.5 L484.31 399.86 L486.76 399.24 L489.22 398.63 L491.68 398.06 L494.14 397.53 L496.59 397.05 L499.05 396.62 L501.51 396.28 L503.96 396.01 L506.42 395.83 L508.88 395.73 L511.34 395.64 L513.79 395.56 L516.25 395.47 L518.71 395.39 L521.16 395.31 L523.62 395.23 L526.08 395.16 L528.53 395.09 L530.99 395.02 L533.45 394.95 L535.9 394.88 L538.36 394.82 L540.82 394.76 L543.28 394.7 L545.73 394.64 L548.19 394.58 L550.65 394.53 L553.1 394.48 L555.56 394.43 L558.02 394.39 L560.48 394.34 L562.93 394.3 L565.39 394.26 L567.85 394.22 L570.3 394.18 L572.76 394.15 L575.22 394.11 L577.67 394.08 L580.13 394.05 L582.59 394.03 L585.04 394 L587.5 393.98 L589.96 393.96 L592.42 393.94 L594.87 393.92 L597.33 393.9 L599.79 393.89 L602.24 393.87 L604.7 393.86 L607.16 393.85 L609.62 393.84 L612.07 393.83 L614.53 393.83 L616.99 393.83 L619.44 393.82 L621.9 393.82 L621.9 428.01 L619.44 428.06 L616.99 428.1 L614.53 428.14 L612.07 428.19 L609.62 428.23 L607.16 428.28 L604.7 428.32 L602.24 428.36 L599.79 428.41 L597.33 428.45 L594.87 428.49 L592.42 428.54 L589.96 428.58 L587.5 428.63 L585.04 428.67 L582.59 428.71 L580.13 428.76 L577.67 428.8 L575.22 428.85 L572.76 428.89 L570.3 428.93 L567.85 428.98 L565.39 429.02 L562.93 429.06 L560.48 429.11 L558.02 429.15 L555.56 429.2 L553.1 429.24 L550.65 429.28 L548.19 429.33 L545.73 429.37 L543.28 429.42 L540.82 429.46 L538.36 429.5 L535.9 429.55 L533.45 429.59 L530.99 429.63 L528.53 429.68 L526.08 429.72 L523.62 429.77 L521.16 429.81 L518.71 429.85 L516.25 429.9 L513.79 429.94 L511.34 429.99 L508.88 430.03 L506.42 430.07 L503.96 430.12 L501.51 430.16 L499.05 430.2 L496.59 430.25 L494.14 430.29 L491.68 430.34 L489.22 430.38 L486.76 430.42 L484.31 430.47 L481.85 430.51 L479.39 430.55 L476.94 430.6 L474.48 430.64Z" fill="#efeff1" fill-opacity="1" stroke="none"/>
<path d="M474.48 385.14 L476.94 380 L479.39 374.91 L481.85 370.01 L484.31 365.42 L486.76 361.28 L489.22 357.71 L491.68 354.76 L494.14 351.99 L496.59 349.29 L499.05 346.64 L501.51 344.02 L503.96 341.44 L506.42 338.86 L508.88 336.22 L511.34 333.52 L513.79 330.87 L516.25 328.34 L518.71 326.02 L521.16 324 L523.62 322.3 L526.08 320.89 L528.53 319.77 L530.99 318.91 L533.45 318.31 L535.9 317.95 L538.36 317.83 L540.82 317.87 L543.28 317.98 L545.73 318.07 L548.19 318.02 L550.65 317.76 L553.1 317.3 L555.56 316.67 L558.02 315.91 L560.48 314.92 L562.93 313.66 L565.39 312.23 L567.85 310.76 L570.3 309.37 L572.76 308.16 L575.22 307.27 L577.67 306.6 L580.13 305.97 L582.59 305.36 L585.04 304.78 L587.5 304.22 L589.96 303.69 L592.42 303.19 L594.87 302.72 L597.33 302.28 L599.79 301.87 L602.24 301.51 L604.7 301.2 L607.16 300.94 L609.62 300.74 L612.07 300.61 L614.53 300.55 L616.99 300.57 L619.44 300.67 L621.9 300.85 L621.9 335.04 L619.44 335.66 L616.99 336.27 L614.53 336.87 L612.07 337.46 L609.62 338.05 L607.16 338.62 L604.7 339.19 L602.24 339.75 L599.79 340.3 L597.33 340.84 L594.87 341.36 L592.42 341.87 L589.96 342.37 L587.5 342.86 L585.04 343.36 L582.59 343.86 L580.13 344.36 L577.67 344.87 L575.22 345.39 L572.76 345.92 L570.3 346.45 L567.85 346.99 L565.39 347.55 L562.93 348.11 L560.48 348.7 L558.02 349.31 L555.56 349.98 L553.1 350.71 L550.65 351.43 L548.19 352.08 L545.73 352.62 L543.28 353.09 L540.82 353.57 L538.36 354.13 L535.9 354.85 L533.45 355.75 L530.99 356.82 L528.53 358.04 L526.08 359.39 L523.62 360.85 L521.16 362.39 L518.71 364.08 L516.25 366 L513.79 368.09 L511.34 370.24 L508.88 372.39 L506.42 374.44 L503.96 376.39 L501.51 378.3 L499.05 380.21 L496.59 382.13 L494.14 384.08 L491.68 386.06 L489.22 388.11 L486.76 390.21 L484.31 392.37 L481.85 394.58 L479.39 396.85 L476.94 399.19 L474.48 401.58Z" fill="#e4f3ea" fill-opacity="0.85" stroke="none"/>
<path d="M474.48 415.26 L476.94 412.41 L479.39 409.48 L481.85 406.49 L484.31 403.44 L486.76 400.34 L489.22 397.19 L491.68 394 L494.14 390.7 L496.59 387.33 L499.05 383.93 L501.51 380.53 L503.96 377.19 L506.42 373.94 L508.88 370.7 L511.34 367.47 L513.79 364.31 L516.25 361.26 L518.71 358.38 L521.16 355.72 L523.62 353.25 L526.08 350.9 L528.53 348.63 L530.99 346.45 L533.45 344.36 L535.9 342.39 L538.36 340.53 L540.82 338.78 L543.28 337.12 L545.73 335.51 L548.19 333.92 L550.65 332.31 L553.1 330.72 L555.56 329.18 L558.02 327.71 L560.48 326.32 L562.93 324.95 L565.39 323.63 L567.85 322.35 L570.3 321.11 L572.76 319.92 L575.22 318.78 L577.67 317.63 L580.13 316.42 L582.59 315.18 L585.04 313.96 L587.5 312.79 L589.96 311.72 L592.42 310.78 L594.87 310.02 L597.33 309.48 L599.79 309.19 L602.24 309.05 L604.7 308.88 L607.16 308.71 L609.62 308.57 L612.07 308.48 L614.53 308.47 L616.99 308.56 L619.44 308.77 L621.9 309.14 L621.9 374.23 L619.44 373.68 L616.99 373.27 L614.53 372.96 L612.07 372.73 L609.62 372.56 L607.16 372.42 L604.7 372.29 L602.24 372.14 L599.79 371.95 L597.33 371.89 L594.87 372.06 L592.42 372.44 L589.96 372.97 L587.5 373.63 L585.04 374.37 L582.59 375.15 L580.13 375.93 L577.67 376.67 L575.22 377.34 L572.76 378 L570.3 378.71 L567.85 379.46 L565.39 380.24 L562.93 381.04 L560.48 381.86 L558.02 382.68 L555.56 383.52 L553.1 384.4 L550.65 385.27 L548.19 386.09 L545.73 386.65 L543.28 386.95 L540.82 387.06 L538.36 387.08 L535.9 387.12 L533.45 387.21 L530.99 387.42 L528.53 387.79 L526.08 388.36 L523.62 389.21 L521.16 390.32 L518.71 391.6 L516.25 393.05 L513.79 394.63 L511.34 396.27 L508.88 397.95 L506.42 399.6 L503.96 401.25 L501.51 402.97 L499.05 404.74 L496.59 406.5 L494.14 408.24 L491.68 409.91 L489.22 411.49 L486.76 413.05 L484.31 414.58 L481.85 416.1 L479.39 417.6 L476.94 419.07 L474.48 420.52Z" fill="#f0f0f0" fill-opacity="0.9" stroke="none"/>
<path d="M474.48 412.5 L476.94 408.03 L479.39 403.62 L481.85 399.27 L484.31 394.99 L486.76 390.79 L489.22 386.66 L491.68 382.63 L494.14 378.74 L496.59 374.95 L499.05 371.25 L501.51 367.6 L503.96 363.97 L506.42 360.33 L508.88 356.6 L511.34 352.83 L513.79 349.13 L516.25 345.6 L518.71 342.35 L521.16 339.49 L523.62 336.92 L526.08 334.48 L528.53 332.17 L530.99 330.03 L533.45 328.11 L535.9 326.46 L538.36 325.09 L540.82 323.91 L543.28 322.85 L545.73 321.86 L548.19 320.89 L550.65 319.92 L553.1 318.99 L555.56 318.1 L558.02 317.23 L560.48 316.4 L562.93 315.6 L565.39 314.82 L567.85 314.05 L570.3 313.29 L572.76 312.51 L575.22 311.73 L577.67 310.87 L580.13 309.93 L582.59 308.93 L585.04 307.9 L587.5 306.9 L589.96 305.95 L592.42 305.09 L594.87 304.36 L597.33 303.79 L599.79 303.44 L602.24 303.22 L604.7 303.02 L607.16 302.84 L609.62 302.68 L612.07 302.55 L614.53 302.44 L616.99 302.36 L619.44 302.31 L621.9 302.3 L621.9 348.32 L619.44 348.33 L616.99 348.35 L614.53 348.39 L612.07 348.43 L609.62 348.48 L607.16 348.54 L604.7 348.61 L602.24 348.67 L599.79 348.74 L597.33 348.93 L594.87 349.32 L592.42 349.85 L589.96 350.5 L587.5 351.23 L585.04 351.99 L582.59 352.76 L580.13 353.5 L577.67 354.16 L575.22 354.72 L572.76 355.19 L570.3 355.65 L567.85 356.08 L565.39 356.5 L562.93 356.92 L560.48 357.35 L558.02 357.8 L555.56 358.27 L553.1 358.76 L550.65 359.28 L548.19 359.82 L545.73 360.36 L543.28 360.9 L540.82 361.51 L538.36 362.23 L535.9 363.13 L533.45 364.3 L530.99 365.73 L528.53 367.37 L526.08 369.18 L523.62 371.11 L521.16 373.09 L518.71 375.23 L516.25 377.62 L513.79 380.17 L511.34 382.77 L508.88 385.34 L506.42 387.76 L503.96 390.01 L501.51 392.16 L499.05 394.26 L496.59 396.35 L494.14 398.46 L491.68 400.64 L489.22 402.9 L486.76 405.23 L484.31 407.62 L481.85 410.06 L479.39 412.57 L476.94 415.13 L474.48 417.76Z" fill="#f6e8de" fill-opacity="0.85" stroke="none"/>
<path d="M474.48 394.87 L476.94 390.31 L479.39 385.84 L481.85 381.49 L484.31 377.27 L486.76 373.19 L489.22 369.25 L491.68 365.48 L494.14 361.89 L496.59 358.46 L499.05 355.15 L501.51 351.93 L503.96 348.77 L506.42 345.63 L508.88 342.43 L511.34 339.2 L513.79 336.08 L516.25 333.18 L518.71 330.64 L521.16 328.58 L523.62 326.93 L526.08 325.5 L528.53 324.2 L530.99 323.01 L533.45 321.89 L535.9 320.79 L538.36 319.72 L540.82 318.7 L543.28 317.74 L545.73 316.82 L548.19 315.94 L550.65 315.08 L553.1 314.25 L555.56 313.48 L558.02 312.79 L560.48 312.18 L562.93 311.63 L565.39 311.12 L567.85 310.63 L570.3 310.14 L572.76 309.63 L575.22 309.1 L577.67 308.48 L580.13 307.79 L582.59 307.03 L585.04 306.26 L587.5 305.48 L589.96 304.75 L592.42 304.08 L594.87 303.5 L597.33 303.05 L599.79 302.77 L602.24 302.58 L604.7 302.41 L607.16 302.26 L609.62 302.12 L612.07 302 L614.53 301.9 L616.99 301.83 L619.44 301.79 L621.9 301.77 L621.9 339.91 L619.44 339.92 L616.99 339.96 L614.53 340.02 L612.07 340.1 L609.62 340.19 L607.16 340.31 L604.7 340.43 L602.24 340.56 L599.79 340.71 L597.33 340.95 L594.87 341.35 L592.42 341.87 L589.96 342.48 L587.5 343.15 L585.04 343.85 L582.59 344.55 L580.13 345.22 L577.67 345.84 L575.22 346.36 L572.76 346.8 L570.3 347.21 L567.85 347.59 L565.39 347.97 L562.93 348.37 L560.48 348.79 L558.02 349.28 L555.56 349.84 L553.1 350.47 L550.65 351.16 L548.19 351.87 L545.73 352.6 L543.28 353.37 L540.82 354.17 L538.36 355.02 L535.9 355.92 L533.45 356.84 L530.99 357.78 L528.53 358.78 L526.08 359.89 L523.62 361.12 L521.16 362.48 L518.71 364.1 L516.25 366.05 L513.79 368.2 L511.34 370.45 L508.88 372.69 L506.42 374.79 L503.96 376.72 L501.51 378.58 L499.05 380.42 L496.59 382.28 L494.14 384.21 L491.68 386.24 L489.22 388.4 L486.76 390.7 L484.31 393.13 L481.85 395.68 L479.39 398.36 L476.94 401.16 L474.48 404.08Z" fill="#ebe5d6" fill-opacity="0.85" stroke="none"/>
<path d="M474.48 429.59 L476.94 429.38 L479.39 429.18 L481.85 428.97 L484.31 428.77 L486.76 428.56 L489.22 428.35 L491.68 428.15 L494.14 427.94 L496.59 427.74 L499.05 427.53 L501.51 427.32 L503.96 427.12 L506.42 426.91 L508.88 426.71 L511.34 426.5 L513.79 426.29 L516.25 426.09 L518.71 425.88 L521.16 425.68 L523.62 425.47 L526.08 425.26 L528.53 425.06 L530.99 424.85 L533.45 424.65 L535.9 424.44 L538.36 424.23 L540.82 424.03 L543.28 423.82 L545.73 423.62 L548.19 423.41 L550.65 423.2 L553.1 423 L555.56 422.79 L558.02 422.59 L560.48 422.38 L562.93 422.17 L565.39 421.97 L567.85 421.76 L570.3 421.56 L572.76 421.35 L575.22 421.14 L577.67 420.94 L580.13 420.73 L582.59 420.53 L585.04 420.32 L587.5 420.11 L589.96 419.91 L592.42 419.7 L594.87 419.5 L597.33 419.29 L599.79 419.08 L602.24 418.88 L604.7 418.67 L607.16 418.47 L609.62 418.26 L612.07 418.05 L614.53 417.85 L616.99 417.64 L619.44 417.44 L621.9 417.23" fill="none" stroke="#8a8a8a" stroke-width="1.05" stroke-linejoin="round"/>
<path d="M474.48 429.59 L476.94 429.46 L479.39 429.32 L481.85 429.19 L484.31 429.06 L486.76 428.93 L489.22 428.8 L491.68 428.68 L494.14 428.55 L496.59 428.42 L499.05 428.3 L501.51 428.18 L503.96 428.05 L506.42 427.93 L508.88 427.81 L511.34 427.69 L513.79 427.57 L516.25 427.46 L518.71 427.34 L521.16 427.22 L523.62 427.11 L526.08 427 L528.53 426.89 L530.99 426.78 L533.45 426.67 L535.9 426.56 L538.36 426.45 L540.82 426.35 L543.28 426.24 L545.73 426.14 L548.19 426.04 L550.65 425.94 L553.1 425.84 L555.56 425.74 L558.02 425.64 L560.48 425.55 L562.93 425.45 L565.39 425.35 L567.85 425.26 L570.3 425.16 L572.76 425.07 L575.22 424.98 L577.67 424.89 L580.13 424.8 L582.59 424.71 L585.04 424.62 L587.5 424.53 L589.96 424.44 L592.42 424.36 L594.87 424.27 L597.33 424.19 L599.79 424.11 L602.24 424.02 L604.7 423.94 L607.16 423.86 L609.62 423.79 L612.07 423.71 L614.53 423.63 L616.99 423.56 L619.44 423.48 L621.9 423.41" fill="none" stroke="#f05a64" stroke-width="1.05" stroke-linejoin="round"/>
<path d="M474.48 420.25 L476.94 419.72 L479.39 419.18 L481.85 418.66 L484.31 418.17 L486.76 417.75 L489.22 417.4 L491.68 417.16 L494.14 416.94 L496.59 416.73 L499.05 416.53 L501.51 416.34 L503.96 416.15 L506.42 415.97 L508.88 415.8 L511.34 415.64 L513.79 415.49 L516.25 415.35 L518.71 415.21 L521.16 415.08 L523.62 414.96 L526.08 414.85 L528.53 414.75 L530.99 414.65 L533.45 414.56 L535.9 414.48 L538.36 414.41 L540.82 414.35 L543.28 414.3 L545.73 414.25 L548.19 414.21 L550.65 414.18 L553.1 414.15 L555.56 414.12 L558.02 414.09 L560.48 414.06 L562.93 414.03 L565.39 414.01 L567.85 413.98 L570.3 413.95 L572.76 413.93 L575.22 413.91 L577.67 413.89 L580.13 413.86 L582.59 413.84 L585.04 413.82 L587.5 413.81 L589.96 413.79 L592.42 413.77 L594.87 413.76 L597.33 413.75 L599.79 413.73 L602.24 413.72 L604.7 413.71 L607.16 413.7 L609.62 413.7 L612.07 413.69 L614.53 413.69 L616.99 413.68 L619.44 413.68 L621.9 413.68" fill="none" stroke="#4cb47e" stroke-width="1.05" stroke-linejoin="round"/>
<path d="M474.48 409.6 L476.94 409.4 L479.39 409.2 L481.85 409 L484.31 408.81 L486.76 408.63 L489.22 408.46 L491.68 408.3 L494.14 408.15 L496.59 408.01 L499.05 407.89 L501.51 407.78 L503.96 407.68 L506.42 407.57 L508.88 407.48 L511.34 407.38 L513.79 407.29 L516.25 407.2 L518.71 407.12 L521.16 407.04 L523.62 406.97 L526.08 406.9 L528.53 406.83 L530.99 406.77 L533.45 406.71 L535.9 406.66 L538.36 406.61 L540.82 406.56 L543.28 406.52 L545.73 406.48 L548.19 406.44 L550.65 406.39 L553.1 406.35 L555.56 406.31 L558.02 406.27 L560.48 406.23 L562.93 406.19 L565.39 406.15 L567.85 406.12 L570.3 406.08 L572.76 406.05 L575.22 406.01 L577.67 405.98 L580.13 405.95 L582.59 405.92 L585.04 405.89 L587.5 405.86 L589.96 405.83 L592.42 405.81 L594.87 405.79 L597.33 405.77 L599.79 405.75 L602.24 405.73 L604.7 405.71 L607.16 405.7 L609.62 405.69 L612.07 405.68 L614.53 405.67 L616.99 405.66 L619.44 405.66 L621.9 405.66" fill="none" stroke="#5a88e0" stroke-width="1.05" stroke-linejoin="round"/>
<path d="M474.48 410.52 L476.94 409.96 L479.39 409.4 L481.85 408.85 L484.31 408.34 L486.76 407.9 L489.22 407.54 L491.68 407.29 L494.14 407.07 L496.59 406.86 L499.05 406.66 L501.51 406.47 L503.96 406.29 L506.42 406.12 L508.88 405.95 L511.34 405.8 L513.79 405.65 L516.25 405.51 L518.71 405.38 L521.16 405.25 L523.62 405.14 L526.08 405.03 L528.53 404.92 L530.99 404.83 L533.45 404.74 L535.9 404.66 L538.36 404.59 L540.82 404.52 L543.28 404.46 L545.73 404.4 L548.19 404.35 L550.65 404.31 L553.1 404.26 L555.56 404.22 L558.02 404.18 L560.48 404.14 L562.93 404.09 L565.39 404.06 L567.85 404.02 L570.3 403.98 L572.76 403.94 L575.22 403.91 L577.67 403.88 L580.13 403.84 L582.59 403.81 L585.04 403.78 L587.5 403.76 L589.96 403.73 L592.42 403.7 L594.87 403.68 L597.33 403.66 L599.79 403.64 L602.24 403.62 L604.7 403.61 L607.16 403.59 L609.62 403.58 L612.07 403.57 L614.53 403.56 L616.99 403.56 L619.44 403.55 L621.9 403.55" fill="none" stroke="#bb8ee8" stroke-width="1.05" stroke-linejoin="round"/>
<path d="M474.48 422.23 L476.94 420.7 L479.39 419.22 L481.85 417.8 L484.31 416.48 L486.76 415.26 L489.22 414.18 L491.68 413.25 L494.14 412.5 L496.59 411.94 L499.05 411.58 L501.51 411.3 L503.96 411.06 L506.42 410.85 L508.88 410.66 L511.34 410.5 L513.79 410.35 L516.25 410.21 L518.71 410.08 L521.16 409.94 L523.62 409.8 L526.08 409.66 L528.53 409.52 L530.99 409.38 L533.45 409.24 L535.9 409.11 L538.36 408.98 L540.82 408.86 L543.28 408.74 L545.73 408.63 L548.19 408.53 L550.65 408.43 L553.1 408.35 L555.56 408.27 L558.02 408.2 L560.48 408.15 L562.93 408.1 L565.39 408.05 L567.85 408 L570.3 407.95 L572.76 407.9 L575.22 407.86 L577.67 407.81 L580.13 407.77 L582.59 407.73 L585.04 407.69 L587.5 407.65 L589.96 407.62 L592.42 407.58 L594.87 407.55 L597.33 407.52 L599.79 407.49 L602.24 407.47 L604.7 407.44 L607.16 407.42 L609.62 407.41 L612.07 407.39 L614.53 407.38 L616.99 407.37 L619.44 407.37 L621.9 407.37" fill="none" stroke="#d8a428" stroke-width="1.05" stroke-linejoin="round"/>
<path d="M474.48 417.89 L476.94 416.1 L479.39 414.24 L481.85 412.32 L484.31 410.32 L486.76 408.27 L489.22 406.15 L491.68 403.97 L494.14 401.67 L496.59 399.26 L499.05 396.79 L501.51 394.3 L503.96 391.82 L506.42 389.39 L508.88 386.93 L511.34 384.43 L513.79 381.94 L516.25 379.51 L518.71 377.19 L521.16 375.02 L523.62 372.98 L526.08 371.01 L528.53 369.12 L530.99 367.31 L533.45 365.6 L535.9 363.99 L538.36 362.49 L540.82 361.1 L543.28 359.79 L545.73 358.52 L548.19 357.26 L550.65 355.98 L553.1 354.71 L555.56 353.48 L558.02 352.33 L560.48 351.22 L562.93 350.15 L565.39 349.11 L567.85 348.1 L570.3 347.12 L572.76 346.19 L575.22 345.28 L577.67 344.37 L580.13 343.38 L582.59 342.36 L585.04 341.34 L587.5 340.36 L589.96 339.47 L592.42 338.7 L594.87 338.1 L597.33 337.7 L599.79 337.54 L602.24 337.52 L604.7 337.46 L607.16 337.38 L609.62 337.32 L612.07 337.3 L614.53 337.33 L616.99 337.46 L619.44 337.69 L621.9 338.07" fill="none" stroke="#a07676" stroke-width="1.3" stroke-linejoin="round"/>
<path d="M474.48 415.13 L476.94 411.69 L479.39 408.31 L481.85 405 L484.31 401.75 L486.76 398.57 L489.22 395.45 L491.68 392.42 L494.14 389.49 L496.59 386.64 L499.05 383.84 L501.51 381.05 L503.96 378.23 L506.42 375.35 L508.88 372.33 L511.34 369.19 L513.79 366.06 L516.25 363.03 L518.71 360.19 L521.16 357.66 L523.62 355.33 L526.08 353.08 L528.53 350.95 L530.99 348.99 L533.45 347.25 L535.9 345.77 L538.36 344.57 L540.82 343.55 L543.28 342.65 L545.73 341.82 L548.19 341 L550.65 340.17 L553.1 339.38 L555.56 338.62 L558.02 337.89 L560.48 337.18 L562.93 336.5 L565.39 335.84 L567.85 335.18 L570.3 334.53 L572.76 333.86 L575.22 333.16 L577.67 332.41 L580.13 331.55 L582.59 330.63 L585.04 329.69 L587.5 328.75 L589.96 327.87 L592.42 327.07 L594.87 326.4 L597.33 325.89 L599.79 325.59 L602.24 325.41 L604.7 325.25 L607.16 325.1 L609.62 324.98 L612.07 324.86 L614.53 324.78 L616.99 324.71 L619.44 324.67 L621.9 324.65" fill="none" stroke="#ff7424" stroke-width="1.3" stroke-linejoin="round"/>
<path d="M474.48 401.45 L476.94 397.67 L479.39 394 L481.85 390.45 L484.31 387.03 L486.76 383.74 L489.22 380.58 L491.68 377.58 L494.14 374.74 L496.59 372.03 L499.05 369.41 L501.51 366.85 L503.96 364.31 L506.42 361.74 L508.88 359.06 L511.34 356.3 L513.79 353.58 L516.25 351.02 L518.71 348.75 L521.16 346.88 L523.62 345.34 L526.08 343.98 L528.53 342.75 L530.99 341.62 L533.45 340.56 L535.9 339.53 L538.36 338.51 L540.82 337.55 L543.28 336.64 L545.73 335.77 L548.19 334.94 L550.65 334.13 L553.1 333.35 L555.56 332.62 L558.02 331.98 L560.48 331.41 L562.93 330.9 L565.39 330.43 L567.85 329.98 L570.3 329.52 L572.76 329.05 L575.22 328.54 L577.67 327.96 L580.13 327.29 L582.59 326.56 L585.04 325.81 L587.5 325.06 L589.96 324.34 L592.42 323.69 L594.87 323.14 L597.33 322.7 L599.79 322.43 L602.24 322.26 L604.7 322.1 L607.16 321.96 L609.62 321.83 L612.07 321.71 L614.53 321.62 L616.99 321.55 L619.44 321.51 L621.9 321.5" fill="none" stroke="#9c9c2a" stroke-width="1.3" stroke-linejoin="round"/>
<path d="M474.48 398.95 L476.94 395.72 L479.39 392.55 L481.85 389.44 L484.31 386.39 L486.76 383.41 L489.22 380.49 L491.68 377.64 L494.14 374.87 L496.59 372.17 L499.05 369.52 L501.51 366.91 L503.96 364.32 L506.42 361.75 L508.88 359.1 L511.34 356.4 L513.79 353.75 L516.25 351.22 L518.71 348.9 L521.16 346.88 L523.62 345.08 L526.08 343.38 L528.53 341.79 L530.99 340.35 L533.45 339.06 L535.9 337.94 L538.36 337.01 L540.82 336.24 L543.28 335.55 L545.73 334.88 L548.19 334.15 L550.65 333.31 L553.1 332.4 L555.56 331.49 L558.02 330.65 L560.48 329.87 L562.93 329.12 L565.39 328.39 L567.85 327.69 L570.3 327 L572.76 326.33 L575.22 325.66 L577.67 325.01 L580.13 324.38 L582.59 323.76 L585.04 323.15 L587.5 322.55 L589.96 321.96 L592.42 321.37 L594.87 320.77 L597.33 320.17 L599.79 319.57 L602.24 318.95 L604.7 318.34 L607.16 317.72 L609.62 317.1 L612.07 316.48 L614.53 315.87 L616.99 315.25 L619.44 314.62 L621.9 314" fill="none" stroke="#50c8c0" stroke-width="1.3" stroke-linejoin="round"/>
<rect x="458.1" y="293.2" width="180.5" height="144.6" fill="none" stroke="#555" stroke-width="1.1"/>
<line x1="455.1" y1="431.3" x2="458.1" y2="431.3" stroke="#555" stroke-width="0.9"/>
<text x="453.1" y="433.4" font-size="6" text-anchor="end" fill="#111">0%</text>
<line x1="638.6" y1="431.3" x2="636.1" y2="431.3" stroke="#555" stroke-width="0.9"/>
<line x1="456.3" y1="418.15" x2="458.1" y2="418.15" stroke="#555" stroke-width="0.8"/>
<line x1="638.6" y1="418.15" x2="637.1" y2="418.15" stroke="#555" stroke-width="0.8"/>
<line x1="455.1" y1="405" x2="458.1" y2="405" stroke="#555" stroke-width="0.9"/>
<text x="453.1" y="407.1" font-size="6" text-anchor="end" fill="#111">20%</text>
<line x1="638.6" y1="405" x2="636.1" y2="405" stroke="#555" stroke-width="0.9"/>
<line x1="456.3" y1="391.85" x2="458.1" y2="391.85" stroke="#555" stroke-width="0.8"/>
<line x1="638.6" y1="391.85" x2="637.1" y2="391.85" stroke="#555" stroke-width="0.8"/>
<line x1="455.1" y1="378.7" x2="458.1" y2="378.7" stroke="#555" stroke-width="0.9"/>
<text x="453.1" y="380.8" font-size="6" text-anchor="end" fill="#111">40%</text>
<line x1="638.6" y1="378.7" x2="636.1" y2="378.7" stroke="#555" stroke-width="0.9"/>
<line x1="456.3" y1="365.55" x2="458.1" y2="365.55" stroke="#555" stroke-width="0.8"/>
<line x1="638.6" y1="365.55" x2="637.1" y2="365.55" stroke="#555" stroke-width="0.8"/>
<line x1="455.1" y1="352.4" x2="458.1" y2="352.4" stroke="#555" stroke-width="0.9"/>
<text x="453.1" y="354.5" font-size="6" text-anchor="end" fill="#111">60%</text>
<line x1="638.6" y1="352.4" x2="636.1" y2="352.4" stroke="#555" stroke-width="0.9"/>
<line x1="456.3" y1="339.25" x2="458.1" y2="339.25" stroke="#555" stroke-width="0.8"/>
<line x1="638.6" y1="339.25" x2="637.1" y2="339.25" stroke="#555" stroke-width="0.8"/>
<line x1="455.1" y1="326.1" x2="458.1" y2="326.1" stroke="#555" stroke-width="0.9"/>
<text x="453.1" y="328.2" font-size="6" text-anchor="end" fill="#111">80%</text>
<line x1="638.6" y1="326.1" x2="636.1" y2="326.1" stroke="#555" stroke-width="0.9"/>
<line x1="456.3" y1="312.95" x2="458.1" y2="312.95" stroke="#555" stroke-width="0.8"/>
<line x1="638.6" y1="312.95" x2="637.1" y2="312.95" stroke="#555" stroke-width="0.8"/>
<line x1="455.1" y1="299.8" x2="458.1" y2="299.8" stroke="#555" stroke-width="0.9"/>
<text x="453.1" y="301.9" font-size="6" text-anchor="end" fill="#111">100%</text>
<line x1="638.6" y1="299.8" x2="636.1" y2="299.8" stroke="#555" stroke-width="0.9"/>
<line x1="458.1" y1="437.8" x2="458.1" y2="440.3" stroke="#555" stroke-width="0.9"/>
<line x1="458.1" y1="293.2" x2="458.1" y2="295.7" stroke="#555" stroke-width="0.9"/>
<text x="458.1" y="447.4" font-size="6.5" text-anchor="middle" fill="#111">0</text>
<line x1="490.86" y1="437.8" x2="490.86" y2="440.3" stroke="#555" stroke-width="0.9"/>
<line x1="490.86" y1="293.2" x2="490.86" y2="295.7" stroke="#555" stroke-width="0.9"/>
<text x="490.86" y="447.4" font-size="6.5" text-anchor="middle" fill="#111">200</text>
<line x1="523.62" y1="437.8" x2="523.62" y2="440.3" stroke="#555" stroke-width="0.9"/>
<line x1="523.62" y1="293.2" x2="523.62" y2="295.7" stroke="#555" stroke-width="0.9"/>
<text x="523.62" y="447.4" font-size="6.5" text-anchor="middle" fill="#111">400</text>
<line x1="556.38" y1="437.8" x2="556.38" y2="440.3" stroke="#555" stroke-width="0.9"/>
<line x1="556.38" y1="293.2" x2="556.38" y2="295.7" stroke="#555" stroke-width="0.9"/>
<text x="556.38" y="447.4" font-size="6.5" text-anchor="middle" fill="#111">600</text>
<line x1="589.14" y1="437.8" x2="589.14" y2="440.3" stroke="#555" stroke-width="0.9"/>
<line x1="589.14" y1="293.2" x2="589.14" y2="295.7" stroke="#555" stroke-width="0.9"/>
<text x="589.14" y="447.4" font-size="6.5" text-anchor="middle" fill="#111">800</text>
<line x1="621.9" y1="437.8" x2="621.9" y2="440.3" stroke="#555" stroke-width="0.9"/>
<line x1="621.9" y1="293.2" x2="621.9" y2="295.7" stroke="#555" stroke-width="0.9"/>
<text x="621.9" y="447.4" font-size="6.5" text-anchor="middle" fill="#111">1000</text>
<line x1="474.48" y1="437.8" x2="474.48" y2="439.3" stroke="#555" stroke-width="0.8"/>
<line x1="474.48" y1="293.2" x2="474.48" y2="294.7" stroke="#555" stroke-width="0.8"/>
<line x1="507.24" y1="437.8" x2="507.24" y2="439.3" stroke="#555" stroke-width="0.8"/>
<line x1="507.24" y1="293.2" x2="507.24" y2="294.7" stroke="#555" stroke-width="0.8"/>
<line x1="540" y1="437.8" x2="540" y2="439.3" stroke="#555" stroke-width="0.8"/>
<line x1="540" y1="293.2" x2="540" y2="294.7" stroke="#555" stroke-width="0.8"/>
<line x1="572.76" y1="437.8" x2="572.76" y2="439.3" stroke="#555" stroke-width="0.8"/>
<line x1="572.76" y1="293.2" x2="572.76" y2="294.7" stroke="#555" stroke-width="0.8"/>
<line x1="605.52" y1="437.8" x2="605.52" y2="439.3" stroke="#555" stroke-width="0.8"/>
<line x1="605.52" y1="293.2" x2="605.52" y2="294.7" stroke="#555" stroke-width="0.8"/>
<text x="548.35" y="458.8" font-size="7.5" text-anchor="middle" fill="#222">Total Action Count (Small)</text>
<text transform="translate(436.7 365.2) rotate(-90)" font-size="7.5" text-anchor="middle" fill="#111">Coverage</text>
<g font-family="Liberation Serif, serif">
<text x="0.5" y="478.3" font-size="12" letter-spacing="0.42" fill="#111">Fig. 4: Simulation Results of Searching</text>
<text x="211" y="478.8" font-size="9.5" letter-spacing="0.25" fill="#222">(Number of robots: the number of robots that are deployed in each simulation trial. Left: big map; middle: medium map; right: small map.)</text>
</g>
</svg>
</body></html>
